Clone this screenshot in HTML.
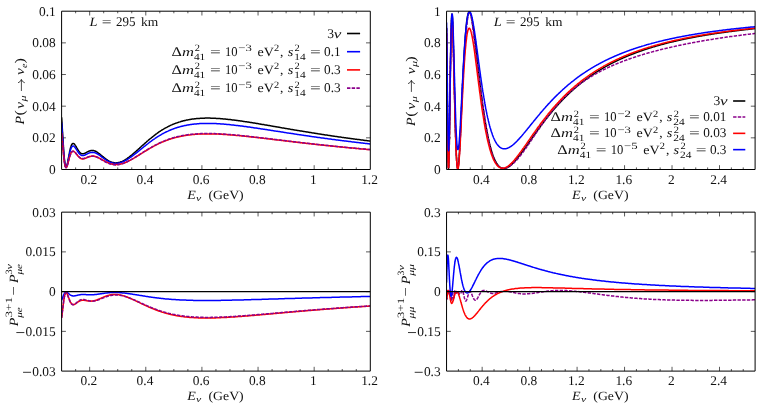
<!DOCTYPE html>
<html><head><meta charset="utf-8"><title>plot</title>
<style>html,body{margin:0;padding:0;background:#fff}svg{display:block;will-change:transform;text-rendering:geometricPrecision}</style>
</head><body>
<svg width="771" height="404" viewBox="0 0 771 404">
<rect width="771" height="404" fill="#fff"/>
<clipPath id="c1"><rect x="61.60" y="10.40" width="308.70" height="159.90"/></clipPath>
<clipPath id="c2"><rect x="446.55" y="10.40" width="308.55" height="159.90"/></clipPath>
<clipPath id="c3"><rect x="61.60" y="211.35" width="308.70" height="160.55"/></clipPath>
<clipPath id="c4"><rect x="446.55" y="211.35" width="308.55" height="160.55"/></clipPath>
<path d="M75.63,169.50v-2.1M75.63,11.20v2.1M89.66,169.50v-4.3M89.66,11.20v4.3M103.70,169.50v-2.1M103.70,11.20v2.1M117.73,169.50v-2.1M117.73,11.20v2.1M131.76,169.50v-2.1M131.76,11.20v2.1M145.79,169.50v-4.3M145.79,11.20v4.3M159.82,169.50v-2.1M159.82,11.20v2.1M173.85,169.50v-2.1M173.85,11.20v2.1M187.89,169.50v-2.1M187.89,11.20v2.1M201.92,169.50v-4.3M201.92,11.20v4.3M215.95,169.50v-2.1M215.95,11.20v2.1M229.98,169.50v-2.1M229.98,11.20v2.1M244.01,169.50v-2.1M244.01,11.20v2.1M258.05,169.50v-4.3M258.05,11.20v4.3M272.08,169.50v-2.1M272.08,11.20v2.1M286.11,169.50v-2.1M286.11,11.20v2.1M300.14,169.50v-2.1M300.14,11.20v2.1M314.17,169.50v-4.3M314.17,11.20v4.3M328.20,169.50v-2.1M328.20,11.20v2.1M342.24,169.50v-2.1M342.24,11.20v2.1M356.27,169.50v-2.1M356.27,11.20v2.1M61.60,137.84h4.3M370.30,137.84h-4.3M61.60,106.18h4.3M370.30,106.18h-4.3M61.60,74.52h4.3M370.30,74.52h-4.3M61.60,42.86h4.3M370.30,42.86h-4.3" fill="none" stroke="#000" stroke-width="0.65"/>
<path d="M458.42,169.50v-2.1M458.42,11.20v2.1M470.28,169.50v-2.1M470.28,11.20v2.1M482.15,169.50v-4.3M482.15,11.20v4.3M494.02,169.50v-2.1M494.02,11.20v2.1M505.89,169.50v-2.1M505.89,11.20v2.1M517.75,169.50v-2.1M517.75,11.20v2.1M529.62,169.50v-4.3M529.62,11.20v4.3M541.49,169.50v-2.1M541.49,11.20v2.1M553.36,169.50v-2.1M553.36,11.20v2.1M565.22,169.50v-2.1M565.22,11.20v2.1M577.09,169.50v-4.3M577.09,11.20v4.3M588.96,169.50v-2.1M588.96,11.20v2.1M600.83,169.50v-2.1M600.83,11.20v2.1M612.69,169.50v-2.1M612.69,11.20v2.1M624.56,169.50v-4.3M624.56,11.20v4.3M636.43,169.50v-2.1M636.43,11.20v2.1M648.29,169.50v-2.1M648.29,11.20v2.1M660.16,169.50v-2.1M660.16,11.20v2.1M672.03,169.50v-4.3M672.03,11.20v4.3M683.90,169.50v-2.1M683.90,11.20v2.1M695.76,169.50v-2.1M695.76,11.20v2.1M707.63,169.50v-2.1M707.63,11.20v2.1M719.50,169.50v-4.3M719.50,11.20v4.3M731.37,169.50v-2.1M731.37,11.20v2.1M743.23,169.50v-2.1M743.23,11.20v2.1M446.55,137.84h4.3M755.10,137.84h-4.3M446.55,106.18h4.3M755.10,106.18h-4.3M446.55,74.52h4.3M755.10,74.52h-4.3M446.55,42.86h4.3M755.10,42.86h-4.3" fill="none" stroke="#000" stroke-width="0.65"/>
<path d="M75.63,371.10v-2.1M75.63,212.15v2.1M89.66,371.10v-4.3M89.66,212.15v4.3M103.70,371.10v-2.1M103.70,212.15v2.1M117.73,371.10v-2.1M117.73,212.15v2.1M131.76,371.10v-2.1M131.76,212.15v2.1M145.79,371.10v-4.3M145.79,212.15v4.3M159.82,371.10v-2.1M159.82,212.15v2.1M173.85,371.10v-2.1M173.85,212.15v2.1M187.89,371.10v-2.1M187.89,212.15v2.1M201.92,371.10v-4.3M201.92,212.15v4.3M215.95,371.10v-2.1M215.95,212.15v2.1M229.98,371.10v-2.1M229.98,212.15v2.1M244.01,371.10v-2.1M244.01,212.15v2.1M258.05,371.10v-4.3M258.05,212.15v4.3M272.08,371.10v-2.1M272.08,212.15v2.1M286.11,371.10v-2.1M286.11,212.15v2.1M300.14,371.10v-2.1M300.14,212.15v2.1M314.17,371.10v-4.3M314.17,212.15v4.3M328.20,371.10v-2.1M328.20,212.15v2.1M342.24,371.10v-2.1M342.24,212.15v2.1M356.27,371.10v-2.1M356.27,212.15v2.1M61.60,331.36h4.3M370.30,331.36h-4.3M61.60,291.62h4.3M370.30,291.62h-4.3M61.60,251.89h4.3M370.30,251.89h-4.3" fill="none" stroke="#000" stroke-width="0.65"/>
<path d="M458.42,371.10v-2.1M458.42,212.15v2.1M470.28,371.10v-2.1M470.28,212.15v2.1M482.15,371.10v-4.3M482.15,212.15v4.3M494.02,371.10v-2.1M494.02,212.15v2.1M505.89,371.10v-2.1M505.89,212.15v2.1M517.75,371.10v-2.1M517.75,212.15v2.1M529.62,371.10v-4.3M529.62,212.15v4.3M541.49,371.10v-2.1M541.49,212.15v2.1M553.36,371.10v-2.1M553.36,212.15v2.1M565.22,371.10v-2.1M565.22,212.15v2.1M577.09,371.10v-4.3M577.09,212.15v4.3M588.96,371.10v-2.1M588.96,212.15v2.1M600.83,371.10v-2.1M600.83,212.15v2.1M612.69,371.10v-2.1M612.69,212.15v2.1M624.56,371.10v-4.3M624.56,212.15v4.3M636.43,371.10v-2.1M636.43,212.15v2.1M648.29,371.10v-2.1M648.29,212.15v2.1M660.16,371.10v-2.1M660.16,212.15v2.1M672.03,371.10v-4.3M672.03,212.15v4.3M683.90,371.10v-2.1M683.90,212.15v2.1M695.76,371.10v-2.1M695.76,212.15v2.1M707.63,371.10v-2.1M707.63,212.15v2.1M719.50,371.10v-4.3M719.50,212.15v4.3M731.37,371.10v-2.1M731.37,212.15v2.1M743.23,371.10v-2.1M743.23,212.15v2.1M446.55,331.36h4.3M755.10,331.36h-4.3M446.55,291.62h4.3M755.10,291.62h-4.3M446.55,251.89h4.3M755.10,251.89h-4.3" fill="none" stroke="#000" stroke-width="0.65"/>
<g clip-path="url(#c1)">
<path d="M61.6 117.4L61.7 118.1L61.7 118.8L61.8 119.5L61.8 120.3L61.9 121.1L61.9 121.8L62.0 122.7L62.0 123.5L62.1 124.3L62.1 125.2L62.2 126.1L62.2 126.7L62.3 127.8L62.3 128.7L62.4 129.7L62.4 130.6L62.5 131.5L62.6 132.4L62.6 133.4L62.7 134.3L62.7 135.3L62.8 136.2L62.8 137.2L62.9 138.1L63.0 139.1L63.0 140.0L63.1 140.9L63.1 141.9L63.2 142.8L63.2 143.7L63.3 144.6L63.4 145.5L63.4 146.4L63.5 147.1L63.5 148.2L63.6 149.1L63.6 149.9L63.7 150.7L63.8 151.6L63.8 152.4L63.9 153.1L63.9 153.9L64.0 154.7L64.1 155.4L64.1 156.1L64.2 156.8L64.3 157.5L64.3 158.2L64.4 158.8L64.4 159.4L64.5 160.0L64.6 160.6L64.6 161.1L64.7 161.6L64.8 162.1L64.8 162.6L64.9 163.1L64.9 163.5L65.0 163.9L65.1 164.6L65.3 165.2L65.4 165.8L65.5 166.2L65.7 166.5L65.9 166.8L66.4 166.8L66.5 166.4L66.7 166.0L66.9 165.6L67.0 165.1L67.2 164.6L67.3 163.9L67.5 163.3L67.6 162.5L67.7 162.2L67.8 161.8L67.8 161.4L67.9 161.0L68.0 160.6L68.1 160.1L68.1 159.7L68.2 159.3L68.3 158.8L68.4 158.4L68.5 158.0L68.5 157.5L68.6 157.1L68.7 156.6L68.8 156.2L68.9 155.7L69.0 155.2L69.0 154.9L69.1 154.4L69.2 153.9L69.3 153.5L69.4 153.0L69.5 152.6L69.5 152.2L69.6 151.7L69.7 151.3L69.8 150.9L69.9 150.5L70.0 150.1L70.1 149.7L70.1 149.4L70.2 149.0L70.4 148.3L70.6 147.6L70.8 147.0L70.9 146.7L71.0 146.2L71.2 145.7L71.4 145.2L71.6 144.8L71.8 144.5L72.0 144.2L72.3 143.8L72.6 143.6L73.0 143.4L73.5 143.5L73.8 143.7L74.1 143.9L74.5 144.2L74.7 144.5L74.9 144.8L75.1 145.1L75.3 145.4L75.6 145.8L75.8 146.1L76.0 146.5L76.3 146.9L76.5 147.4L76.8 147.8L77.0 148.2L77.3 148.6L77.5 149.1L77.7 149.3L77.9 149.7L78.2 150.1L78.4 150.5L78.7 150.9L78.9 151.2L79.2 151.6L79.5 152.0L79.8 152.3L80.1 152.6L80.3 152.9L80.6 153.1L80.9 153.3L81.2 153.5L81.7 153.7L82.1 153.8L82.6 153.8L83.1 153.8L83.6 153.7L84.1 153.6L84.4 153.5L84.7 153.3L85.1 153.2L85.4 153.0L85.8 152.8L86.1 152.6L86.5 152.4L86.9 152.2L87.3 152.0L87.6 151.9L88.0 151.6L88.4 151.4L88.8 151.2L89.2 151.1L89.6 150.9L90.0 150.8L90.5 150.7L90.9 150.6L91.3 150.5L91.8 150.5L92.2 150.5L92.7 150.5L93.1 150.5L93.6 150.6L94.1 150.7L94.6 150.9L95.0 151.0L95.5 151.3L96.1 151.5L96.6 151.8L96.9 152.0L97.4 152.3L97.9 152.7L98.2 152.9L98.4 153.1L98.7 153.3L99.0 153.5L99.3 153.7L99.6 153.9L99.9 154.1L100.1 154.4L100.4 154.6L100.7 154.9L101.0 155.1L101.3 155.4L101.6 155.6L101.9 155.9L102.2 156.1L102.5 156.4L102.9 156.6L103.2 156.9L103.5 157.2L103.8 157.4L104.1 157.7L104.5 158.0L104.8 158.2L105.1 158.5L105.5 158.7L105.8 159.0L106.1 159.2L106.5 159.5L106.9 159.7L107.2 160.0L107.6 160.2L107.9 160.4L108.3 160.6L108.6 160.8L109.0 161.1L109.4 161.3L109.8 161.4L110.2 161.6L110.6 161.8L110.9 161.9L111.3 162.1L111.7 162.2L112.1 162.4L112.5 162.5L112.9 162.6L113.4 162.6L113.8 162.7L114.2 162.8L114.6 162.8L115.1 162.9L115.5 162.9L116.0 162.9L116.7 162.8L117.3 162.8L117.8 162.7L118.2 162.6L118.7 162.5L119.1 162.4L119.7 162.3L120.2 162.1L120.7 162.0L121.0 161.8L121.6 161.6L122.2 161.4L122.7 161.1L123.2 160.9L123.7 160.6L124.1 160.4L124.7 160.0L125.3 159.7L125.9 159.3L126.5 158.9L127.1 158.6L127.6 158.2L128.2 157.7L128.8 157.3L129.4 156.8L130.0 156.4L130.3 156.2L130.6 155.9L130.9 155.7L131.2 155.4L131.5 155.2L131.9 154.9L132.1 154.7L132.5 154.3L133.1 153.8L133.8 153.2L134.5 152.7L135.1 152.1L135.8 151.5L136.5 150.9L137.1 150.3L137.7 149.8L138.3 149.2L138.6 148.9L138.9 148.7L139.4 148.3L140.1 147.6L140.8 147.0L141.4 146.4L142.0 145.8L142.4 145.5L142.6 145.3L143.2 144.8L143.9 144.2L144.5 143.6L144.8 143.4L145.1 143.1L145.6 142.7L146.4 142.0L147.0 141.4L147.2 141.2L147.6 140.9L148.1 140.5L148.8 139.8L149.4 139.3L149.8 139.0L150.7 138.3L151.3 137.8L151.6 137.5L151.9 137.3L152.5 136.8L153.2 136.3L153.5 136.0L153.8 135.8L154.4 135.3L155.0 134.9L155.4 134.6L156.3 133.9L156.9 133.5L157.4 133.1L158.1 132.6L158.4 132.4L158.7 132.2L159.3 131.7L160.0 131.3L160.5 131.0L161.2 130.5L161.5 130.3L161.8 130.1L162.4 129.7L163.1 129.4L163.7 129.0L164.3 128.6L164.8 128.3L165.5 127.9L166.0 127.7L166.8 127.3L167.1 127.1L168.0 126.6L168.6 126.3L169.2 126.0L169.9 125.7L170.5 125.4L171.1 125.1L171.7 124.9L172.3 124.6L173.0 124.3L173.6 124.1L174.2 123.8L174.8 123.6L175.4 123.3L175.8 123.2L176.7 122.9L177.2 122.7L177.9 122.5L178.5 122.3L179.1 122.1L179.8 121.9L180.4 121.7L181.0 121.5L181.6 121.3L182.2 121.2L182.8 121.0L183.5 120.8L184.1 120.7L184.7 120.5L185.3 120.4L185.8 120.3L186.6 120.1L187.2 120.0L187.8 119.9L188.4 119.7L188.8 119.7L189.7 119.5L190.3 119.4L190.9 119.3L191.5 119.2L192.1 119.1L192.8 119.1L193.4 119.0L194.0 118.9L194.6 118.8L195.2 118.7L195.8 118.7L196.5 118.6L197.1 118.6L197.7 118.5L198.3 118.5L198.9 118.4L199.6 118.4L200.2 118.3L200.7 118.3L201.4 118.3L202.0 118.2L202.6 118.2L203.3 118.2L203.9 118.2L204.5 118.2L205.1 118.1L205.7 118.1L206.4 118.1L207.0 118.1L207.6 118.1L208.2 118.1L208.8 118.1L209.5 118.1L210.1 118.1L210.7 118.2L211.3 118.2L211.9 118.2L212.5 118.2L213.2 118.2L213.8 118.3L214.4 118.3L215.0 118.3L215.6 118.3L216.3 118.4L216.8 118.4L217.5 118.5L218.1 118.5L218.7 118.5L219.4 118.6L220.0 118.6L220.6 118.7L221.2 118.7L221.8 118.8L222.4 118.8L223.1 118.9L223.6 118.9L224.3 119.0L224.9 119.0L225.5 119.1L226.0 119.2L226.8 119.2L227.4 119.3L228.0 119.4L228.5 119.4L229.3 119.5L229.9 119.6L230.5 119.6L231.0 119.7L231.7 119.8L232.3 119.9L233.0 119.9L233.6 120.0L234.2 120.1L234.8 120.2L235.4 120.3L236.1 120.3L236.7 120.4L237.3 120.5L237.9 120.6L238.5 120.7L239.0 120.7L239.8 120.8L240.4 120.9L241.0 121.0L241.6 121.1L242.2 121.2L242.9 121.3L243.5 121.4L244.1 121.5L244.6 121.6L245.3 121.7L246.0 121.7L246.6 121.8L247.2 121.9L247.6 122.0L248.4 122.1L249.0 122.2L249.7 122.3L250.3 122.4L250.9 122.5L251.5 122.6L252.1 122.7L252.8 122.8L253.4 122.9L253.8 123.0L254.6 123.1L255.2 123.2L255.9 123.3L256.5 123.4L257.0 123.5L257.7 123.6L258.3 123.7L258.9 123.8L259.6 123.9L260.2 124.0L260.8 124.2L261.4 124.3L262.0 124.4L262.7 124.5L263.3 124.6L263.7 124.6L264.5 124.8L265.1 124.9L265.8 125.0L266.4 125.1L267.0 125.2L267.6 125.3L268.2 125.4L268.8 125.5L269.5 125.6L270.1 125.7L270.7 125.8L271.3 125.9L271.9 126.1L272.6 126.2L273.2 126.3L273.8 126.4L274.4 126.5L275.0 126.6L275.6 126.7L276.3 126.8L276.9 126.9L277.5 127.0L278.1 127.1L278.7 127.2L279.4 127.3L280.0 127.4L280.6 127.6L281.2 127.7L281.8 127.8L282.5 127.9L283.1 128.0L283.7 128.1L284.3 128.2L284.9 128.3L285.5 128.4L286.2 128.5L286.6 128.6L287.4 128.7L288.0 128.8L288.6 128.9L289.3 129.0L289.9 129.1L290.5 129.3L291.1 129.4L291.7 129.5L292.4 129.6L293.0 129.7L293.6 129.8L294.2 129.9L294.8 130.0L295.3 130.1L296.1 130.2L296.7 130.3L297.3 130.4L297.9 130.5L298.5 130.6L299.2 130.7L299.8 130.8L300.4 130.9L301.0 131.0L301.6 131.1L302.2 131.2L302.9 131.3L303.5 131.4L304.1 131.5L304.6 131.6L305.3 131.7L306.0 131.8L306.6 131.9L307.2 132.0L307.8 132.1L308.4 132.2L309.1 132.3L309.5 132.4L310.3 132.5L310.9 132.6L311.5 132.7L312.1 132.8L312.8 132.9L313.4 133.0L314.0 133.1L314.5 133.2L315.2 133.3L315.9 133.4L316.5 133.5L317.1 133.6L317.7 133.7L318.3 133.8L319.0 133.9L319.6 134.0L320.2 134.1L320.8 134.2L321.4 134.3L322.0 134.4L322.7 134.5L323.3 134.6L323.9 134.7L324.5 134.8L325.1 134.9L325.8 135.0L326.4 135.1L327.0 135.1L327.6 135.2L328.2 135.3L328.9 135.4L329.5 135.5L330.1 135.6L330.7 135.7L331.3 135.8L331.9 135.9L332.6 136.0L333.2 136.1L333.8 136.2L334.4 136.2L335.0 136.3L335.7 136.4L336.3 136.5L336.9 136.6L337.5 136.7L338.1 136.8L338.7 136.9L339.4 137.0L340.0 137.0L340.6 137.1L341.2 137.2L341.8 137.3L342.5 137.4L343.0 137.5L343.7 137.6L344.3 137.7L344.9 137.7L345.6 137.8L346.2 137.9L346.8 138.0L347.4 138.1L348.0 138.2L348.6 138.3L349.3 138.3L349.9 138.4L350.5 138.5L351.1 138.6L351.7 138.7L352.4 138.8L353.0 138.8L353.6 138.9L354.2 139.0L354.8 139.1L355.5 139.2L356.1 139.2L356.7 139.3L357.3 139.4L357.9 139.5L358.5 139.6L359.2 139.6L359.8 139.7L360.4 139.8L361.0 139.9L361.6 140.0L362.3 140.0L362.9 140.1L363.5 140.2L364.1 140.3L364.7 140.4L365.4 140.4L366.0 140.5L366.6 140.6L367.2 140.7L367.8 140.7L368.4 140.8L369.1 140.9L369.7 141.0L370.3 141.0" fill="none" stroke="#000000" stroke-width="1.5" stroke-linejoin="round"/>
<path d="M61.6 122.6L61.7 123.2L61.7 123.9L61.8 124.6L61.8 125.2L61.9 125.9L61.9 126.6L62.0 127.4L62.0 128.1L62.1 128.9L62.1 129.7L62.2 130.4L62.2 131.0L62.3 132.0L62.3 132.9L62.4 133.7L62.4 134.5L62.5 135.3L62.6 136.2L62.6 137.0L62.7 137.9L62.7 138.7L62.8 139.6L62.8 140.4L62.9 141.3L63.0 142.1L63.0 143.0L63.1 143.8L63.1 144.7L63.2 145.5L63.2 146.3L63.3 147.2L63.4 148.0L63.4 148.8L63.5 149.4L63.5 150.4L63.6 151.1L63.6 151.9L63.7 152.6L63.8 153.4L63.8 154.1L63.9 154.8L63.9 155.5L64.0 156.2L64.1 156.8L64.1 157.5L64.2 158.1L64.3 158.7L64.3 159.3L64.4 159.9L64.4 160.4L64.5 161.0L64.6 161.5L64.6 162.0L64.7 162.4L64.8 162.9L64.8 163.3L64.9 163.7L65.0 164.4L65.1 165.1L65.3 165.7L65.4 166.1L65.5 166.5L65.7 166.9L66.0 167.2L66.4 167.0L66.5 166.7L66.7 166.3L66.9 166.0L67.0 165.5L67.2 165.0L67.3 164.4L67.5 163.8L67.6 163.2L67.8 162.5L67.9 161.8L68.0 161.4L68.1 161.0L68.1 160.6L68.2 160.2L68.3 159.8L68.4 159.4L68.5 159.0L68.5 158.6L68.6 158.2L68.7 157.8L68.8 157.4L68.9 157.0L69.0 156.6L69.0 156.2L69.1 155.8L69.2 155.4L69.3 155.0L69.4 154.6L69.5 154.2L69.5 153.8L69.6 153.4L69.7 153.1L69.8 152.7L70.0 152.0L70.1 151.3L70.3 150.8L70.4 150.3L70.6 149.7L70.8 149.2L70.9 148.7L71.1 148.2L71.3 147.8L71.5 147.4L71.7 147.1L71.9 146.8L72.1 146.5L72.4 146.3L72.7 146.1L73.1 146.0L73.5 146.1L73.8 146.2L74.1 146.5L74.5 146.8L74.7 147.0L74.9 147.3L75.1 147.6L75.3 147.9L75.6 148.2L75.8 148.5L76.0 148.9L76.3 149.3L76.5 149.7L76.8 150.0L77.0 150.4L77.3 150.8L77.5 151.2L77.8 151.6L78.0 152.0L78.3 152.4L78.6 152.7L78.8 153.1L79.1 153.4L79.4 153.7L79.6 154.0L79.9 154.3L80.2 154.5L80.5 154.8L80.8 155.0L81.1 155.2L81.4 155.3L81.8 155.5L82.3 155.6L82.8 155.6L83.2 155.5L83.7 155.4L84.2 155.3L84.6 155.2L84.9 155.0L85.3 154.9L85.6 154.7L86.0 154.5L86.3 154.4L86.7 154.2L87.1 154.0L87.4 153.8L87.8 153.6L88.2 153.4L88.6 153.2L89.0 153.1L89.4 152.9L89.8 152.8L90.3 152.6L90.7 152.5L91.1 152.4L91.5 152.4L92.0 152.4L92.4 152.3L92.9 152.4L93.4 152.4L93.8 152.5L94.3 152.6L94.8 152.7L95.3 152.9L95.6 153.0L96.1 153.2L96.6 153.5L97.1 153.7L97.5 154.0L97.9 154.2L98.4 154.6L98.7 154.7L99.0 154.9L99.3 155.1L99.6 155.3L99.9 155.5L100.1 155.7L100.4 155.9L100.7 156.2L101.0 156.4L101.3 156.6L101.6 156.8L101.9 157.1L102.2 157.3L102.5 157.5L102.9 157.8L103.2 158.0L103.5 158.2L103.8 158.5L104.1 158.7L104.5 158.9L104.8 159.2L105.1 159.4L105.5 159.6L105.8 159.9L106.1 160.1L106.5 160.3L106.9 160.5L107.2 160.7L107.6 160.9L107.9 161.2L108.3 161.3L108.6 161.5L109.0 161.7L109.4 161.9L109.8 162.1L110.2 162.2L110.6 162.4L110.9 162.5L111.3 162.7L111.7 162.8L112.1 162.9L112.5 163.0L112.9 163.1L113.4 163.2L113.8 163.3L114.2 163.3L114.6 163.4L115.1 163.4L115.5 163.4L116.0 163.4L116.7 163.4L117.3 163.3L117.8 163.3L118.2 163.2L118.7 163.1L119.1 163.0L119.7 162.9L120.2 162.8L120.7 162.6L121.2 162.5L121.6 162.3L122.2 162.1L122.7 161.9L123.2 161.7L123.7 161.4L124.1 161.3L124.7 160.9L125.3 160.6L125.9 160.3L126.5 160.0L127.1 159.6L127.6 159.3L128.2 158.9L128.8 158.5L129.4 158.1L130.0 157.7L130.3 157.5L130.6 157.3L130.9 157.1L131.2 156.8L131.5 156.6L131.9 156.4L132.1 156.2L132.5 155.9L133.1 155.4L133.8 154.9L134.5 154.4L135.1 153.9L135.8 153.3L136.5 152.8L137.1 152.3L137.7 151.8L138.3 151.3L138.6 151.1L138.9 150.8L139.4 150.5L140.1 149.9L140.8 149.3L141.4 148.8L142.0 148.3L142.4 148.0L142.6 147.8L143.2 147.4L143.9 146.8L144.5 146.3L144.8 146.1L145.1 145.8L145.6 145.5L146.4 144.8L147.0 144.4L147.2 144.1L147.6 143.9L148.1 143.5L148.8 142.9L149.4 142.5L149.8 142.2L150.7 141.5L151.3 141.1L151.6 140.8L151.9 140.6L152.5 140.2L153.2 139.7L153.5 139.5L153.8 139.3L154.4 138.9L155.0 138.5L155.4 138.2L156.3 137.6L156.9 137.2L157.4 136.9L158.1 136.4L158.7 136.1L159.3 135.7L160.0 135.3L160.5 135.0L161.2 134.6L161.5 134.4L161.8 134.2L162.4 133.9L163.1 133.5L163.7 133.2L164.3 132.9L164.8 132.6L165.5 132.3L166.0 132.0L166.8 131.6L167.1 131.5L168.0 131.1L168.6 130.8L169.2 130.5L169.9 130.3L170.5 130.0L171.1 129.7L171.7 129.5L172.3 129.2L173.0 129.0L173.6 128.8L174.2 128.6L174.8 128.3L175.4 128.1L175.8 128.0L176.7 127.7L177.2 127.6L177.9 127.3L178.5 127.2L179.1 127.0L179.8 126.8L180.4 126.6L181.0 126.5L181.6 126.3L182.2 126.2L182.8 126.0L183.5 125.9L184.1 125.7L184.7 125.6L185.3 125.5L185.8 125.4L186.6 125.2L187.2 125.1L187.8 125.0L188.4 124.9L188.8 124.8L189.7 124.7L190.3 124.6L190.9 124.5L191.5 124.4L192.1 124.3L192.8 124.3L193.4 124.2L194.0 124.1L194.6 124.0L195.2 124.0L195.8 123.9L196.5 123.9L197.1 123.8L197.7 123.8L198.3 123.7L198.9 123.7L199.6 123.6L200.2 123.6L200.7 123.6L201.4 123.5L202.0 123.5L202.6 123.5L203.3 123.5L203.9 123.5L204.5 123.4L205.1 123.4L205.7 123.4L206.4 123.4L207.0 123.4L207.6 123.4L208.2 123.4L208.8 123.4L209.5 123.4L210.1 123.4L210.7 123.4L211.3 123.5L211.9 123.5L212.5 123.5L213.2 123.5L213.8 123.5L214.4 123.5L215.0 123.6L215.6 123.6L216.3 123.6L216.8 123.7L217.5 123.7L218.1 123.7L218.7 123.8L219.4 123.8L220.0 123.8L220.6 123.9L221.2 123.9L221.8 124.0L222.4 124.0L223.1 124.1L223.6 124.1L224.3 124.2L224.9 124.2L225.5 124.3L226.0 124.3L226.8 124.4L227.4 124.4L228.0 124.5L228.5 124.5L229.3 124.6L229.9 124.7L230.5 124.7L231.0 124.8L231.7 124.9L232.3 124.9L233.0 125.0L233.6 125.1L234.2 125.2L234.8 125.2L235.4 125.3L236.1 125.4L236.7 125.4L237.3 125.5L237.9 125.6L238.5 125.7L239.0 125.7L239.8 125.8L240.4 125.9L241.0 126.0L241.6 126.1L242.2 126.1L242.9 126.2L243.5 126.3L244.1 126.4L244.6 126.5L245.3 126.5L246.0 126.6L246.6 126.7L247.2 126.8L247.6 126.9L248.4 127.0L249.0 127.1L249.7 127.1L250.3 127.2L250.9 127.3L251.5 127.4L252.1 127.5L252.8 127.6L253.4 127.7L253.8 127.7L254.6 127.9L255.2 128.0L255.9 128.0L256.5 128.1L257.0 128.2L257.7 128.3L258.3 128.4L258.9 128.5L259.6 128.6L260.2 128.7L260.8 128.8L261.4 128.9L262.0 129.0L262.7 129.1L263.3 129.2L263.7 129.2L264.5 129.3L265.1 129.4L265.8 129.5L266.4 129.6L267.0 129.7L267.6 129.8L268.2 129.9L268.8 130.0L269.5 130.1L270.1 130.2L270.7 130.3L271.3 130.4L271.9 130.5L272.6 130.6L273.2 130.7L273.8 130.8L274.4 130.9L275.0 131.0L275.6 131.1L276.3 131.2L276.9 131.3L277.5 131.3L278.1 131.4L278.7 131.5L279.4 131.6L280.0 131.7L280.6 131.8L281.2 131.9L281.8 132.0L282.5 132.1L283.1 132.2L283.7 132.3L284.3 132.4L284.9 132.5L285.5 132.6L286.2 132.7L286.6 132.8L287.4 132.9L288.0 133.0L288.6 133.1L289.3 133.2L289.9 133.3L290.5 133.3L291.1 133.4L291.7 133.5L292.4 133.6L293.0 133.7L293.6 133.8L294.2 133.9L294.8 134.0L295.3 134.1L296.1 134.2L296.7 134.3L297.3 134.4L297.9 134.5L298.5 134.6L299.2 134.7L299.8 134.8L300.4 134.8L301.0 134.9L301.6 135.0L302.2 135.1L302.9 135.2L303.5 135.3L304.1 135.4L304.6 135.5L305.3 135.6L306.0 135.7L306.6 135.8L307.2 135.8L307.8 135.9L308.4 136.0L309.1 136.1L309.5 136.2L310.3 136.3L310.9 136.4L311.5 136.5L312.1 136.6L312.8 136.7L313.4 136.7L314.0 136.8L314.5 136.9L315.2 137.0L315.9 137.1L316.5 137.2L317.1 137.3L317.7 137.4L318.3 137.4L319.0 137.5L319.6 137.6L320.2 137.7L320.8 137.8L321.4 137.9L322.0 138.0L322.7 138.0L323.3 138.1L323.9 138.2L324.5 138.3L325.1 138.4L325.8 138.5L326.4 138.6L327.0 138.6L327.6 138.7L328.2 138.8L328.9 138.9L329.5 139.0L330.1 139.1L330.7 139.1L331.3 139.2L331.9 139.3L332.6 139.4L333.2 139.5L333.8 139.5L334.4 139.6L335.0 139.7L335.7 139.8L336.3 139.9L336.9 139.9L337.5 140.0L338.1 140.1L338.7 140.2L339.4 140.3L340.0 140.3L340.6 140.4L341.2 140.5L341.8 140.6L342.5 140.7L343.0 140.7L343.7 140.8L344.3 140.9L344.9 141.0L345.6 141.0L346.2 141.1L346.8 141.2L347.4 141.3L348.0 141.3L348.6 141.4L349.3 141.5L349.9 141.6L350.5 141.6L351.1 141.7L351.7 141.8L352.4 141.9L353.0 141.9L353.6 142.0L354.2 142.1L354.8 142.2L355.5 142.2L356.1 142.3L356.7 142.4L357.3 142.5L357.9 142.5L358.5 142.6L359.2 142.7L359.8 142.7L360.4 142.8L361.0 142.9L361.6 143.0L362.3 143.0L362.9 143.1L363.5 143.2L364.1 143.2L364.7 143.3L365.4 143.4L366.0 143.5L366.6 143.5L367.2 143.6L367.8 143.7L368.4 143.7L369.1 143.8L369.7 143.9L370.3 143.9" fill="none" stroke="#0000ff" stroke-width="1.5" stroke-linejoin="round"/>
<path d="M61.6 133.1L61.7 133.6L61.7 134.1L61.8 134.6L61.8 135.1L61.9 135.7L61.9 136.2L62.0 136.8L62.0 137.4L62.1 138.0L62.1 138.6L62.2 139.2L62.2 139.6L62.3 140.4L62.3 141.1L62.4 141.7L62.4 142.3L62.5 143.0L62.6 143.6L62.6 144.3L62.7 145.0L62.7 145.6L62.8 146.3L62.8 146.9L62.9 147.6L63.0 148.3L63.0 148.9L63.1 149.6L63.1 150.2L63.2 150.9L63.2 151.5L63.3 152.2L63.4 152.8L63.4 153.4L63.5 153.9L63.5 154.6L63.6 155.2L63.6 155.8L63.7 156.4L63.8 157.0L63.8 157.6L63.9 158.1L63.9 158.6L64.0 159.2L64.1 159.7L64.1 160.2L64.2 160.7L64.3 161.1L64.3 161.6L64.4 162.0L64.4 162.5L64.5 162.9L64.6 163.3L64.7 164.0L64.8 164.7L64.9 165.3L65.1 165.8L65.2 166.3L65.3 166.7L65.5 167.0L65.7 167.4L65.9 167.6L66.4 167.5L66.6 167.2L66.8 166.8L66.9 166.5L67.1 166.1L67.2 165.7L67.4 165.2L67.5 164.7L67.7 164.2L67.8 163.8L67.9 163.4L68.1 162.8L68.2 162.2L68.4 161.5L68.5 160.9L68.7 160.3L68.9 159.6L69.0 159.0L69.2 158.4L69.4 157.8L69.5 157.2L69.6 156.8L69.8 156.3L70.0 155.7L70.1 155.2L70.3 154.9L70.4 154.5L70.6 154.0L70.8 153.6L70.9 153.2L71.1 152.8L71.3 152.5L71.5 152.2L71.7 151.9L72.0 151.6L72.3 151.4L72.7 151.2L73.2 151.2L73.6 151.3L73.9 151.5L74.2 151.7L74.6 151.9L74.9 152.3L75.1 152.5L75.3 152.7L75.6 153.0L75.8 153.3L76.0 153.6L76.3 153.9L76.5 154.2L76.8 154.5L77.0 154.8L77.3 155.1L77.5 155.5L77.8 155.8L78.0 156.1L78.3 156.4L78.6 156.7L78.8 157.0L79.1 157.2L79.4 157.5L79.6 157.7L79.9 158.0L80.2 158.2L80.5 158.3L80.9 158.6L81.4 158.7L81.8 158.9L82.3 158.9L82.8 158.9L83.2 158.9L83.7 158.8L84.2 158.7L84.7 158.5L85.1 158.4L85.4 158.3L85.8 158.1L86.1 158.0L86.5 157.8L86.9 157.7L87.3 157.5L87.6 157.4L88.0 157.2L88.4 157.0L88.8 156.9L89.2 156.7L89.6 156.6L90.0 156.5L90.5 156.4L90.9 156.3L91.3 156.2L91.8 156.2L92.2 156.1L92.7 156.1L93.1 156.1L93.6 156.1L94.1 156.2L94.6 156.3L95.0 156.4L95.5 156.5L96.1 156.7L96.6 156.9L97.1 157.1L97.5 157.2L97.9 157.4L98.4 157.7L99.0 157.9L99.3 158.1L99.9 158.4L100.4 158.7L100.7 158.9L101.0 159.0L101.3 159.2L101.6 159.4L101.9 159.5L102.2 159.7L102.5 159.9L102.9 160.1L103.2 160.3L103.5 160.4L103.8 160.6L104.1 160.8L104.5 161.0L104.8 161.2L105.1 161.4L105.5 161.5L105.8 161.7L106.1 161.9L106.5 162.1L106.9 162.2L107.2 162.4L107.6 162.6L107.9 162.7L108.3 162.9L108.6 163.0L109.0 163.2L109.4 163.3L109.8 163.4L110.2 163.6L110.6 163.7L110.9 163.8L111.3 163.9L111.7 164.0L112.1 164.1L112.5 164.2L112.9 164.3L113.4 164.3L113.8 164.4L114.2 164.5L114.6 164.5L115.1 164.5L115.5 164.5L116.0 164.6L116.7 164.5L117.3 164.5L117.8 164.5L118.2 164.4L118.7 164.4L119.1 164.3L119.7 164.2L120.2 164.1L120.7 164.0L121.2 163.9L121.6 163.8L122.2 163.6L122.7 163.5L123.2 163.3L123.7 163.1L124.1 163.0L124.7 162.8L125.3 162.5L125.9 162.3L126.5 162.0L127.1 161.8L127.6 161.5L128.2 161.2L128.8 160.9L129.4 160.6L130.0 160.3L130.6 160.0L131.2 159.7L131.9 159.3L132.5 159.0L133.1 158.6L133.8 158.2L134.5 157.8L135.1 157.4L135.8 157.0L136.5 156.6L137.1 156.2L137.7 155.8L138.3 155.5L138.6 155.3L138.9 155.1L139.4 154.8L140.1 154.4L140.8 153.9L141.4 153.5L142.0 153.2L142.4 152.9L143.2 152.5L143.9 152.0L144.5 151.6L145.1 151.2L145.6 151.0L146.4 150.5L147.0 150.1L147.6 149.8L148.1 149.5L148.8 149.0L149.4 148.7L149.8 148.4L150.7 147.9L151.3 147.6L151.6 147.4L151.9 147.3L152.5 146.9L153.2 146.6L153.5 146.4L153.8 146.2L154.4 145.9L155.0 145.6L155.4 145.4L156.3 144.9L156.9 144.6L157.4 144.4L158.1 144.0L158.7 143.7L159.3 143.4L160.0 143.1L160.5 142.9L161.2 142.6L161.5 142.4L162.4 142.0L163.1 141.8L163.7 141.5L164.3 141.3L164.8 141.1L165.5 140.8L166.0 140.6L166.8 140.3L167.1 140.2L168.0 139.9L168.6 139.7L169.2 139.4L169.9 139.2L170.5 139.0L171.1 138.8L171.7 138.6L172.3 138.5L173.0 138.3L173.6 138.1L174.2 137.9L174.8 137.7L175.4 137.6L175.8 137.5L176.7 137.3L177.2 137.1L177.9 137.0L178.5 136.8L179.1 136.7L179.8 136.5L180.4 136.4L181.0 136.3L181.6 136.2L182.2 136.0L182.8 135.9L183.5 135.8L184.1 135.7L184.7 135.6L185.3 135.5L185.8 135.4L186.6 135.3L187.2 135.2L187.8 135.1L188.4 135.1L188.8 135.0L189.7 134.9L190.3 134.8L190.9 134.8L191.5 134.7L192.1 134.6L192.8 134.6L193.4 134.5L194.0 134.4L194.6 134.4L195.2 134.3L195.8 134.3L196.5 134.3L197.1 134.2L197.7 134.2L198.3 134.1L198.9 134.1L199.6 134.1L200.2 134.0L200.7 134.0L201.4 134.0L202.0 134.0L202.6 134.0L203.3 133.9L203.9 133.9L204.5 133.9L205.1 133.9L205.7 133.9L206.4 133.9L207.0 133.9L207.6 133.9L208.2 133.9L208.8 133.9L209.5 133.9L210.1 133.9L210.7 133.9L211.3 133.9L211.9 133.9L212.5 133.9L213.2 133.9L213.8 134.0L214.4 134.0L215.0 134.0L215.6 134.0L216.3 134.0L216.8 134.1L217.5 134.1L218.1 134.1L218.7 134.1L219.4 134.2L220.0 134.2L220.6 134.2L221.2 134.3L221.8 134.3L222.4 134.3L223.1 134.4L223.6 134.4L224.3 134.4L224.9 134.5L225.5 134.5L226.0 134.6L226.8 134.6L227.4 134.7L228.0 134.7L228.5 134.7L229.3 134.8L229.9 134.8L230.5 134.9L231.0 134.9L231.7 135.0L232.3 135.0L233.0 135.1L233.6 135.1L234.2 135.2L234.8 135.2L235.4 135.3L236.1 135.4L236.7 135.4L237.3 135.5L237.9 135.5L238.5 135.6L239.0 135.6L239.8 135.7L240.4 135.8L241.0 135.8L241.6 135.9L242.2 135.9L242.9 136.0L243.5 136.1L244.1 136.1L244.6 136.2L245.3 136.3L246.0 136.3L246.6 136.4L247.2 136.5L247.6 136.5L248.4 136.6L249.0 136.7L249.7 136.7L250.3 136.8L250.9 136.9L251.5 136.9L252.1 137.0L252.8 137.1L253.4 137.1L254.0 137.2L254.6 137.3L255.2 137.3L255.9 137.4L256.5 137.5L257.0 137.5L257.7 137.6L258.3 137.7L258.9 137.8L259.6 137.8L260.2 137.9L260.8 138.0L261.4 138.1L262.0 138.1L262.7 138.2L263.3 138.3L263.7 138.3L264.5 138.4L265.1 138.5L265.8 138.6L266.4 138.6L267.0 138.7L267.6 138.8L268.2 138.8L268.8 138.9L269.5 139.0L270.1 139.1L270.7 139.1L271.3 139.2L271.9 139.3L272.6 139.4L273.2 139.4L273.8 139.5L274.4 139.6L275.0 139.7L275.6 139.7L276.3 139.8L276.9 139.9L277.5 140.0L278.1 140.0L278.7 140.1L279.4 140.2L280.0 140.2L280.6 140.3L281.2 140.4L281.8 140.5L282.5 140.5L283.1 140.6L283.7 140.7L284.3 140.8L284.9 140.8L285.5 140.9L286.2 141.0L286.6 141.0L287.4 141.1L288.0 141.2L288.6 141.3L289.3 141.4L289.9 141.4L290.5 141.5L291.1 141.6L291.7 141.6L292.4 141.7L293.0 141.8L293.6 141.9L294.2 141.9L294.8 142.0L295.3 142.1L296.1 142.1L296.7 142.2L297.3 142.3L297.9 142.4L298.5 142.4L299.2 142.5L299.8 142.6L300.4 142.7L301.0 142.7L301.6 142.8L302.2 142.9L302.9 142.9L303.5 143.0L304.1 143.1L304.6 143.1L305.3 143.2L306.0 143.3L306.6 143.4L307.2 143.4L307.8 143.5L308.4 143.6L309.1 143.6L309.5 143.7L310.3 143.8L310.9 143.8L311.5 143.9L312.1 144.0L312.8 144.0L313.4 144.1L314.0 144.2L314.5 144.2L315.2 144.3L315.9 144.4L316.5 144.5L317.1 144.5L317.7 144.6L318.3 144.7L319.0 144.7L319.6 144.8L320.2 144.9L320.8 144.9L321.4 145.0L322.0 145.1L322.7 145.1L323.3 145.2L323.9 145.3L324.5 145.3L325.1 145.4L325.8 145.4L326.4 145.5L327.0 145.6L327.6 145.6L328.2 145.7L328.9 145.8L329.5 145.8L330.1 145.9L330.7 146.0L331.3 146.0L331.9 146.1L332.6 146.2L333.2 146.2L333.8 146.3L334.4 146.3L335.0 146.4L335.7 146.5L336.3 146.5L336.9 146.6L337.5 146.7L338.1 146.7L338.7 146.8L339.4 146.8L340.0 146.9L340.6 147.0L341.2 147.0L341.8 147.1L342.5 147.1L343.0 147.2L343.7 147.3L344.3 147.3L344.9 147.4L345.6 147.4L346.2 147.5L346.8 147.6L347.4 147.6L348.0 147.7L348.6 147.7L349.3 147.8L349.9 147.8L350.5 147.9L351.1 148.0L351.7 148.0L352.4 148.1L353.0 148.1L353.6 148.2L354.2 148.3L354.8 148.3L355.5 148.4L356.1 148.4L356.7 148.5L357.3 148.5L357.9 148.6L358.5 148.6L359.2 148.7L359.8 148.8L360.4 148.8L361.0 148.9L361.6 148.9L362.3 149.0L362.9 149.0L363.5 149.1L364.1 149.1L364.7 149.2L365.4 149.2L366.0 149.3L366.6 149.4L367.2 149.4L367.8 149.5L368.4 149.5L369.1 149.6L369.7 149.6L370.3 149.7" fill="none" stroke="#ff0000" stroke-width="1.5" stroke-linejoin="round"/>
<path d="M61.6 133.0L61.7 133.5L61.7 134.0L61.8 134.5L61.8 135.1L61.9 135.6L61.9 136.2L62.0 136.7L62.0 137.3L62.1 137.9L62.1 138.5L62.2 139.1L62.2 139.6L62.3 140.4L62.3 141.0L62.4 141.6L62.4 142.3L62.5 142.9L62.6 143.6L62.6 144.2L62.7 144.9L62.7 145.6L62.8 146.2L62.8 146.9L62.9 147.5L63.0 148.2L63.0 148.9L63.1 149.5L63.1 150.2L63.2 150.8L63.2 151.5L63.3 152.1L63.4 152.7L63.4 153.4L63.5 153.8L63.5 154.6L63.6 155.2L63.6 155.8L63.7 156.4L63.8 156.9L63.8 157.5L63.9 158.1L63.9 158.6L64.0 159.1L64.1 159.6L64.1 160.1L64.2 160.6L64.3 161.1L64.3 161.6L64.4 162.0L64.4 162.4L64.5 162.8L64.6 163.2L64.7 164.0L64.8 164.7L64.9 165.3L65.1 165.8L65.2 166.3L65.3 166.7L65.5 167.0L65.7 167.4L65.9 167.7L66.4 167.6L66.6 167.3L66.8 166.9L66.9 166.6L67.1 166.2L67.2 165.8L67.4 165.4L67.5 164.9L67.7 164.4L67.8 164.0L67.9 163.5L68.1 162.9L68.2 162.3L68.4 161.7L68.5 161.1L68.7 160.5L68.9 159.8L69.0 159.2L69.2 158.6L69.4 158.0L69.5 157.4L69.6 157.0L69.8 156.5L70.0 155.9L70.1 155.4L70.3 155.1L70.4 154.7L70.6 154.2L70.8 153.8L70.9 153.4L71.1 153.0L71.3 152.7L71.5 152.4L71.7 152.1L72.0 151.8L72.3 151.5L72.6 151.4L73.0 151.3L73.5 151.3L73.9 151.5L74.2 151.7L74.6 151.9L74.9 152.2L75.2 152.5L75.5 152.8L75.7 153.0L75.9 153.3L76.2 153.6L76.4 153.9L76.6 154.2L76.9 154.4L77.1 154.7L77.4 155.0L77.6 155.3L77.9 155.6L78.2 155.9L78.4 156.2L78.7 156.5L78.9 156.7L79.2 157.0L79.5 157.2L79.8 157.5L80.1 157.7L80.3 157.8L80.6 158.0L81.1 158.2L81.5 158.4L82.0 158.5L82.4 158.5L82.9 158.5L83.4 158.5L83.9 158.4L84.4 158.3L84.9 158.1L85.3 158.0L85.6 157.9L86.0 157.8L86.3 157.6L86.7 157.5L87.1 157.3L87.4 157.2L87.8 157.0L88.2 156.9L88.6 156.8L89.0 156.7L89.4 156.5L89.8 156.4L90.3 156.3L90.7 156.3L91.1 156.2L91.5 156.2L92.0 156.2L92.4 156.2L92.9 156.2L93.4 156.2L93.8 156.3L94.3 156.4L94.8 156.5L95.3 156.7L95.8 156.8L96.2 157.0L96.6 157.1L97.1 157.3L97.5 157.5L97.9 157.7L98.4 158.0L99.0 158.3L99.3 158.5L99.9 158.8L100.1 158.9L100.4 159.1L100.7 159.3L101.0 159.4L101.3 159.6L101.6 159.8L101.9 160.0L102.2 160.1L102.5 160.3L102.9 160.5L103.2 160.7L103.5 160.9L103.8 161.1L104.1 161.2L104.5 161.4L104.8 161.6L105.1 161.8L105.5 162.0L105.8 162.2L106.1 162.3L106.5 162.5L106.9 162.7L107.2 162.8L107.6 163.0L107.9 163.2L108.3 163.3L108.6 163.4L109.0 163.6L109.4 163.7L109.8 163.9L110.2 164.0L110.6 164.1L110.9 164.2L111.3 164.3L111.7 164.4L112.1 164.5L112.5 164.6L112.9 164.6L113.4 164.7L113.8 164.8L114.2 164.8L114.6 164.8L115.1 164.9L116.0 164.9L116.4 164.9L116.9 164.8L117.3 164.8L117.8 164.7L118.2 164.7L118.7 164.6L119.1 164.6L119.7 164.4L120.2 164.3L120.7 164.2L121.2 164.1L121.6 164.0L122.2 163.8L122.7 163.6L123.2 163.4L123.7 163.3L124.1 163.1L124.7 162.9L125.3 162.6L125.9 162.4L126.5 162.1L127.1 161.8L127.6 161.5L128.2 161.3L128.8 160.9L129.4 160.6L130.0 160.3L130.6 160.0L131.2 159.6L131.9 159.2L132.5 158.9L133.1 158.5L133.8 158.1L134.5 157.7L135.1 157.3L135.8 156.9L136.5 156.5L137.1 156.1L137.7 155.7L138.3 155.3L138.6 155.1L138.9 154.9L139.4 154.6L140.1 154.1L140.8 153.7L141.4 153.3L142.0 152.9L142.4 152.7L143.2 152.2L143.9 151.7L144.5 151.4L145.1 151.0L145.6 150.7L146.4 150.2L147.0 149.8L147.6 149.4L148.1 149.1L148.8 148.7L149.4 148.3L149.8 148.1L150.7 147.6L151.3 147.3L151.6 147.1L151.9 146.9L152.5 146.6L153.2 146.2L153.5 146.0L153.8 145.9L154.4 145.5L155.0 145.2L155.4 145.0L156.3 144.6L156.9 144.3L157.4 144.0L158.1 143.6L158.7 143.3L159.3 143.0L160.0 142.8L160.5 142.5L161.2 142.2L161.5 142.0L162.4 141.6L163.1 141.4L163.7 141.1L164.3 140.9L164.8 140.7L165.5 140.4L166.0 140.2L166.8 139.9L167.1 139.8L168.0 139.5L168.6 139.2L169.2 139.0L169.9 138.8L170.5 138.6L171.1 138.4L171.7 138.2L172.3 138.0L173.0 137.8L173.6 137.7L174.2 137.5L174.8 137.3L175.4 137.2L175.8 137.1L176.7 136.8L177.2 136.7L177.9 136.5L178.5 136.4L179.1 136.3L179.8 136.1L180.4 136.0L181.0 135.9L181.6 135.7L182.2 135.6L182.8 135.5L183.5 135.4L184.1 135.3L184.7 135.2L185.3 135.1L185.8 135.0L186.6 134.9L187.2 134.8L187.8 134.7L188.4 134.6L188.8 134.6L189.7 134.5L190.3 134.4L190.9 134.3L191.5 134.3L192.1 134.2L192.8 134.2L193.4 134.1L194.0 134.0L194.6 134.0L195.2 133.9L195.8 133.9L196.5 133.9L197.1 133.8L197.7 133.8L198.3 133.7L198.9 133.7L199.6 133.7L200.2 133.7L200.7 133.6L201.4 133.6L202.0 133.6L202.6 133.6L203.3 133.6L203.9 133.5L204.5 133.5L205.1 133.5L205.7 133.5L206.4 133.5L207.0 133.5L207.6 133.5L208.2 133.5L208.8 133.5L209.5 133.5L210.1 133.5L210.7 133.5L211.3 133.5L211.9 133.6L212.5 133.6L213.2 133.6L213.8 133.6L214.4 133.6L215.0 133.6L215.6 133.7L216.3 133.7L216.8 133.7L217.5 133.7L218.1 133.8L218.7 133.8L219.4 133.8L220.0 133.9L220.6 133.9L221.2 133.9L221.8 134.0L222.4 134.0L223.1 134.0L223.6 134.1L224.3 134.1L224.9 134.2L225.5 134.2L226.0 134.2L226.8 134.3L227.4 134.3L228.0 134.4L228.5 134.4L229.3 134.5L229.9 134.5L230.5 134.6L231.0 134.6L231.7 134.7L232.3 134.7L233.0 134.8L233.6 134.8L234.2 134.9L234.8 134.9L235.4 135.0L236.1 135.1L236.7 135.1L237.3 135.2L237.9 135.2L238.5 135.3L239.0 135.3L239.8 135.4L240.4 135.5L241.0 135.5L241.6 135.6L242.2 135.7L242.9 135.7L243.5 135.8L244.1 135.9L244.6 135.9L245.3 136.0L246.0 136.1L246.6 136.1L247.2 136.2L247.6 136.2L248.4 136.3L249.0 136.4L249.7 136.5L250.3 136.5L250.9 136.6L251.5 136.7L252.1 136.7L252.8 136.8L253.4 136.9L254.0 136.9L254.6 137.0L255.2 137.1L255.9 137.2L256.5 137.2L257.0 137.3L257.7 137.4L258.3 137.4L258.9 137.5L259.6 137.6L260.2 137.7L260.8 137.7L261.4 137.8L262.0 137.9L262.7 138.0L263.3 138.0L263.7 138.1L264.5 138.2L265.1 138.3L265.8 138.3L266.4 138.4L267.0 138.5L267.6 138.6L268.2 138.6L268.8 138.7L269.5 138.8L270.1 138.8L270.7 138.9L271.3 139.0L271.9 139.1L272.6 139.1L273.2 139.2L273.8 139.3L274.4 139.4L275.0 139.4L275.6 139.5L276.3 139.6L276.9 139.7L277.5 139.7L278.1 139.8L278.7 139.9L279.4 140.0L280.0 140.0L280.6 140.1L281.2 140.2L281.8 140.3L282.5 140.3L283.1 140.4L283.7 140.5L284.3 140.6L284.9 140.6L285.5 140.7L286.2 140.8L286.6 140.8L287.4 140.9L288.0 141.0L288.6 141.1L289.3 141.2L289.9 141.2L290.5 141.3L291.1 141.4L291.7 141.5L292.4 141.5L293.0 141.6L293.6 141.7L294.2 141.8L294.8 141.8L295.3 141.9L296.1 142.0L296.7 142.0L297.3 142.1L297.9 142.2L298.5 142.3L299.2 142.3L299.8 142.4L300.4 142.5L301.0 142.6L301.6 142.6L302.2 142.7L302.9 142.8L303.5 142.8L304.1 142.9L304.6 143.0L305.3 143.1L306.0 143.1L306.6 143.2L307.2 143.3L307.8 143.3L308.4 143.4L309.1 143.5L309.5 143.5L310.3 143.6L310.9 143.7L311.5 143.8L312.1 143.8L312.8 143.9L313.4 144.0L314.0 144.0L314.5 144.1L315.2 144.2L315.9 144.2L316.5 144.3L317.1 144.4L317.7 144.4L318.3 144.5L319.0 144.6L319.6 144.6L320.2 144.7L320.8 144.8L321.4 144.8L322.0 144.9L322.7 145.0L323.3 145.0L323.9 145.1L324.5 145.2L325.1 145.2L325.8 145.3L326.4 145.4L327.0 145.4L327.6 145.5L328.2 145.6L328.9 145.6L329.5 145.7L330.1 145.8L330.7 145.8L331.3 145.9L331.9 146.0L332.6 146.0L333.2 146.1L333.8 146.2L334.4 146.2L335.0 146.3L335.7 146.3L336.3 146.4L336.9 146.5L337.5 146.5L338.1 146.6L338.7 146.7L339.4 146.7L340.0 146.8L340.6 146.8L341.2 146.9L341.8 147.0L342.5 147.0L343.0 147.1L343.7 147.1L344.3 147.2L344.9 147.3L345.6 147.3L346.2 147.4L346.8 147.4L347.4 147.5L348.0 147.6L348.6 147.6L349.3 147.7L349.9 147.7L350.5 147.8L351.1 147.9L351.7 147.9L352.4 148.0L353.0 148.0L353.6 148.1L354.2 148.1L354.8 148.2L355.5 148.3L356.1 148.3L356.7 148.4L357.3 148.4L357.9 148.5L358.5 148.5L359.2 148.6L359.8 148.7L360.4 148.7L361.0 148.8L361.6 148.8L362.3 148.9L362.9 148.9L363.5 149.0L364.1 149.0L364.7 149.1L365.4 149.1L366.0 149.2L366.6 149.3L367.2 149.3L367.8 149.4L368.4 149.4L369.1 149.5L369.7 149.5L370.3 149.6" fill="none" stroke="#8b008b" stroke-width="1.5" stroke-linejoin="round" stroke-dasharray="3.4 1.3"/>
</g>
<g clip-path="url(#c2)">
<path d="M446.6 27.9L446.6 28.6L446.6 29.4L446.6 30.3L446.6 31.1L446.6 32.0L446.6 32.9L446.6 33.8L446.7 34.7L446.7 35.7L446.7 36.7L446.7 37.7L446.7 38.7L446.7 39.7L446.7 40.8L446.7 41.9L446.8 43.0L446.8 44.1L446.8 45.3L446.8 46.5L446.8 47.6L446.8 48.8L446.8 50.1L446.8 51.3L446.9 52.5L446.9 53.8L446.9 55.1L446.9 56.4L446.9 57.7L446.9 59.0L446.9 60.4L447.0 61.7L447.0 63.1L447.0 64.4L447.0 65.8L447.0 67.2L447.0 68.6L447.0 70.0L447.1 71.5L447.1 72.9L447.1 74.3L447.1 75.8L447.1 77.2L447.1 78.7L447.1 80.2L447.2 81.6L447.2 83.1L447.2 84.6L447.2 86.1L447.2 87.6L447.2 89.0L447.2 90.5L447.2 92.0L447.3 93.5L447.3 95.0L447.3 96.5L447.3 98.0L447.3 99.5L447.3 100.9L447.4 102.4L447.4 103.9L447.4 105.4L447.4 106.8L447.4 108.3L447.4 109.8L447.4 111.2L447.5 112.6L447.5 114.1L447.5 115.5L447.5 116.9L447.5 118.3L447.5 119.7L447.5 121.1L447.6 122.5L447.6 123.9L447.6 124.6L447.6 125.2L447.6 126.6L447.6 127.9L447.6 129.2L447.6 130.5L447.7 131.8L447.7 133.1L447.7 134.3L447.7 135.6L447.7 136.8L447.7 138.0L447.8 139.2L447.8 140.4L447.8 141.5L447.8 142.7L447.8 143.8L447.8 144.9L447.8 146.0L447.9 147.0L447.9 148.0L447.9 149.1L447.9 150.1L447.9 150.8L447.9 152.0L448.0 152.9L448.0 153.8L448.0 154.7L448.0 155.5L448.0 156.4L448.0 157.2L448.1 158.0L448.1 158.7L448.1 159.4L448.1 160.1L448.1 160.8L448.1 161.5L448.2 162.1L448.2 162.7L448.2 163.3L448.2 163.8L448.2 164.3L448.2 164.8L448.3 165.3L448.3 165.7L448.3 166.5L448.3 167.2L448.4 167.7L448.4 168.2L448.5 168.6L448.6 168.1L448.7 167.7L448.7 167.1L448.7 166.5L448.8 165.7L448.8 165.2L448.8 164.8L448.8 164.3L448.8 163.8L448.9 163.2L448.9 162.6L448.9 162.0L448.9 161.4L448.9 160.7L448.9 160.1L449.0 159.3L449.0 158.6L449.0 157.8L449.0 157.1L449.0 156.2L449.1 155.4L449.1 154.5L449.1 153.7L449.1 152.7L449.1 151.8L449.2 150.9L449.2 149.9L449.2 148.9L449.2 147.9L449.2 146.8L449.2 145.7L449.3 144.7L449.3 143.5L449.3 143.1L449.3 142.4L449.3 141.3L449.3 140.1L449.4 138.9L449.4 137.7L449.4 136.5L449.4 135.3L449.4 134.0L449.5 132.7L449.5 131.4L449.5 130.1L449.5 128.8L449.5 127.5L449.6 126.1L449.6 124.8L449.6 123.4L449.6 122.0L449.6 120.9L449.7 119.2L449.7 117.8L449.7 116.4L449.7 114.9L449.7 113.5L449.8 112.0L449.8 110.6L449.8 109.1L449.8 107.6L449.8 106.1L449.9 104.6L449.9 103.1L449.9 101.6L449.9 100.1L450.0 98.6L450.0 97.1L450.0 96.5L450.0 95.6L450.0 94.1L450.0 92.6L450.1 91.1L450.1 89.5L450.1 88.0L450.1 86.5L450.1 85.0L450.2 83.5L450.2 82.0L450.2 80.5L450.2 79.0L450.3 77.5L450.3 76.0L450.3 74.5L450.3 73.0L450.3 72.6L450.3 71.6L450.4 70.1L450.4 68.7L450.4 67.2L450.4 65.8L450.5 64.3L450.5 62.9L450.5 61.5L450.5 60.1L450.5 58.7L450.6 57.4L450.6 56.0L450.6 54.7L450.6 53.3L450.7 52.0L450.7 51.3L450.7 50.7L450.7 49.5L450.7 48.2L450.7 46.9L450.8 45.7L450.8 44.5L450.8 43.3L450.8 42.1L450.9 40.9L450.9 39.8L450.9 38.7L450.9 37.6L451.0 36.5L451.0 35.4L451.0 34.4L451.0 33.4L451.1 32.4L451.1 31.4L451.1 30.5L451.1 29.5L451.2 28.6L451.2 27.7L451.2 26.9L451.2 26.1L451.3 25.3L451.3 24.5L451.3 23.7L451.3 23.0L451.4 22.3L451.4 21.6L451.4 21.0L451.4 20.4L451.5 19.8L451.5 19.2L451.5 18.7L451.5 18.2L451.6 17.7L451.6 17.2L451.6 16.8L451.7 16.0L451.7 15.5L451.7 15.1L451.8 14.6L451.9 14.1L452.1 14.4L452.2 14.8L452.3 15.4L452.3 16.0L452.4 16.8L452.4 17.2L452.4 17.7L452.4 18.2L452.5 18.7L452.5 19.2L452.5 19.8L452.6 20.4L452.6 21.0L452.6 21.6L452.7 22.3L452.7 23.0L452.7 23.7L452.7 24.2L452.8 25.3L452.8 26.1L452.8 26.9L452.9 27.8L452.9 28.6L452.9 29.5L452.9 30.5L453.0 31.4L453.0 32.4L453.0 33.4L453.1 34.4L453.1 35.5L453.1 36.5L453.2 37.6L453.2 38.7L453.2 39.8L453.3 41.0L453.3 42.1L453.3 43.3L453.3 44.5L453.4 45.7L453.4 47.0L453.4 48.2L453.5 49.5L453.5 50.8L453.5 52.1L453.6 53.4L453.6 54.7L453.6 56.1L453.7 57.4L453.7 58.8L453.7 60.2L453.8 61.3L453.8 63.0L453.8 64.4L453.9 65.9L453.9 67.3L453.9 68.7L454.0 70.2L454.0 71.7L454.0 73.1L454.1 74.6L454.1 76.1L454.1 77.6L454.2 79.1L454.2 80.6L454.2 82.1L454.3 83.6L454.3 85.1L454.3 86.6L454.4 88.2L454.4 89.7L454.4 91.1L454.5 92.7L454.5 94.2L454.6 95.8L454.6 97.3L454.6 98.8L454.7 100.3L454.7 101.8L454.7 103.3L454.8 104.8L454.8 105.6L454.8 106.3L454.8 107.8L454.9 109.3L454.9 110.7L455.0 112.2L455.0 113.7L455.0 115.1L455.1 116.6L455.1 118.0L455.1 119.1L455.2 120.8L455.2 122.2L455.3 123.6L455.3 125.0L455.3 126.3L455.4 127.7L455.4 129.0L455.4 130.3L455.5 131.2L455.5 132.9L455.6 134.2L455.6 135.5L455.6 136.7L455.7 137.9L455.7 139.1L455.8 140.3L455.8 141.5L455.8 142.6L455.9 143.7L455.9 144.8L456.0 145.9L456.0 147.0L456.0 148.0L456.1 149.1L456.1 150.1L456.2 150.8L456.2 152.0L456.3 152.9L456.3 153.8L456.3 154.7L456.4 155.6L456.4 156.4L456.5 157.2L456.5 157.9L456.6 158.7L456.6 159.5L456.6 160.2L456.7 160.8L456.7 161.5L456.8 162.1L456.8 162.7L456.9 163.3L456.9 163.8L456.9 164.3L457.0 164.8L457.0 165.3L457.1 165.7L457.2 166.5L457.3 167.1L457.4 167.6L457.5 168.1L457.6 168.4L457.9 168.3L458.1 167.8L458.2 167.3L458.3 166.7L458.4 166.0L458.4 165.6L458.5 165.2L458.5 164.7L458.6 164.2L458.6 163.7L458.7 163.2L458.7 162.6L458.8 162.0L458.8 161.4L458.9 160.7L458.9 160.0L459.0 159.3L459.1 158.6L459.1 157.8L459.2 157.1L459.2 156.2L459.2 155.8L459.3 154.5L459.4 153.7L459.4 152.7L459.5 151.8L459.5 150.8L459.6 150.1L459.7 148.9L459.7 147.8L459.8 146.8L459.8 145.7L459.9 144.6L459.9 143.7L460.0 142.4L460.1 141.2L460.1 140.0L460.2 138.8L460.2 137.6L460.3 136.7L460.4 135.1L460.4 133.9L460.5 132.6L460.5 131.3L460.6 130.0L460.6 129.4L460.7 128.7L460.7 127.3L460.8 125.9L460.8 124.6L460.9 123.2L461.0 121.8L461.0 120.4L461.1 119.0L461.2 117.5L461.2 116.1L461.3 114.6L461.3 113.9L461.3 113.2L461.4 111.7L461.5 110.2L461.5 108.7L461.6 107.2L461.7 106.1L461.7 104.2L461.8 102.7L461.9 101.2L461.9 99.7L462.0 98.3L462.1 96.6L462.1 95.1L462.2 93.6L462.3 92.0L462.3 90.5L462.4 88.9L462.5 87.4L462.5 85.9L462.6 84.4L462.7 83.0L462.8 81.3L462.8 79.8L462.9 78.3L463.0 76.7L463.0 75.7L463.0 75.2L463.1 73.7L463.2 72.2L463.3 70.7L463.3 69.3L463.4 68.7L463.4 67.8L463.5 66.3L463.6 64.9L463.6 63.4L463.7 62.1L463.8 60.5L463.9 59.1L463.9 57.7L464.0 56.3L464.1 55.8L464.1 55.0L464.2 53.6L464.3 52.2L464.3 50.9L464.4 49.9L464.5 48.3L464.6 47.0L464.7 45.7L464.7 44.5L464.8 43.2L464.9 42.0L465.0 40.8L465.1 39.6L465.2 38.5L465.2 37.3L465.3 36.2L465.4 35.1L465.5 34.0L465.6 33.0L465.7 31.9L465.8 30.9L465.8 29.9L465.9 28.9L466.0 28.0L466.1 27.1L466.2 26.2L466.3 25.3L466.4 24.5L466.5 23.7L466.6 22.8L466.6 22.1L466.7 21.3L466.8 20.9L466.9 19.9L467.0 19.3L467.1 18.6L467.2 18.0L467.3 17.4L467.4 16.9L467.5 16.4L467.6 15.9L467.7 15.4L467.8 14.9L467.9 14.5L468.0 14.2L468.1 13.8L468.3 13.2L468.5 12.7L468.7 12.3L468.9 12.0L469.2 11.9L469.7 12.1L469.9 12.4L470.1 12.8L470.4 13.3L470.6 13.9L470.7 14.3L470.8 14.7L470.9 15.1L471.1 15.6L471.2 16.0L471.3 16.6L471.4 17.1L471.5 17.7L471.7 18.2L471.8 18.9L471.9 19.5L472.0 20.2L472.2 20.9L472.3 21.6L472.4 22.4L472.5 23.2L472.6 23.7L472.8 24.8L472.9 25.7L473.1 26.5L473.2 27.4L473.3 28.2L473.5 29.3L473.6 30.3L473.8 31.3L473.9 32.3L474.0 33.2L474.2 34.4L474.3 35.5L474.5 36.6L474.6 37.8L474.7 38.6L474.9 40.1L475.0 41.3L475.2 42.5L475.3 43.7L475.4 44.2L475.5 45.0L475.6 46.2L475.7 47.0L475.8 47.5L475.9 48.8L476.1 49.9L476.2 51.5L476.4 52.8L476.6 54.2L476.7 55.5L476.9 56.9L477.0 58.3L477.1 58.8L477.2 59.7L477.4 61.1L477.4 61.8L477.5 62.6L477.7 64.0L477.8 64.8L477.9 65.5L478.0 66.9L478.1 67.7L478.2 68.4L478.4 69.9L478.5 70.7L478.5 71.4L478.7 72.9L478.8 73.6L478.9 74.4L479.1 75.9L479.2 76.6L479.3 77.4L479.4 78.9L479.5 79.5L479.6 80.4L479.8 81.9L480.0 83.5L480.2 85.0L480.4 86.5L480.5 88.0L480.7 89.6L480.9 90.7L480.9 91.2L481.1 92.7L481.2 93.4L481.3 94.2L481.5 95.8L481.7 97.3L481.9 98.7L482.1 100.3L482.2 101.3L482.3 101.9L482.5 103.4L482.6 103.8L482.7 104.9L482.9 106.3L483.2 107.9L483.3 108.8L483.4 109.4L483.6 110.9L483.8 112.4L484.0 113.5L484.2 115.3L484.3 115.7L484.5 116.7L484.6 117.9L484.9 119.6L485.0 120.1L485.1 121.0L485.3 122.2L485.6 123.8L485.7 124.3L485.8 125.2L486.0 126.2L486.3 127.9L486.6 129.3L486.7 130.1L486.8 130.6L487.0 131.9L487.3 133.2L487.4 133.7L487.5 134.5L487.7 135.4L488.1 137.0L488.3 138.2L488.4 138.7L488.6 139.4L488.8 140.2L489.1 141.7L489.4 142.9L489.6 144.0L489.8 144.6L489.9 145.1L490.1 146.0L490.5 147.3L490.8 148.3L491.0 149.3L491.2 149.8L491.3 150.3L491.5 150.9L491.6 151.3L491.9 152.0L492.2 153.1L492.5 154.1L492.8 154.9L493.1 155.8L493.4 156.6L493.6 157.0L493.7 157.4L493.9 157.8L494.1 158.2L494.3 158.6L494.6 159.4L494.9 160.2L495.3 160.9L495.6 161.5L496.0 162.1L496.3 162.7L496.7 163.3L497.0 163.8L497.3 164.3L497.7 164.8L498.0 165.2L498.4 165.6L498.7 166.0L499.1 166.3L499.4 166.6L499.7 166.9L500.0 167.1L500.4 167.4L500.8 167.6L501.1 167.8L501.5 168.0L501.8 168.1L502.2 168.2L502.8 168.4L503.3 168.4L503.7 168.4L504.2 168.4L504.9 168.3L505.4 168.2L505.9 168.1L506.3 168.0L506.6 167.9L507.0 167.7L507.3 167.6L507.6 167.4L508.0 167.2L508.3 167.0L508.7 166.8L509.0 166.6L509.4 166.3L509.7 166.1L510.0 165.8L510.4 165.6L510.7 165.3L511.1 165.0L511.4 164.7L511.8 164.4L512.1 164.1L512.4 163.8L512.8 163.4L513.1 163.1L513.5 162.7L513.8 162.3L514.1 162.1L514.5 161.6L514.8 161.2L515.2 160.8L515.5 160.5L515.8 160.2L516.2 159.7L516.6 159.3L516.9 158.8L517.3 158.4L517.6 158.0L517.9 157.6L518.2 157.2L518.6 156.7L518.9 156.4L519.3 155.8L519.5 155.5L520.0 154.9L520.3 154.5L520.7 154.0L521.0 153.6L521.4 153.1L521.7 152.6L522.1 152.2L522.4 151.7L522.7 151.2L523.1 150.8L523.4 150.3L523.8 149.8L524.1 149.3L524.3 149.0L524.8 148.4L525.1 148.0L525.5 147.4L525.8 146.9L526.2 146.4L526.5 145.9L526.9 145.5L527.2 145.0L527.5 144.5L527.9 144.0L528.1 143.7L528.6 143.0L528.9 142.5L529.3 142.0L529.6 141.5L530.0 141.1L530.3 140.6L530.5 140.2L531.0 139.6L531.3 139.1L531.7 138.6L532.0 138.1L532.2 137.8L532.7 137.1L533.0 136.7L533.4 136.2L533.7 135.7L534.0 135.3L534.4 134.7L534.8 134.2L535.1 133.8L535.4 133.3L535.8 132.8L536.1 132.3L536.5 131.8L536.7 131.5L537.2 130.9L537.5 130.4L537.8 129.9L538.2 129.5L538.5 129.0L538.9 128.5L539.2 128.0L539.6 127.6L539.9 127.1L540.2 126.6L540.6 126.2L540.9 125.7L541.3 125.3L541.6 124.8L542.0 124.3L542.3 123.9L542.7 123.4L543.0 123.0L543.3 122.5L543.7 122.1L544.0 121.6L544.4 121.2L544.7 120.7L545.1 120.3L545.4 119.8L545.7 119.4L545.9 119.1L546.4 118.5L546.8 118.1L547.1 117.7L547.5 117.2L547.8 116.8L548.1 116.4L548.5 115.9L548.8 115.5L549.2 115.1L549.4 114.8L549.9 114.2L550.2 113.8L550.5 113.4L550.9 113.0L551.2 112.6L551.6 112.2L551.8 111.9L552.3 111.3L552.6 110.9L552.9 110.5L553.3 110.1L553.6 109.7L554.0 109.3L554.3 108.9L554.7 108.5L555.0 108.1L555.3 107.7L555.7 107.4L556.0 107.0L556.4 106.6L556.7 106.2L557.0 105.9L557.4 105.4L557.8 105.0L558.1 104.7L558.4 104.4L558.8 103.9L559.1 103.5L559.5 103.2L559.8 102.8L560.2 102.4L560.5 102.1L560.8 101.7L561.2 101.3L561.5 101.0L561.9 100.6L562.2 100.2L562.6 99.9L562.9 99.5L563.2 99.2L563.6 98.8L563.9 98.5L564.3 98.1L564.6 97.8L565.0 97.4L565.3 97.1L565.6 96.8L566.0 96.4L566.3 96.1L566.7 95.7L567.0 95.4L567.4 95.1L567.7 94.7L568.0 94.4L568.4 94.1L568.7 93.8L569.1 93.4L569.4 93.1L569.8 92.8L570.1 92.5L570.5 92.1L570.8 91.8L571.1 91.5L571.5 91.2L571.8 90.9L572.2 90.6L572.5 90.3L572.9 90.0L573.2 89.7L573.5 89.3L573.9 89.0L574.2 88.7L574.6 88.4L574.9 88.1L575.3 87.8L575.6 87.6L575.9 87.3L576.3 87.0L576.6 86.7L577.0 86.4L577.3 86.1L577.7 85.8L578.0 85.5L578.3 85.2L578.7 85.0L579.0 84.7L579.4 84.4L579.7 84.1L580.1 83.8L580.4 83.6L580.7 83.3L581.1 83.0L581.4 82.7L581.8 82.5L582.1 82.2L582.5 81.9L582.8 81.7L583.1 81.4L583.5 81.1L583.8 80.9L584.2 80.6L584.5 80.4L584.9 80.1L585.2 79.8L585.6 79.6L585.9 79.3L586.2 79.1L586.6 78.8L586.9 78.6L587.3 78.3L587.6 78.1L588.0 77.8L588.3 77.6L588.6 77.3L589.0 77.1L589.3 76.8L589.7 76.6L590.0 76.4L590.4 76.1L590.7 75.9L591.0 75.7L591.4 75.4L591.7 75.2L592.1 75.0L592.4 74.7L592.8 74.5L593.1 74.3L593.4 74.0L593.8 73.8L594.1 73.6L594.5 73.4L594.8 73.1L595.2 72.9L595.5 72.7L595.8 72.5L596.2 72.2L596.5 72.0L596.9 71.8L597.2 71.6L597.6 71.4L597.9 71.2L598.3 71.0L598.6 70.7L598.9 70.5L599.3 70.3L599.6 70.1L600.0 69.9L600.3 69.7L600.7 69.5L601.0 69.3L601.3 69.1L601.7 68.9L602.0 68.7L602.4 68.5L602.7 68.3L603.1 68.1L603.4 67.9L603.7 67.7L604.1 67.5L604.4 67.3L604.8 67.1L605.1 66.9L605.5 66.7L605.8 66.5L606.1 66.3L606.5 66.1L606.8 65.9L607.2 65.8L607.5 65.6L607.9 65.4L608.2 65.2L608.5 65.0L608.9 64.8L609.2 64.6L609.6 64.5L609.9 64.3L610.3 64.1L610.6 63.9L610.9 63.7L611.3 63.6L611.6 63.4L612.0 63.2L612.3 63.0L612.7 62.9L613.0 62.7L613.4 62.5L613.7 62.3L614.0 62.2L614.4 62.0L614.7 61.8L615.1 61.7L615.4 61.5L615.8 61.3L616.1 61.2L616.4 61.0L616.8 60.8L617.1 60.7L617.5 60.5L617.8 60.3L618.2 60.2L618.5 60.0L618.8 59.9L619.2 59.7L619.5 59.5L619.9 59.4L620.2 59.2L620.6 59.1L620.9 58.9L621.2 58.8L621.6 58.6L621.9 58.5L622.3 58.3L622.6 58.1L623.0 58.0L623.3 57.8L623.6 57.7L624.0 57.5L624.3 57.4L624.7 57.3L625.0 57.1L625.4 57.0L625.7 56.8L626.1 56.7L626.4 56.5L626.7 56.4L627.1 56.2L627.4 56.1L627.8 55.9L628.1 55.8L628.5 55.7L628.8 55.5L629.1 55.4L629.5 55.2L629.8 55.1L630.2 55.0L630.5 54.8L630.9 54.7L631.2 54.6L631.5 54.4L631.9 54.3L632.2 54.2L632.6 54.0L632.9 53.9L633.3 53.8L633.6 53.6L633.9 53.5L634.3 53.4L634.6 53.2L635.0 53.1L635.3 53.0L635.7 52.8L636.0 52.7L636.3 52.6L636.7 52.5L637.0 52.3L637.4 52.2L637.7 52.1L638.1 52.0L638.4 51.8L638.8 51.7L639.1 51.6L639.4 51.5L639.8 51.3L640.1 51.2L640.5 51.1L640.8 51.0L641.2 50.9L641.5 50.7L641.8 50.6L642.2 50.5L642.5 50.4L642.9 50.3L643.2 50.2L643.6 50.0L643.9 49.9L644.2 49.8L644.6 49.7L644.9 49.6L645.3 49.5L645.6 49.4L646.0 49.2L646.3 49.1L646.6 49.0L647.0 48.9L647.3 48.8L647.7 48.7L648.0 48.6L648.4 48.5L648.7 48.4L649.0 48.2L649.4 48.1L649.7 48.0L650.1 47.9L650.8 47.7L651.4 47.5L652.1 47.3L652.8 47.1L653.5 46.9L654.2 46.7L654.9 46.5L655.6 46.3L656.3 46.1L656.9 45.9L657.6 45.7L658.2 45.5L658.7 45.4L659.3 45.2L660.0 45.0L660.7 44.8L661.4 44.6L662.1 44.4L662.8 44.3L663.1 44.2L663.8 44.0L664.5 43.8L665.2 43.6L665.9 43.4L666.6 43.3L667.2 43.1L667.9 42.9L668.6 42.7L669.3 42.6L670.0 42.4L670.7 42.2L671.4 42.1L672.0 41.9L672.5 41.8L673.1 41.7L673.8 41.5L674.4 41.3L675.1 41.2L675.8 41.0L676.5 40.9L677.2 40.7L677.8 40.6L678.2 40.5L678.9 40.3L679.6 40.2L680.3 40.0L681.0 39.9L681.7 39.7L682.3 39.6L683.0 39.4L683.7 39.3L684.4 39.1L685.1 39.0L685.8 38.8L686.5 38.7L687.1 38.6L687.8 38.4L688.5 38.3L688.9 38.2L689.5 38.1L690.2 37.9L690.9 37.8L691.6 37.7L692.3 37.5L693.0 37.4L693.7 37.3L694.4 37.2L694.9 37.1L695.4 37.0L696.1 36.8L696.8 36.7L697.4 36.6L698.1 36.5L698.8 36.3L699.5 36.2L700.2 36.1L700.9 36.0L701.6 35.9L702.2 35.7L702.9 35.6L703.6 35.5L704.3 35.4L705.0 35.3L705.7 35.1L706.4 35.0L707.0 34.9L707.7 34.8L708.4 34.7L709.1 34.6L709.8 34.5L710.5 34.4L711.2 34.3L711.9 34.1L712.5 34.0L713.2 33.9L713.9 33.8L714.6 33.7L715.3 33.6L716.0 33.5L716.7 33.4L717.3 33.3L718.0 33.2L718.7 33.1L719.4 33.0L720.1 32.9L720.8 32.8L721.5 32.7L721.9 32.7L722.5 32.6L723.2 32.5L723.9 32.4L724.6 32.3L725.2 32.2L725.9 32.1L726.6 32.0L727.3 31.9L728.0 31.8L728.7 31.7L729.4 31.6L730.0 31.5L730.7 31.4L731.4 31.4L732.1 31.3L732.8 31.2L733.5 31.1L734.2 31.0L734.9 30.9L735.5 30.8L736.2 30.7L736.9 30.7L737.6 30.6L738.3 30.5L739.0 30.4L739.7 30.3L740.3 30.2L741.0 30.2L741.7 30.1L742.4 30.0L743.1 29.9L743.8 29.8L744.5 29.8L745.1 29.7L745.8 29.6L746.5 29.5L747.2 29.5L747.9 29.4L748.6 29.3L749.3 29.2L750.0 29.1L750.6 29.1L751.3 29.0L752.0 28.9L752.7 28.8L753.4 28.8L754.1 28.7L754.8 28.6L755.1 28.6" fill="none" stroke="#000000" stroke-width="1.5" stroke-linejoin="round"/>
<path d="M446.6 28.4L446.6 29.3L446.6 30.2L446.6 31.2L446.6 32.2L446.6 33.3L446.6 34.3L446.6 35.4L446.7 36.5L446.7 37.7L446.7 38.8L446.7 40.0L446.7 41.2L446.7 42.5L446.7 43.7L446.7 45.0L446.8 46.2L446.8 47.5L446.8 48.8L446.8 50.1L446.8 51.5L446.8 52.8L446.8 54.1L446.8 55.5L446.9 56.8L446.9 58.2L446.9 59.5L446.9 60.9L446.9 62.3L446.9 63.6L446.9 65.0L447.0 66.3L447.0 67.7L447.0 69.1L447.0 70.4L447.0 71.8L447.0 73.1L447.0 74.4L447.1 75.8L447.1 77.1L447.1 78.5L447.1 79.8L447.1 81.1L447.1 82.4L447.1 83.8L447.2 85.1L447.2 86.4L447.2 87.7L447.2 89.0L447.2 90.3L447.2 91.6L447.2 92.9L447.2 94.2L447.3 95.6L447.3 96.9L447.3 98.2L447.3 99.5L447.3 100.8L447.3 102.1L447.4 103.4L447.4 104.7L447.4 106.0L447.4 107.3L447.4 108.6L447.4 110.0L447.4 111.3L447.5 112.6L447.5 113.9L447.5 115.2L447.5 116.6L447.5 117.9L447.5 119.2L447.5 120.5L447.6 121.9L447.6 123.2L447.6 123.9L447.6 124.5L447.6 125.8L447.6 127.1L447.6 128.4L447.6 129.7L447.7 131.0L447.7 132.3L447.7 133.6L447.7 134.9L447.7 136.1L447.7 137.4L447.8 138.6L447.8 139.8L447.8 141.1L447.8 142.3L447.8 143.4L447.8 144.6L447.8 145.7L447.9 146.9L447.9 148.0L447.9 149.1L447.9 150.1L447.9 151.0L447.9 152.2L448.0 153.2L448.0 154.1L448.0 155.1L448.0 156.0L448.0 156.8L448.0 157.7L448.1 158.5L448.1 159.3L448.1 160.0L448.1 160.8L448.1 161.5L448.1 162.1L448.2 162.8L448.2 163.4L448.2 163.9L448.2 164.5L448.2 165.0L448.2 165.4L448.3 165.9L448.3 166.6L448.3 167.3L448.4 167.8L448.4 168.4L448.6 168.1L448.7 167.4L448.7 166.9L448.7 166.2L448.8 165.5L448.8 164.7L448.8 164.3L448.8 163.8L448.9 163.3L448.9 162.8L448.9 162.3L448.9 161.7L448.9 161.1L448.9 160.5L449.0 159.9L449.0 159.2L449.0 158.6L449.0 157.9L449.0 157.1L449.1 156.4L449.1 155.6L449.1 154.8L449.1 154.0L449.1 153.1L449.2 152.2L449.2 151.3L449.2 150.4L449.2 149.4L449.2 148.4L449.2 147.4L449.3 146.4L449.3 145.3L449.3 144.8L449.3 144.2L449.3 143.1L449.3 141.9L449.4 140.7L449.4 139.5L449.4 138.3L449.4 137.0L449.4 135.7L449.5 134.4L449.5 133.1L449.5 131.7L449.5 130.4L449.5 129.0L449.6 127.6L449.6 126.1L449.6 124.7L449.6 123.2L449.6 122.0L449.7 120.2L449.7 118.7L449.7 117.1L449.7 115.6L449.7 114.0L449.8 112.5L449.8 110.9L449.8 109.3L449.8 107.8L449.8 106.2L449.9 104.6L449.9 103.0L449.9 101.4L449.9 99.8L450.0 98.3L450.0 96.7L450.0 96.0L450.0 95.1L450.0 93.5L450.0 92.0L450.1 90.4L450.1 88.9L450.1 87.4L450.1 85.9L450.1 84.4L450.2 82.9L450.2 81.4L450.2 80.0L450.2 78.5L450.3 77.1L450.3 75.7L450.3 74.3L450.3 73.0L450.3 71.6L450.4 70.3L450.4 69.0L450.4 67.7L450.4 66.4L450.5 65.2L450.5 63.9L450.5 62.7L450.5 61.5L450.5 60.4L450.6 59.2L450.6 58.0L450.6 56.9L450.6 55.8L450.7 54.7L450.7 54.1L450.7 53.6L450.7 52.6L450.7 51.5L450.7 50.5L450.8 49.4L450.8 48.4L450.8 47.4L450.8 46.4L450.9 45.4L450.9 44.5L450.9 43.5L450.9 42.5L451.0 41.6L451.0 40.7L451.0 39.7L451.0 38.8L451.1 37.9L451.1 37.0L451.1 36.1L451.1 35.2L451.2 34.3L451.2 33.5L451.2 32.6L451.2 31.8L451.3 30.9L451.3 30.1L451.3 29.3L451.3 28.5L451.4 27.7L451.4 26.9L451.4 26.1L451.4 25.4L451.5 24.6L451.5 23.9L451.5 23.2L451.5 22.5L451.6 21.8L451.6 21.2L451.6 20.6L451.6 20.0L451.7 19.4L451.7 18.8L451.7 18.3L451.7 17.8L451.8 17.4L451.8 16.9L451.8 16.2L451.9 15.5L452.0 15.1L452.0 14.6L452.2 15.1L452.3 15.6L452.3 16.4L452.4 17.1L452.4 17.7L452.4 18.3L452.5 18.9L452.5 19.5L452.5 20.2L452.6 20.9L452.6 21.6L452.6 22.4L452.7 23.2L452.7 24.1L452.7 25.0L452.7 25.6L452.8 26.9L452.8 27.9L452.8 28.9L452.9 29.9L452.9 31.0L452.9 32.1L452.9 33.2L453.0 34.3L453.0 35.5L453.0 36.7L453.1 37.9L453.1 39.1L453.1 40.3L453.2 41.5L453.2 42.8L453.2 44.1L453.3 45.3L453.3 46.6L453.3 47.9L453.3 49.2L453.4 50.5L453.4 51.8L453.4 53.1L453.5 54.4L453.5 55.7L453.5 57.0L453.6 58.3L453.6 59.7L453.6 61.0L453.7 62.3L453.7 63.6L453.7 64.9L453.8 65.9L453.8 67.5L453.8 68.8L453.9 70.1L453.9 71.5L453.9 72.8L454.0 74.1L454.0 75.4L454.0 76.7L454.1 78.0L454.1 79.3L454.1 80.6L454.2 81.9L454.2 83.2L454.2 84.5L454.3 85.9L454.3 87.2L454.3 88.5L454.4 89.8L454.4 91.2L454.4 92.4L454.5 93.8L454.5 95.2L454.6 96.5L454.6 97.9L454.6 99.2L454.7 100.6L454.7 102.0L454.7 103.3L454.8 104.7L454.8 105.4L454.8 106.1L454.8 107.5L454.9 108.9L454.9 110.2L455.0 111.6L455.0 113.0L455.0 114.4L455.1 115.8L455.1 117.2L455.1 118.3L455.2 120.0L455.2 121.4L455.3 122.8L455.3 124.2L455.3 125.6L455.4 127.0L455.4 128.4L455.4 129.7L455.5 130.7L455.5 132.4L455.6 133.8L455.6 135.1L455.6 136.4L455.7 137.7L455.7 139.0L455.8 140.2L455.8 141.5L455.8 142.7L455.9 143.9L455.9 145.1L456.0 146.2L456.0 147.4L456.0 148.5L456.1 149.6L456.1 150.6L456.2 151.4L456.2 152.7L456.3 153.6L456.3 154.6L456.3 155.5L456.4 156.4L456.4 157.2L456.5 158.0L456.5 158.7L456.6 159.6L456.6 160.3L456.6 161.0L456.7 161.7L456.7 162.3L456.8 162.9L456.8 163.5L456.9 164.0L456.9 164.5L456.9 165.0L457.0 165.4L457.0 165.8L457.1 166.5L457.2 166.9L457.3 167.4L457.4 167.8L457.5 168.2L457.9 168.1L458.1 167.6L458.2 167.1L458.3 166.6L458.4 166.0L458.5 165.2L458.5 164.8L458.6 164.4L458.6 163.9L458.7 163.5L458.7 163.0L458.8 162.4L458.8 161.9L458.9 161.3L458.9 160.7L459.0 160.1L459.1 159.4L459.1 158.7L459.2 158.0L459.2 157.3L459.2 156.8L459.3 155.7L459.4 154.9L459.4 154.1L459.5 153.2L459.5 152.3L459.6 151.5L459.7 150.4L459.7 149.4L459.8 148.3L459.8 147.3L459.9 146.2L459.9 145.2L460.0 143.9L460.1 142.8L460.1 141.6L460.2 140.4L460.2 139.1L460.3 138.2L460.4 136.5L460.4 135.2L460.5 133.9L460.5 132.5L460.6 131.1L460.6 130.5L460.7 129.7L460.7 128.3L460.8 126.8L460.8 125.3L460.9 123.9L461.0 122.4L461.0 120.9L461.1 119.3L461.2 117.8L461.2 116.3L461.3 114.7L461.3 114.0L461.3 113.2L461.4 111.6L461.5 110.0L461.5 108.5L461.6 106.9L461.7 105.7L461.7 103.7L461.8 102.2L461.9 100.6L461.9 99.0L462.0 97.6L462.1 95.9L462.1 94.4L462.2 92.9L462.3 91.4L462.3 89.9L462.4 88.4L462.5 86.9L462.5 85.4L462.6 83.9L462.7 82.7L462.8 81.1L462.8 79.6L462.9 78.2L463.0 76.9L463.0 76.0L463.0 75.5L463.1 74.1L463.2 72.8L463.3 71.5L463.3 70.2L463.4 69.7L463.4 68.9L463.5 67.6L463.6 66.4L463.6 65.1L463.7 64.0L463.8 62.7L463.9 61.5L463.9 60.3L464.0 59.1L464.1 58.7L464.1 57.9L464.2 56.8L464.3 55.6L464.3 54.5L464.4 53.7L464.5 52.3L464.6 51.2L464.7 50.1L464.7 49.0L464.8 47.9L464.9 46.8L465.0 45.8L465.1 44.7L465.2 43.7L465.2 42.6L465.3 41.6L465.4 40.6L465.5 39.5L465.6 38.5L465.7 37.5L465.8 36.5L465.8 35.5L465.9 34.5L466.0 33.6L466.1 32.6L466.2 31.6L466.3 30.7L466.4 29.7L466.5 28.9L466.6 27.9L466.6 27.0L466.7 26.1L466.8 25.6L466.9 24.4L467.0 23.5L467.1 22.7L467.2 21.9L467.3 21.2L467.4 20.4L467.5 19.8L467.6 19.0L467.7 18.3L467.8 17.7L467.9 17.0L468.0 16.4L468.1 15.9L468.2 15.5L468.3 14.9L468.4 14.4L468.5 14.0L468.6 13.6L468.8 13.0L469.0 12.5L469.2 12.2L469.6 12.1L469.9 12.3L470.1 12.8L470.4 13.4L470.5 13.7L470.6 14.1L470.7 14.6L470.8 15.1L470.9 15.5L471.1 16.2L471.2 16.8L471.3 17.2L471.4 18.1L471.5 18.8L471.7 19.6L471.8 20.4L471.9 21.2L472.0 22.1L472.2 23.0L472.3 23.9L472.4 24.9L472.5 25.8L472.6 26.5L472.8 27.9L472.9 28.9L473.1 30.0L473.2 31.1L473.3 32.0L473.5 33.3L473.6 34.4L473.7 34.9L473.8 35.6L473.9 36.8L474.0 37.8L474.2 39.1L474.3 40.3L474.5 41.5L474.6 42.8L474.7 43.6L474.9 45.2L475.0 46.4L475.2 47.7L475.3 48.9L475.4 49.3L475.5 50.2L475.6 51.4L475.7 52.2L475.8 52.6L475.9 53.9L476.1 55.0L476.2 56.4L476.4 57.7L476.6 58.9L476.7 60.2L476.9 61.4L477.0 62.7L477.1 63.2L477.2 64.0L477.4 65.2L477.4 65.8L477.5 66.5L477.7 67.8L477.8 68.4L477.9 69.0L478.0 70.3L478.1 71.0L478.2 71.6L478.4 72.9L478.5 73.6L478.5 74.2L478.7 75.5L478.8 76.2L478.9 76.8L479.1 78.1L479.2 78.7L479.3 79.4L479.4 80.7L479.5 81.2L479.6 82.0L479.8 83.4L480.0 84.7L480.2 86.1L480.4 87.4L480.5 88.7L480.7 90.2L480.9 91.1L480.9 91.5L481.1 92.9L481.2 93.6L481.3 94.3L481.5 95.7L481.7 97.1L481.9 98.5L482.1 100.0L482.2 100.9L482.3 101.4L482.5 102.9L482.6 103.3L482.7 104.3L482.9 105.7L483.2 107.2L483.3 108.1L483.4 108.7L483.6 110.1L483.8 111.6L484.0 112.7L484.2 114.5L484.3 115.0L484.5 116.0L484.6 117.2L484.9 118.9L485.0 119.4L485.1 120.4L485.3 121.6L485.6 123.3L485.7 123.8L485.8 124.7L486.0 125.8L486.3 127.6L486.6 129.0L486.7 129.9L486.8 130.4L487.0 131.8L487.3 133.2L487.4 133.7L487.5 134.5L487.7 135.5L488.1 137.2L488.3 138.5L488.4 139.1L488.6 139.8L488.8 140.7L489.1 142.3L489.4 143.5L489.6 144.7L489.8 145.4L489.9 145.9L490.1 146.8L490.5 148.1L490.8 149.2L491.0 150.3L491.2 150.7L491.3 151.3L491.5 151.9L491.6 152.3L491.9 153.1L492.2 154.2L492.5 155.1L492.8 156.0L493.1 156.9L493.4 157.7L493.6 158.0L493.7 158.4L493.9 158.9L494.1 159.2L494.3 159.6L494.6 160.4L494.9 161.1L495.3 161.7L495.6 162.4L496.0 162.9L496.3 163.5L496.7 164.0L497.0 164.4L497.3 164.9L497.7 165.3L498.0 165.6L498.4 166.0L498.7 166.3L499.1 166.6L499.4 166.8L499.7 167.1L500.1 167.3L500.4 167.4L500.8 167.6L501.1 167.8L501.5 167.9L502.0 168.0L502.4 168.1L502.8 168.2L503.3 168.2L503.9 168.2L504.5 168.2L505.0 168.1L505.4 168.0L505.9 167.9L506.3 167.8L506.6 167.7L507.0 167.5L507.3 167.4L507.6 167.3L508.0 167.1L508.3 166.9L508.7 166.7L509.0 166.6L509.4 166.4L509.7 166.1L510.0 165.9L510.4 165.7L510.7 165.5L511.1 165.2L511.4 165.0L511.8 164.7L512.1 164.4L512.4 164.2L512.8 163.8L513.1 163.5L513.5 163.2L513.8 162.9L514.1 162.7L514.5 162.3L514.8 161.9L515.2 161.6L515.5 161.2L515.8 161.0L516.2 160.5L516.6 160.2L516.9 159.8L517.3 159.4L517.6 159.0L517.9 158.6L518.2 158.3L518.6 157.8L518.9 157.5L519.3 157.0L519.5 156.7L520.0 156.1L520.3 155.7L520.7 155.3L521.0 154.8L521.4 154.4L521.7 153.9L522.1 153.5L522.4 153.0L522.7 152.6L523.1 152.1L523.4 151.6L523.8 151.2L524.1 150.7L524.3 150.4L524.8 149.7L525.1 149.4L525.5 148.8L525.8 148.3L526.2 147.8L526.5 147.3L526.9 146.8L527.2 146.3L527.5 145.8L527.9 145.3L528.1 145.0L528.6 144.3L528.9 143.8L529.3 143.3L529.6 142.8L530.0 142.2L530.3 141.7L530.5 141.4L531.0 140.7L531.3 140.2L531.7 139.7L532.0 139.2L532.2 138.8L532.7 138.1L533.0 137.6L533.4 137.1L533.7 136.6L534.0 136.2L534.4 135.6L534.8 135.1L535.1 134.6L535.4 134.0L535.8 133.5L536.1 133.0L536.5 132.5L536.7 132.1L537.2 131.5L537.5 131.0L537.8 130.5L538.2 130.0L538.5 129.5L538.9 129.0L539.2 128.5L539.6 128.0L539.9 127.5L540.2 127.0L540.6 126.5L540.9 126.0L541.3 125.5L541.6 125.0L542.0 124.5L542.3 124.0L542.7 123.5L543.0 123.1L543.3 122.6L543.7 122.1L544.0 121.6L544.4 121.1L544.7 120.7L545.1 120.2L545.4 119.7L545.7 119.3L545.9 119.0L546.4 118.3L546.8 117.9L547.1 117.5L547.5 117.0L547.8 116.5L548.1 116.0L548.5 115.6L548.8 115.1L549.2 114.7L549.4 114.4L549.9 113.8L550.2 113.4L550.5 112.9L550.9 112.5L551.2 112.1L551.6 111.7L551.8 111.3L552.3 110.8L552.6 110.4L552.9 110.0L553.3 109.5L553.6 109.1L554.0 108.7L554.3 108.3L554.7 107.9L555.0 107.5L555.3 107.1L555.7 106.7L556.0 106.3L556.4 105.9L556.7 105.5L557.0 105.2L557.4 104.7L557.8 104.3L558.1 104.0L558.4 103.7L558.8 103.2L559.1 102.8L559.5 102.5L559.8 102.1L560.2 101.7L560.5 101.4L560.8 101.0L561.2 100.6L561.5 100.3L561.9 99.9L562.2 99.6L562.6 99.2L562.9 98.9L563.2 98.5L563.6 98.2L563.9 97.8L564.3 97.5L564.6 97.1L565.0 96.8L565.3 96.5L565.6 96.1L566.0 95.8L566.3 95.5L566.7 95.1L567.0 94.8L567.4 94.5L567.7 94.2L568.0 93.9L568.4 93.5L568.7 93.2L569.1 92.9L569.4 92.6L569.8 92.3L570.1 92.0L570.5 91.7L570.8 91.4L571.1 91.1L571.5 90.8L571.8 90.5L572.2 90.2L572.5 89.9L572.9 89.6L573.2 89.3L573.5 89.0L573.9 88.8L574.2 88.5L574.6 88.2L574.9 87.9L575.3 87.6L575.6 87.4L575.9 87.1L576.3 86.8L576.6 86.5L577.0 86.3L577.3 86.0L577.7 85.7L578.0 85.5L578.3 85.2L578.7 85.0L579.0 84.7L579.4 84.5L579.7 84.2L580.1 83.9L580.4 83.7L580.7 83.4L581.1 83.2L581.4 82.9L581.8 82.7L582.1 82.4L582.5 82.2L582.8 82.0L583.1 81.7L583.5 81.5L583.8 81.3L584.2 81.0L584.5 80.8L584.9 80.5L585.2 80.3L585.6 80.1L585.9 79.9L586.2 79.6L586.6 79.4L586.9 79.2L587.3 79.0L587.6 78.7L588.0 78.5L588.3 78.3L588.6 78.1L589.0 77.9L589.3 77.6L589.7 77.4L590.0 77.2L590.4 77.0L590.7 76.8L591.0 76.6L591.4 76.4L591.7 76.2L592.1 76.0L592.4 75.8L592.8 75.6L593.1 75.4L593.4 75.2L593.8 75.0L594.1 74.8L594.5 74.6L594.8 74.4L595.2 74.2L595.5 74.0L595.8 73.8L596.2 73.6L596.5 73.4L596.9 73.2L597.2 73.0L597.6 72.8L597.9 72.7L598.3 72.5L598.6 72.3L598.9 72.1L599.3 71.9L599.6 71.7L600.0 71.6L600.3 71.4L600.7 71.2L601.0 71.0L601.3 70.8L601.7 70.7L602.0 70.5L602.4 70.3L602.7 70.1L603.1 70.0L603.4 69.8L603.7 69.6L604.1 69.5L604.4 69.3L604.8 69.1L605.1 69.0L605.5 68.8L605.8 68.6L606.1 68.5L606.5 68.3L606.8 68.1L607.2 68.0L607.5 67.8L607.9 67.6L608.2 67.5L608.5 67.3L608.9 67.2L609.2 67.0L609.6 66.9L609.9 66.7L610.3 66.5L610.6 66.4L610.9 66.2L611.3 66.1L611.6 65.9L612.0 65.8L612.3 65.6L612.7 65.5L613.0 65.3L613.4 65.2L613.7 65.0L614.0 64.9L614.4 64.7L614.7 64.6L615.1 64.5L615.4 64.3L615.8 64.2L616.1 64.0L616.4 63.9L616.8 63.7L617.1 63.6L617.5 63.5L617.8 63.3L618.2 63.2L618.5 63.0L618.8 62.9L619.2 62.8L619.5 62.6L619.9 62.5L620.2 62.4L620.6 62.2L620.9 62.1L621.2 62.0L621.6 61.8L621.9 61.7L622.3 61.6L622.6 61.4L623.0 61.3L623.3 61.2L623.6 61.0L624.0 60.9L624.3 60.8L624.7 60.6L625.0 60.5L625.4 60.4L625.7 60.3L626.1 60.1L626.4 60.0L626.7 59.9L627.1 59.8L627.4 59.6L627.8 59.5L628.1 59.4L628.5 59.3L628.8 59.1L629.1 59.0L629.5 58.9L629.8 58.8L630.2 58.7L630.5 58.6L630.9 58.4L631.2 58.3L631.5 58.2L631.9 58.1L632.2 58.0L632.6 57.8L632.9 57.7L633.3 57.6L633.6 57.5L633.9 57.4L634.3 57.3L634.6 57.2L635.0 57.0L635.3 56.9L635.7 56.8L636.0 56.7L636.3 56.6L636.7 56.5L637.0 56.4L637.4 56.3L637.7 56.1L638.1 56.0L638.4 55.9L638.8 55.8L639.1 55.7L639.4 55.6L639.8 55.5L640.1 55.4L640.8 55.2L641.5 55.0L641.8 54.9L642.5 54.7L643.2 54.4L643.9 54.2L644.6 54.0L645.3 53.8L646.0 53.6L646.6 53.4L647.3 53.2L648.0 53.0L648.7 52.8L649.4 52.7L650.1 52.5L650.8 52.3L651.4 52.1L652.1 51.9L652.8 51.7L653.5 51.5L654.2 51.3L654.9 51.1L655.6 51.0L656.3 50.8L656.9 50.6L657.6 50.4L658.2 50.3L658.7 50.2L659.3 50.0L660.0 49.8L660.7 49.6L661.4 49.5L662.1 49.3L662.8 49.1L663.1 49.0L663.8 48.9L664.5 48.7L665.2 48.5L665.9 48.4L666.6 48.2L667.2 48.1L667.9 47.9L668.6 47.7L669.3 47.6L670.0 47.4L670.7 47.3L671.4 47.1L672.0 46.9L672.5 46.8L673.1 46.7L673.8 46.6L674.4 46.4L675.1 46.3L675.8 46.1L676.5 46.0L677.2 45.8L677.8 45.7L678.2 45.6L678.9 45.4L679.6 45.3L680.3 45.2L681.0 45.0L681.7 44.9L682.3 44.7L683.0 44.6L683.7 44.4L684.4 44.3L685.1 44.2L685.8 44.0L686.5 43.9L687.1 43.8L687.8 43.6L688.5 43.5L688.9 43.4L689.5 43.3L690.2 43.2L690.9 43.0L691.6 42.9L692.3 42.8L693.0 42.6L693.7 42.5L694.4 42.4L694.9 42.3L695.4 42.2L696.1 42.1L696.8 41.9L697.4 41.8L698.1 41.7L698.8 41.6L699.5 41.4L700.2 41.3L700.9 41.2L701.6 41.1L702.2 41.0L702.9 40.8L703.6 40.7L704.3 40.6L705.0 40.5L705.7 40.4L706.4 40.3L707.0 40.1L707.7 40.0L708.4 39.9L709.1 39.8L709.8 39.7L710.5 39.6L711.2 39.5L711.9 39.4L712.5 39.3L713.2 39.1L713.9 39.0L714.6 38.9L715.3 38.8L716.0 38.7L716.7 38.6L717.3 38.5L718.0 38.4L718.7 38.3L719.4 38.2L720.1 38.1L720.8 38.0L721.5 37.9L721.9 37.8L722.5 37.7L723.2 37.6L723.9 37.5L724.6 37.4L725.2 37.3L725.9 37.2L726.6 37.1L727.3 37.0L728.0 36.9L728.7 36.8L729.4 36.7L730.0 36.6L730.7 36.6L731.4 36.5L732.1 36.4L732.8 36.3L733.5 36.2L734.2 36.1L734.9 36.0L735.5 35.9L736.2 35.8L736.9 35.7L737.6 35.6L738.3 35.5L739.0 35.5L739.7 35.4L740.3 35.3L741.0 35.2L741.7 35.1L742.4 35.0L743.1 34.9L743.8 34.8L744.5 34.8L745.1 34.7L745.8 34.6L746.5 34.5L747.2 34.4L747.9 34.3L748.6 34.3L749.3 34.2L750.0 34.1L750.6 34.0L751.3 33.9L752.0 33.8L752.7 33.8L753.4 33.7L754.1 33.6L754.8 33.5L755.1 33.5" fill="none" stroke="#8b008b" stroke-width="1.5" stroke-linejoin="round" stroke-dasharray="3.4 1.3"/>
<path d="M446.6 32.4L446.6 33.1L446.6 33.9L446.6 34.7L446.6 35.5L446.6 36.3L446.6 37.2L446.6 38.1L446.7 39.0L446.7 39.9L446.7 40.9L446.7 41.9L446.7 42.8L446.7 43.9L446.7 44.9L446.7 45.9L446.8 47.0L446.8 48.1L446.8 49.2L446.8 50.3L446.8 51.5L446.8 52.6L446.8 53.8L446.8 55.0L446.9 56.2L446.9 57.4L446.9 58.6L446.9 59.9L446.9 61.1L446.9 62.4L446.9 63.7L447.0 65.0L447.0 66.3L447.0 67.6L447.0 69.0L447.0 70.3L447.0 71.6L447.0 73.0L447.1 74.4L447.1 75.7L447.1 77.1L447.1 78.5L447.1 79.9L447.1 81.3L447.1 82.7L447.2 84.1L447.2 85.6L447.2 87.0L447.2 88.4L447.2 89.8L447.2 91.2L447.2 92.7L447.2 94.1L447.3 95.5L447.3 97.0L447.3 98.4L447.3 99.8L447.3 101.2L447.3 102.7L447.4 104.1L447.4 105.5L447.4 106.9L447.4 108.3L447.4 109.7L447.4 111.1L447.4 112.5L447.5 113.9L447.5 115.3L447.5 116.6L447.5 118.0L447.5 119.4L447.5 120.7L447.5 122.0L447.6 123.4L447.6 124.7L447.6 125.4L447.6 126.0L447.6 127.3L447.6 128.5L447.6 129.8L447.6 131.1L447.7 132.3L447.7 133.5L447.7 134.7L447.7 135.9L447.7 137.1L447.7 138.3L447.8 139.4L447.8 140.5L447.8 141.6L447.8 142.7L447.8 143.8L447.8 144.9L447.8 145.9L447.9 146.9L447.9 147.9L447.9 148.9L447.9 149.8L447.9 150.6L447.9 151.7L448.0 152.6L448.0 153.4L448.0 154.3L448.0 155.1L448.0 155.9L448.0 156.7L448.1 157.5L448.1 158.2L448.1 158.9L448.1 159.6L448.1 160.2L448.1 160.9L448.2 161.5L448.2 162.0L448.2 162.6L448.2 163.1L448.2 163.6L448.2 164.1L448.3 164.6L448.3 165.4L448.3 166.1L448.4 166.7L448.4 167.2L448.4 167.7L448.6 167.3L448.7 166.9L448.7 166.3L448.7 165.6L448.8 164.9L448.8 164.4L448.8 164.0L448.8 163.5L448.9 163.0L448.9 162.4L448.9 161.9L448.9 161.3L448.9 160.6L448.9 160.0L449.0 159.3L449.0 158.7L449.0 157.9L449.0 157.2L449.0 156.4L449.1 155.6L449.1 154.8L449.1 154.0L449.1 153.1L449.1 152.3L449.2 151.4L449.2 150.4L449.2 149.5L449.2 148.5L449.2 147.5L449.2 146.5L449.3 145.5L449.3 144.5L449.3 143.4L449.3 142.3L449.3 141.2L449.4 140.1L449.4 139.0L449.4 137.8L449.4 136.6L449.4 135.4L449.5 134.2L449.5 133.0L449.5 131.8L449.5 130.5L449.5 129.3L449.6 128.0L449.6 126.7L449.6 125.4L449.6 124.1L449.6 123.0L449.7 121.4L449.7 120.1L449.7 118.8L449.7 117.4L449.7 116.0L449.8 114.6L449.8 113.2L449.8 111.9L449.8 110.4L449.8 109.0L449.9 107.6L449.9 106.2L449.9 104.8L449.9 103.4L450.0 101.9L450.0 100.5L450.0 99.9L450.0 99.1L450.0 97.6L450.0 96.2L450.1 94.7L450.1 93.3L450.1 91.9L450.1 90.4L450.1 89.0L450.2 87.6L450.2 86.1L450.2 84.7L450.2 83.3L450.3 81.8L450.3 80.4L450.3 79.0L450.3 77.6L450.3 77.2L450.3 76.2L450.4 74.8L450.4 73.4L450.4 72.1L450.4 70.7L450.5 69.3L450.5 68.0L450.5 66.7L450.5 65.3L450.5 64.0L450.6 62.7L450.6 61.4L450.6 60.1L450.6 58.9L450.7 57.6L450.7 57.0L450.7 56.4L450.7 55.1L450.7 53.9L450.7 52.7L450.8 51.6L450.8 50.4L450.8 49.3L450.8 48.1L450.9 47.0L450.9 45.9L450.9 44.9L450.9 43.8L451.0 42.8L451.0 41.7L451.0 40.8L451.0 39.8L451.1 38.8L451.1 37.9L451.1 37.0L451.1 36.1L451.2 35.2L451.2 34.4L451.2 33.6L451.2 32.8L451.3 32.0L451.3 31.2L451.3 30.5L451.3 29.8L451.4 29.1L451.4 28.5L451.4 27.9L451.4 27.3L451.5 26.7L451.5 26.1L451.5 25.6L451.5 25.1L451.6 24.6L451.6 24.2L451.6 23.4L451.7 22.7L451.7 22.1L451.8 21.6L451.9 21.1L452.2 21.5L452.2 21.9L452.3 22.4L452.3 23.1L452.4 23.7L452.4 24.2L452.4 24.7L452.5 25.2L452.5 25.7L452.5 26.2L452.6 26.7L452.6 27.3L452.6 27.9L452.7 28.5L452.7 29.2L452.7 29.9L452.7 30.6L452.8 31.3L452.8 32.1L452.8 32.8L452.9 33.6L452.9 34.5L452.9 35.3L452.9 36.2L453.0 37.1L453.0 38.0L453.0 38.9L453.1 39.9L453.1 40.9L453.1 41.9L453.2 42.9L453.2 43.9L453.2 45.0L453.3 46.0L453.3 47.1L453.3 48.3L453.3 49.4L453.4 50.5L453.4 51.7L453.4 52.9L453.5 54.1L453.5 55.3L453.5 56.5L453.6 57.8L453.6 59.0L453.6 60.3L453.7 61.6L453.7 62.9L453.7 64.2L453.8 65.2L453.8 66.8L453.8 68.2L453.9 69.5L453.9 70.9L453.9 72.3L454.0 73.7L454.0 75.0L454.0 76.4L454.1 77.8L454.1 79.3L454.1 80.7L454.2 82.1L454.2 83.5L454.2 85.0L454.3 86.4L454.3 87.8L454.3 89.3L454.4 90.7L454.4 92.2L454.4 93.5L454.5 95.0L454.5 96.5L454.6 97.9L454.6 99.4L454.6 100.8L454.7 102.3L454.7 103.7L454.7 105.1L454.8 106.6L454.8 107.3L454.8 108.0L454.8 109.4L454.9 110.8L454.9 112.2L455.0 113.6L455.0 115.0L455.0 116.4L455.1 117.8L455.1 119.2L455.1 120.2L455.2 121.9L455.2 123.2L455.3 124.5L455.3 125.9L455.3 127.2L455.4 128.5L455.4 129.8L455.4 131.0L455.5 131.9L455.5 133.5L455.6 134.7L455.6 136.0L455.6 137.2L455.7 138.3L455.7 139.5L455.8 140.6L455.8 141.8L455.8 142.9L455.9 144.0L455.9 145.0L456.0 146.1L456.0 147.1L456.0 148.2L456.1 149.1L456.1 150.1L456.2 150.8L456.2 152.0L456.3 152.9L456.3 153.8L456.3 154.7L456.4 155.5L456.4 156.3L456.5 157.1L456.5 157.8L456.6 158.7L456.6 159.4L456.6 160.1L456.7 160.8L456.7 161.4L456.8 162.0L456.8 162.6L456.9 163.2L456.9 163.8L456.9 164.3L457.0 164.8L457.0 165.3L457.1 165.7L457.1 166.1L457.2 166.6L457.3 167.2L457.4 167.8L457.5 168.3L457.5 168.7L457.7 169.0L458.0 168.8L458.2 168.3L458.3 167.9L458.4 167.3L458.5 166.6L458.6 166.0L458.6 165.4L458.7 164.9L458.7 164.5L458.8 163.9L458.8 163.4L458.9 162.8L458.9 162.2L459.0 161.6L459.1 161.0L459.1 160.3L459.2 159.6L459.2 158.9L459.2 158.5L459.3 157.4L459.4 156.7L459.4 155.8L459.5 155.0L459.5 154.2L459.6 153.5L459.7 152.4L459.7 151.5L459.8 150.6L459.8 149.6L459.9 148.6L459.9 147.8L460.0 146.6L460.1 145.6L460.1 144.5L460.2 143.5L460.2 142.4L460.3 141.6L460.4 140.1L460.4 139.0L460.5 137.8L460.5 136.7L460.6 135.5L460.6 134.9L460.7 134.3L460.7 133.1L460.8 131.9L460.8 130.6L460.9 129.4L461.0 128.1L461.0 126.8L461.1 125.5L461.2 124.2L461.2 122.9L461.3 121.6L461.3 121.0L461.3 120.3L461.4 119.0L461.5 117.6L461.5 116.3L461.6 114.9L461.7 113.9L461.7 112.2L461.8 110.8L461.9 109.4L461.9 108.1L462.0 106.8L462.1 105.3L462.1 103.9L462.2 102.5L462.3 101.1L462.3 99.8L462.4 98.3L462.5 96.9L462.5 95.5L462.6 94.1L462.7 92.9L462.8 91.3L462.8 90.0L462.9 88.6L463.0 87.2L463.0 86.3L463.0 85.8L463.1 84.5L463.2 83.1L463.3 81.7L463.3 80.4L463.4 79.9L463.4 79.0L463.5 77.7L463.6 76.4L463.6 75.0L463.7 73.9L463.8 72.4L463.9 71.1L463.9 69.9L464.0 68.6L464.1 68.1L464.1 67.3L464.2 66.1L464.3 64.9L464.3 63.7L464.4 62.8L464.5 61.3L464.6 60.1L464.7 58.9L464.7 57.8L464.8 56.7L464.9 55.5L465.0 54.4L465.1 53.4L465.2 52.3L465.2 51.3L465.3 50.2L465.4 49.2L465.5 48.3L465.6 47.3L465.7 46.3L465.8 45.4L465.8 44.5L465.9 43.6L466.0 42.8L466.1 41.9L466.2 41.1L466.3 40.3L466.4 39.6L466.5 38.9L466.6 38.1L466.6 37.4L466.7 36.7L466.8 36.3L466.9 35.4L467.0 34.8L467.1 34.2L467.2 33.7L467.3 33.2L467.4 32.7L467.5 32.3L467.6 31.7L467.7 31.3L467.8 30.9L467.9 30.6L468.1 29.9L468.3 29.3L468.5 28.9L468.7 28.6L469.0 28.3L469.5 28.3L469.8 28.6L470.0 28.9L470.2 29.3L470.5 29.9L470.7 30.5L470.8 30.9L470.9 31.3L471.1 31.7L471.2 32.2L471.3 32.6L471.4 33.1L471.5 33.7L471.7 34.2L471.8 34.8L471.9 35.4L472.0 36.0L472.2 36.7L472.3 37.3L472.4 38.0L472.5 38.7L472.6 39.2L472.8 40.3L472.9 41.1L473.1 41.9L473.2 42.7L473.3 43.4L473.5 44.4L473.6 45.4L473.8 46.3L473.9 47.2L474.0 48.0L474.2 49.2L474.3 50.2L474.5 51.2L474.6 52.2L474.7 52.9L474.9 54.4L475.0 55.5L475.2 56.6L475.3 57.7L475.5 58.8L475.6 60.0L475.7 60.7L475.8 61.2L475.9 62.4L476.1 63.4L476.2 64.8L476.4 66.0L476.6 67.3L476.7 68.5L476.9 69.8L477.0 71.1L477.1 71.5L477.2 72.3L477.4 73.6L477.4 74.2L477.5 75.0L477.7 76.3L477.8 77.0L477.9 77.6L478.0 78.9L478.1 79.7L478.2 80.3L478.4 81.6L478.5 82.4L478.5 83.0L478.7 84.4L478.8 85.1L478.9 85.7L479.1 87.1L479.2 87.7L479.3 88.5L479.4 89.9L479.5 90.4L479.6 91.3L479.8 92.6L480.0 94.0L480.2 95.4L480.4 96.8L480.5 98.1L480.7 99.6L480.9 100.6L480.9 101.0L481.1 102.4L481.2 103.1L481.3 103.8L481.5 105.2L481.7 106.6L481.9 107.9L482.1 109.3L482.2 110.2L482.3 110.7L482.5 112.1L482.6 112.5L482.7 113.4L482.9 114.7L483.2 116.2L483.3 116.9L483.4 117.5L483.6 118.8L483.8 120.2L484.0 121.2L484.2 122.8L484.3 123.2L484.5 124.1L484.6 125.2L484.9 126.7L485.0 127.1L485.1 128.0L485.3 129.0L485.6 130.5L485.7 130.9L485.8 131.7L486.0 132.6L486.3 134.1L486.6 135.3L486.7 136.1L486.8 136.5L487.0 137.7L487.3 138.8L487.4 139.3L487.5 139.9L487.7 140.8L488.1 142.2L488.3 143.2L488.4 143.7L488.6 144.3L488.8 145.1L489.1 146.4L489.4 147.4L489.6 148.4L489.8 148.9L489.9 149.3L490.1 150.1L490.5 151.2L490.8 152.1L491.0 153.0L491.2 153.4L491.3 153.9L491.5 154.4L491.9 155.4L492.2 156.3L492.5 157.1L492.8 157.8L493.1 158.6L493.4 159.3L493.7 159.9L493.9 160.3L494.1 160.6L494.3 161.0L494.6 161.6L494.9 162.2L495.3 162.8L495.6 163.3L496.0 163.9L496.3 164.3L496.7 164.8L497.0 165.2L497.3 165.6L497.7 165.9L498.0 166.3L498.4 166.6L498.7 166.8L499.1 167.1L499.4 167.3L499.7 167.5L500.1 167.7L500.4 167.8L500.8 167.9L501.2 168.1L501.6 168.1L502.0 168.2L502.5 168.2L503.2 168.2L503.7 168.1L504.1 168.0L504.5 167.9L504.9 167.8L505.2 167.7L505.6 167.5L505.9 167.4L506.3 167.2L506.6 167.0L507.0 166.8L507.3 166.6L507.6 166.4L508.0 166.2L508.3 166.0L508.7 165.7L509.0 165.4L509.4 165.1L509.7 164.8L510.0 164.5L510.4 164.2L510.7 163.9L511.1 163.6L511.3 163.3L511.8 162.9L512.1 162.5L512.4 162.2L512.8 161.8L513.1 161.4L513.5 161.1L513.8 160.7L514.1 160.4L514.5 159.9L514.8 159.5L515.2 159.1L515.5 158.6L515.8 158.3L516.2 157.8L516.6 157.4L516.9 156.9L517.3 156.5L517.6 156.0L517.9 155.6L518.2 155.2L518.6 154.7L518.9 154.4L519.3 153.8L519.5 153.5L520.0 152.8L520.3 152.4L520.7 151.9L521.0 151.4L521.4 151.0L521.7 150.5L522.1 150.0L522.4 149.5L522.7 149.0L523.1 148.6L523.4 148.1L523.8 147.6L524.1 147.1L524.3 146.8L524.8 146.1L525.1 145.7L525.5 145.1L525.8 144.7L526.2 144.1L526.5 143.6L526.9 143.2L527.2 142.7L527.5 142.2L527.9 141.7L528.1 141.3L528.6 140.7L528.9 140.2L529.3 139.7L529.6 139.2L530.0 138.7L530.3 138.2L530.5 137.8L531.0 137.2L531.3 136.7L531.7 136.2L532.0 135.7L532.2 135.4L532.7 134.8L533.0 134.3L533.4 133.8L533.7 133.3L534.0 132.9L534.4 132.3L534.8 131.8L535.1 131.4L535.4 130.9L535.8 130.4L536.1 129.9L536.5 129.4L536.7 129.1L537.2 128.5L537.5 128.0L537.8 127.5L538.2 127.1L538.5 126.6L538.9 126.1L539.2 125.7L539.6 125.2L539.9 124.7L540.2 124.3L540.6 123.8L540.9 123.3L541.3 122.9L541.6 122.4L542.0 122.0L542.3 121.5L542.7 121.1L543.0 120.6L543.3 120.2L543.7 119.7L544.0 119.3L544.4 118.8L544.7 118.4L545.1 117.9L545.4 117.5L545.7 117.1L545.9 116.8L546.4 116.2L546.8 115.7L547.1 115.4L547.5 114.9L547.8 114.5L548.1 114.0L548.5 113.6L548.8 113.2L549.2 112.8L549.4 112.5L549.9 111.9L550.2 111.5L550.5 111.1L550.9 110.7L551.2 110.3L551.6 109.9L551.8 109.6L552.3 109.1L552.6 108.7L552.9 108.3L553.3 107.9L553.6 107.5L554.0 107.1L554.3 106.7L554.7 106.3L555.0 105.9L555.3 105.5L555.7 105.2L556.0 104.7L556.4 104.4L556.7 104.0L557.0 103.7L557.4 103.2L557.8 102.8L558.1 102.5L558.4 102.2L558.8 101.7L559.1 101.4L559.5 101.0L559.8 100.7L560.2 100.3L560.5 99.9L560.8 99.5L561.2 99.2L561.5 98.8L561.9 98.5L562.2 98.1L562.6 97.8L562.9 97.4L563.2 97.1L563.6 96.7L563.9 96.4L564.3 96.0L564.6 95.7L565.0 95.4L565.3 95.0L565.6 94.7L566.0 94.4L566.3 94.0L566.7 93.7L567.0 93.4L567.4 93.0L567.7 92.7L568.0 92.4L568.4 92.1L568.7 91.7L569.1 91.4L569.4 91.1L569.8 90.8L570.1 90.5L570.5 90.2L570.8 89.9L571.1 89.5L571.5 89.2L571.8 88.9L572.2 88.6L572.5 88.3L572.9 88.0L573.2 87.7L573.5 87.4L573.9 87.1L574.2 86.8L574.6 86.5L574.9 86.2L575.3 85.9L575.6 85.7L575.9 85.4L576.3 85.1L576.6 84.8L577.0 84.5L577.3 84.2L577.7 83.9L578.0 83.7L578.3 83.4L578.7 83.1L579.0 82.8L579.4 82.6L579.7 82.3L580.1 82.0L580.4 81.7L580.7 81.5L581.1 81.2L581.4 80.9L581.8 80.7L582.1 80.4L582.5 80.1L582.8 79.9L583.1 79.6L583.5 79.4L583.8 79.1L584.2 78.8L584.5 78.6L584.9 78.3L585.2 78.1L585.6 77.8L585.9 77.6L586.2 77.3L586.6 77.1L586.9 76.8L587.3 76.6L587.6 76.4L588.0 76.1L588.3 75.9L588.6 75.6L589.0 75.4L589.3 75.2L589.7 74.9L590.0 74.7L590.4 74.5L590.7 74.2L591.0 74.0L591.4 73.8L591.7 73.6L592.1 73.3L592.4 73.1L592.8 72.9L593.1 72.6L593.4 72.4L593.8 72.2L594.1 72.0L594.5 71.7L594.8 71.5L595.2 71.3L595.5 71.1L595.8 70.9L596.2 70.7L596.5 70.4L596.9 70.2L597.2 70.0L597.6 69.8L597.9 69.6L598.3 69.4L598.6 69.2L598.9 69.0L599.3 68.8L599.6 68.6L600.0 68.4L600.3 68.2L600.7 68.0L601.0 67.8L601.3 67.6L601.7 67.4L602.0 67.2L602.4 67.0L602.7 66.8L603.1 66.6L603.4 66.4L603.7 66.2L604.1 66.0L604.4 65.8L604.8 65.6L605.1 65.4L605.5 65.2L605.8 65.0L606.1 64.9L606.5 64.7L606.8 64.5L607.2 64.3L607.5 64.1L607.9 63.9L608.2 63.8L608.5 63.6L608.9 63.4L609.2 63.2L609.6 63.0L609.9 62.9L610.3 62.7L610.6 62.5L610.9 62.3L611.3 62.2L611.6 62.0L612.0 61.8L612.3 61.7L612.7 61.5L613.0 61.3L613.4 61.1L613.7 61.0L614.0 60.8L614.4 60.6L614.7 60.5L615.1 60.3L615.4 60.2L615.8 60.0L616.1 59.8L616.4 59.7L616.8 59.5L617.1 59.3L617.5 59.2L617.8 59.0L618.2 58.9L618.5 58.7L618.8 58.6L619.2 58.4L619.5 58.2L619.9 58.1L620.2 57.9L620.6 57.8L620.9 57.6L621.2 57.5L621.6 57.3L621.9 57.2L622.3 57.0L622.6 56.9L623.0 56.7L623.3 56.6L623.6 56.4L624.0 56.3L624.3 56.1L624.7 56.0L625.0 55.9L625.4 55.7L625.7 55.6L626.1 55.4L626.4 55.3L626.7 55.2L627.1 55.0L627.4 54.9L627.8 54.7L628.1 54.6L628.5 54.5L628.8 54.3L629.1 54.2L629.5 54.0L629.8 53.9L630.2 53.8L630.5 53.6L630.9 53.5L631.2 53.4L631.5 53.2L631.9 53.1L632.2 53.0L632.6 52.9L632.9 52.7L633.3 52.6L633.6 52.5L633.9 52.3L634.3 52.2L634.6 52.1L635.0 52.0L635.3 51.8L635.7 51.7L636.0 51.6L636.3 51.5L636.7 51.3L637.0 51.2L637.4 51.1L637.7 51.0L638.1 50.8L638.4 50.7L638.8 50.6L639.1 50.5L639.4 50.4L639.8 50.2L640.1 50.1L640.5 50.0L640.8 49.9L641.2 49.8L641.5 49.7L641.8 49.5L642.2 49.4L642.5 49.3L642.9 49.2L643.2 49.1L643.6 49.0L643.9 48.9L644.2 48.7L644.6 48.6L644.9 48.5L645.3 48.4L645.6 48.3L646.0 48.2L646.3 48.1L646.6 48.0L647.0 47.9L647.3 47.8L647.7 47.7L648.0 47.5L648.7 47.3L649.4 47.1L650.1 46.9L650.8 46.7L651.4 46.5L652.1 46.3L652.8 46.1L653.5 45.9L654.2 45.7L654.9 45.5L655.6 45.3L656.3 45.1L656.9 44.9L657.6 44.7L658.2 44.6L658.7 44.4L659.3 44.3L660.0 44.1L660.7 43.9L661.4 43.7L662.1 43.5L662.8 43.3L663.1 43.2L663.8 43.1L664.5 42.9L665.2 42.7L665.9 42.5L666.6 42.4L667.2 42.2L667.9 42.0L668.6 41.9L669.3 41.7L670.0 41.5L670.7 41.4L671.4 41.2L672.0 41.0L672.5 40.9L673.1 40.8L673.8 40.7L674.4 40.5L675.1 40.3L675.8 40.2L676.5 40.0L677.2 39.9L677.8 39.8L678.2 39.7L678.9 39.5L679.6 39.4L680.3 39.2L681.0 39.1L681.7 38.9L682.3 38.8L683.0 38.6L683.7 38.5L684.4 38.3L685.1 38.2L685.8 38.1L686.5 37.9L687.1 37.8L687.8 37.7L688.5 37.5L688.9 37.4L689.5 37.3L690.2 37.2L690.9 37.1L691.6 36.9L692.3 36.8L693.0 36.7L693.7 36.6L694.4 36.4L694.9 36.3L695.4 36.2L696.1 36.1L696.8 36.0L697.4 35.9L698.1 35.7L698.8 35.6L699.5 35.5L700.2 35.4L700.9 35.3L701.6 35.2L702.2 35.0L702.9 34.9L703.6 34.8L704.3 34.7L705.0 34.6L705.7 34.5L706.4 34.4L707.0 34.2L707.7 34.1L708.4 34.0L709.1 33.9L709.8 33.8L710.5 33.7L711.2 33.6L711.9 33.5L712.5 33.4L713.2 33.3L713.9 33.2L714.6 33.1L715.3 33.0L716.0 32.9L716.7 32.8L717.3 32.7L718.0 32.6L718.7 32.5L719.4 32.4L720.1 32.3L720.8 32.2L721.5 32.1L721.9 32.0L722.5 32.0L723.2 31.9L723.9 31.8L724.6 31.7L725.2 31.6L725.9 31.5L726.6 31.4L727.3 31.3L728.0 31.2L728.7 31.1L729.4 31.0L730.0 31.0L730.7 30.9L731.4 30.8L732.1 30.7L732.8 30.6L733.5 30.5L734.2 30.4L734.9 30.4L735.5 30.3L736.2 30.2L736.9 30.1L737.6 30.0L738.3 29.9L739.0 29.9L739.7 29.8L740.3 29.7L741.0 29.6L741.7 29.5L742.4 29.5L743.1 29.4L743.8 29.3L744.5 29.2L745.1 29.2L745.8 29.1L746.5 29.0L747.2 28.9L747.9 28.9L748.6 28.8L749.3 28.7L750.0 28.6L750.6 28.6L751.3 28.5L752.0 28.4L752.7 28.3L753.4 28.3L754.1 28.2L754.8 28.1L755.1 28.1" fill="none" stroke="#ff0000" stroke-width="1.5" stroke-linejoin="round"/>
<path d="M446.6 22.4L446.6 22.9L446.6 23.5L446.6 24.0L446.6 24.6L446.6 25.2L446.6 25.8L446.6 26.5L446.7 27.2L446.7 27.9L446.7 28.6L446.7 29.3L446.7 30.1L446.7 30.9L446.7 31.7L446.7 32.5L446.8 33.4L446.8 34.2L446.8 35.1L446.8 36.0L446.8 37.0L446.8 37.9L446.8 38.9L446.8 39.9L446.9 40.9L446.9 41.9L446.9 42.9L446.9 43.9L446.9 45.0L446.9 46.1L446.9 47.2L447.0 48.3L447.0 49.4L447.0 50.5L447.0 51.7L447.0 52.9L447.0 54.0L447.0 55.2L447.1 56.4L447.1 57.6L447.1 58.8L447.1 60.1L447.1 61.3L447.1 62.6L447.1 63.8L447.2 65.1L447.2 66.3L447.2 67.6L447.2 68.9L447.2 70.2L447.2 71.5L447.2 72.8L447.2 74.1L447.3 75.4L447.3 76.7L447.3 78.0L447.3 79.4L447.3 80.7L447.3 82.0L447.4 83.3L447.4 84.6L447.4 86.0L447.4 87.3L447.4 88.6L447.4 89.9L447.4 91.2L447.5 92.6L447.5 93.9L447.5 95.2L447.5 96.5L447.5 97.8L447.5 99.1L447.5 100.4L447.6 101.6L447.6 102.9L447.6 103.6L447.6 104.2L447.6 105.4L447.6 106.7L447.6 107.9L447.6 109.1L447.7 110.4L447.7 111.6L447.7 112.8L447.7 114.0L447.7 115.1L447.7 116.3L447.8 117.5L447.8 118.6L447.8 119.7L447.8 120.8L447.8 121.9L447.8 123.0L447.8 124.1L447.9 125.1L447.9 126.2L447.9 127.2L447.9 128.2L447.9 129.0L447.9 130.1L448.0 131.1L448.0 132.0L448.0 132.9L448.0 133.8L448.0 134.7L448.0 135.6L448.1 136.4L448.1 137.2L448.1 138.0L448.1 138.8L448.1 139.5L448.1 140.2L448.2 140.9L448.2 141.6L448.2 142.3L448.2 142.9L448.2 143.5L448.2 144.1L448.3 144.7L448.3 145.2L448.3 145.7L448.3 146.2L448.3 146.7L448.3 147.1L448.4 148.0L448.4 148.7L448.4 149.3L448.5 149.8L448.5 150.4L448.6 150.7L448.7 150.4L448.8 149.9L448.8 149.4L448.8 148.8L448.9 148.1L448.9 147.3L448.9 146.9L448.9 146.4L449.0 145.9L449.0 145.4L449.0 144.9L449.0 144.3L449.0 143.7L449.1 143.1L449.1 142.5L449.1 141.8L449.1 141.1L449.1 140.4L449.2 139.7L449.2 139.0L449.2 138.2L449.2 137.4L449.2 136.6L449.2 135.8L449.3 134.9L449.3 134.1L449.3 133.2L449.3 132.3L449.3 131.3L449.4 130.4L449.4 129.4L449.4 128.4L449.4 127.4L449.4 126.4L449.5 125.3L449.5 124.3L449.5 123.2L449.5 122.1L449.5 121.0L449.6 119.9L449.6 118.8L449.6 117.6L449.6 116.5L449.6 115.5L449.7 114.1L449.7 112.9L449.7 111.7L449.7 110.5L449.7 109.2L449.8 108.0L449.8 106.7L449.8 105.5L449.8 104.2L449.8 102.9L449.9 101.6L449.9 100.3L449.9 99.0L449.9 97.7L450.0 96.4L450.0 95.1L450.0 94.5L450.0 93.7L450.0 92.4L450.0 91.1L450.1 89.7L450.1 88.4L450.1 87.0L450.1 85.7L450.1 84.4L450.2 83.0L450.2 81.7L450.2 80.3L450.2 79.0L450.3 77.6L450.3 76.3L450.3 74.9L450.3 73.6L450.3 72.3L450.4 70.9L450.4 69.6L450.4 68.3L450.4 67.0L450.5 65.6L450.5 64.3L450.5 63.0L450.5 61.7L450.5 60.5L450.6 59.2L450.6 57.9L450.6 56.7L450.6 55.4L450.7 54.2L450.7 53.5L450.7 53.0L450.7 51.7L450.7 50.5L450.7 49.4L450.8 48.2L450.8 47.0L450.8 45.9L450.8 44.7L450.9 43.6L450.9 42.5L450.9 41.4L450.9 40.3L451.0 39.3L451.0 38.2L451.0 37.2L451.0 36.2L451.1 35.2L451.1 34.3L451.1 33.3L451.1 32.4L451.2 31.5L451.2 30.6L451.2 29.7L451.2 28.8L451.3 28.0L451.3 27.2L451.3 26.4L451.3 25.6L451.4 24.9L451.4 24.2L451.4 23.5L451.4 22.8L451.5 22.1L451.5 21.5L451.5 20.9L451.5 20.3L451.6 19.8L451.6 19.2L451.6 18.7L451.6 18.2L451.7 17.8L451.7 17.3L451.7 16.5L451.8 15.8L451.8 15.3L451.9 14.8L452.0 14.2L452.1 13.9L452.3 14.3L452.4 14.9L452.4 15.4L452.5 16.1L452.5 16.8L452.6 17.6L452.6 18.1L452.7 18.5L452.7 19.0L452.7 19.6L452.7 20.1L452.8 20.7L452.8 21.3L452.8 21.9L452.9 22.6L452.9 23.2L452.9 23.9L452.9 24.6L453.0 25.4L453.0 26.1L453.0 26.9L453.1 27.7L453.1 28.6L453.1 29.4L453.2 30.3L453.2 31.1L453.2 32.1L453.3 33.0L453.3 33.9L453.3 34.9L453.3 35.9L453.4 36.9L453.4 37.9L453.4 38.9L453.5 40.0L453.5 41.0L453.5 42.1L453.6 43.2L453.6 44.3L453.6 45.5L453.7 46.6L453.7 47.8L453.7 48.9L453.8 49.8L453.8 51.3L453.8 52.5L453.9 53.7L453.9 55.0L453.9 56.2L454.0 57.5L454.0 58.7L454.0 60.0L454.1 61.3L454.1 62.6L454.1 63.8L454.2 65.2L454.2 66.5L454.2 67.8L454.3 69.1L454.3 70.4L454.3 71.7L454.4 73.1L454.4 74.4L454.4 75.7L454.5 77.1L454.5 78.4L454.6 79.8L454.6 81.1L454.6 82.5L454.7 83.8L454.7 85.2L454.7 86.5L454.8 87.8L454.8 88.5L454.8 89.2L454.8 90.5L454.9 91.8L454.9 93.2L455.0 94.5L455.0 95.8L455.0 97.1L455.1 98.4L455.1 99.7L455.1 100.7L455.2 102.3L455.2 103.6L455.3 104.9L455.3 106.1L455.3 107.4L455.4 108.6L455.4 109.9L455.4 111.1L455.5 111.9L455.5 113.5L455.6 114.7L455.6 115.8L455.6 117.0L455.7 118.1L455.7 119.3L455.8 120.4L455.8 121.5L455.8 122.6L455.9 123.6L455.9 124.7L456.0 125.7L456.0 126.7L456.0 127.7L456.1 128.7L456.1 129.7L456.2 130.4L456.2 131.6L456.3 132.5L456.3 133.3L456.3 134.2L456.4 135.1L456.4 135.9L456.5 136.7L456.5 137.3L456.6 138.2L456.6 139.0L456.6 139.7L456.7 140.4L456.7 141.0L456.8 141.7L456.8 142.3L456.8 142.7L456.9 143.5L456.9 144.0L457.0 144.6L457.0 145.1L457.1 145.5L457.1 146.0L457.2 146.4L457.3 147.2L457.4 147.9L457.5 148.4L457.5 148.9L457.6 149.3L457.8 149.6L458.1 149.5L458.3 149.0L458.4 148.6L458.5 148.0L458.6 147.5L458.6 147.0L458.7 146.2L458.8 145.8L458.8 145.3L458.9 144.8L458.9 144.3L459.0 143.8L459.1 143.2L459.1 142.6L459.2 142.0L459.2 141.4L459.3 140.7L459.3 140.0L459.4 139.3L459.4 138.6L459.5 137.8L459.5 137.1L459.6 136.4L459.7 135.4L459.7 134.6L459.8 133.7L459.8 132.9L459.9 132.0L459.9 131.2L460.0 130.1L460.1 129.1L460.1 128.2L460.2 127.2L460.2 126.2L460.3 125.4L460.4 124.1L460.4 123.0L460.5 121.9L460.5 120.8L460.6 119.7L460.6 119.2L460.7 118.6L460.7 117.4L460.8 116.3L460.8 115.1L460.9 113.9L461.0 112.7L461.0 111.5L461.1 110.3L461.2 109.1L461.2 107.8L461.3 106.6L461.3 106.0L461.3 105.3L461.4 104.0L461.5 102.7L461.5 101.4L461.6 100.1L461.7 99.1L461.7 97.5L461.8 96.2L461.9 94.9L461.9 93.5L462.0 92.3L462.1 90.8L462.1 89.5L462.2 88.1L462.3 86.8L462.3 85.5L462.4 84.1L462.5 82.7L462.5 81.4L462.6 80.0L462.7 78.8L462.8 77.3L462.8 75.9L462.9 74.6L463.0 73.2L463.0 72.3L463.0 71.9L463.1 70.5L463.2 69.2L463.3 67.8L463.3 66.5L463.4 66.0L463.4 65.2L463.5 63.8L463.6 62.5L463.6 61.2L463.7 60.0L463.8 58.6L463.9 57.3L463.9 56.1L464.0 54.8L464.1 54.3L464.1 53.5L464.2 52.3L464.3 51.1L464.3 49.8L464.4 49.0L464.5 47.4L464.6 46.3L464.7 45.1L464.7 43.9L464.8 42.8L464.9 41.7L465.0 40.5L465.1 39.4L465.2 38.4L465.2 37.3L465.3 36.2L465.4 35.2L465.5 34.2L465.6 33.2L465.7 32.2L465.8 31.3L465.8 30.3L465.9 29.4L466.0 28.5L466.1 27.6L466.2 26.8L466.3 26.0L466.4 25.1L466.5 24.4L466.6 23.6L466.6 22.8L466.7 22.1L466.8 21.7L466.9 20.7L467.0 20.1L467.1 19.4L467.2 18.8L467.3 18.2L467.4 17.7L467.5 17.2L467.6 16.6L467.7 16.1L467.8 15.7L467.9 15.2L468.0 14.8L468.1 14.4L468.2 14.1L468.4 13.4L468.6 12.9L468.8 12.5L469.0 12.2L469.4 11.9L469.9 11.9L470.1 12.1L470.4 12.5L470.6 12.9L470.8 13.4L471.1 14.1L471.2 14.4L471.3 14.8L471.4 15.2L471.5 15.6L471.7 16.1L471.8 16.6L471.9 17.1L472.0 17.6L472.2 18.2L472.3 18.8L472.4 19.4L472.5 20.0L472.6 20.4L472.8 21.3L472.9 22.0L473.1 22.8L473.2 23.5L473.3 24.2L473.5 25.1L473.6 25.9L473.8 26.7L473.9 27.6L474.0 28.3L474.2 29.3L474.3 30.3L474.5 31.2L474.6 32.1L474.7 32.8L474.9 34.1L475.0 35.1L475.2 36.2L475.3 37.2L475.5 38.3L475.6 39.3L475.7 40.0L475.8 40.4L475.9 41.5L476.1 42.5L476.2 43.8L476.4 45.0L476.6 46.1L476.7 47.3L476.9 48.5L477.0 49.7L477.1 50.2L477.2 50.9L477.4 52.2L477.4 52.7L477.5 53.4L477.7 54.7L477.8 55.3L477.9 55.9L478.0 57.2L478.1 57.9L478.2 58.5L478.4 59.8L478.5 60.5L478.5 61.1L478.7 62.4L478.8 63.0L478.9 63.7L479.1 65.0L479.2 65.6L479.3 66.3L479.4 67.6L479.5 68.1L479.6 69.0L479.8 70.3L480.0 71.7L480.2 73.0L480.4 74.4L480.5 75.6L480.7 77.1L480.9 78.0L481.1 79.8L481.2 80.4L481.3 81.1L481.5 82.5L481.7 83.8L481.9 85.1L482.1 86.5L482.2 87.4L482.3 87.9L482.5 89.2L482.6 89.7L482.7 90.6L482.9 91.9L483.2 93.3L483.3 94.0L483.4 94.6L483.6 95.9L483.8 97.2L484.0 98.2L484.2 99.8L484.3 100.2L484.5 101.1L484.6 102.2L484.9 103.7L485.0 104.1L485.1 105.0L485.3 106.0L485.6 107.5L485.7 107.9L485.8 108.7L486.0 109.7L486.3 111.2L486.6 112.4L486.7 113.1L486.8 113.6L487.0 114.7L487.3 115.9L487.4 116.4L487.5 117.1L487.7 117.9L488.1 119.3L488.3 120.4L488.4 120.9L488.6 121.5L488.8 122.3L489.1 123.7L489.4 124.7L489.6 125.7L489.8 126.3L489.9 126.7L490.1 127.5L490.5 128.7L490.8 129.6L491.0 130.6L491.2 131.0L491.3 131.5L491.5 132.0L491.9 133.1L492.2 134.0L492.5 134.9L492.8 135.7L493.1 136.5L493.4 137.3L493.6 137.6L493.7 138.0L493.9 138.4L494.1 138.7L494.3 139.2L494.6 139.9L494.9 140.6L495.3 141.2L495.6 141.9L496.0 142.5L496.3 143.0L496.7 143.6L497.0 144.1L497.3 144.5L497.7 145.0L498.0 145.4L498.4 145.8L498.7 146.1L499.1 146.5L499.4 146.8L499.7 147.1L500.0 147.3L500.4 147.5L500.8 147.8L501.1 148.0L501.5 148.2L501.8 148.3L502.2 148.4L502.5 148.5L503.2 148.7L503.7 148.8L504.1 148.8L504.9 148.8L505.4 148.8L505.9 148.7L506.3 148.6L506.8 148.4L507.3 148.3L507.6 148.2L508.0 148.0L508.3 147.9L508.7 147.7L509.0 147.5L509.4 147.3L509.7 147.2L510.0 146.9L510.4 146.7L510.7 146.5L511.1 146.3L511.4 146.0L511.8 145.8L512.1 145.5L512.4 145.3L512.8 145.0L513.1 144.7L513.5 144.4L513.8 144.1L514.2 143.8L514.5 143.5L514.8 143.2L515.2 142.9L515.5 142.5L515.8 142.3L516.2 141.9L516.6 141.5L516.9 141.2L517.3 140.8L517.6 140.4L517.9 140.1L518.2 139.8L518.6 139.4L518.9 139.1L519.3 138.6L519.5 138.4L520.0 137.8L520.3 137.5L520.7 137.1L521.0 136.7L521.4 136.3L521.7 135.9L522.1 135.5L522.4 135.1L522.7 134.7L523.1 134.3L523.4 133.9L523.8 133.4L524.1 133.0L524.3 132.8L524.8 132.2L525.1 131.9L525.5 131.4L525.8 131.0L526.2 130.5L526.5 130.1L526.9 129.7L527.2 129.3L527.5 128.9L527.9 128.4L528.1 128.2L528.6 127.6L528.9 127.2L529.3 126.7L529.6 126.3L530.0 125.9L530.3 125.5L530.5 125.2L531.0 124.6L531.3 124.2L531.7 123.8L532.0 123.3L532.2 123.1L532.7 122.5L533.0 122.1L533.4 121.6L533.7 121.2L534.0 120.9L534.4 120.4L534.8 120.0L535.1 119.5L535.4 119.1L535.8 118.7L536.1 118.3L536.5 117.9L536.7 117.6L537.2 117.0L537.5 116.6L537.8 116.2L538.2 115.8L538.5 115.4L538.9 115.0L539.2 114.6L539.6 114.1L539.9 113.7L540.2 113.3L540.6 112.9L540.9 112.5L541.3 112.1L541.6 111.7L542.0 111.3L542.3 110.9L542.7 110.5L543.0 110.1L543.3 109.7L543.7 109.3L544.0 108.9L544.4 108.5L544.7 108.2L545.1 107.8L545.4 107.4L545.7 107.0L546.1 106.6L546.4 106.2L546.8 105.8L547.1 105.5L547.5 105.1L547.8 104.7L548.1 104.3L548.5 103.9L548.8 103.6L549.2 103.2L549.4 103.0L549.9 102.5L550.2 102.1L550.5 101.7L550.9 101.4L551.2 101.0L551.6 100.6L551.8 100.4L552.3 99.9L552.6 99.6L552.9 99.2L553.3 98.9L553.6 98.5L554.0 98.1L554.3 97.8L554.7 97.4L555.0 97.1L555.3 96.8L555.7 96.4L556.0 96.1L556.4 95.7L556.7 95.4L557.0 95.1L557.4 94.7L557.8 94.4L558.1 94.0L558.4 93.8L558.8 93.4L559.1 93.1L559.5 92.7L559.8 92.4L560.2 92.1L560.5 91.8L560.8 91.4L561.2 91.1L561.5 90.8L561.9 90.5L562.2 90.2L562.6 89.8L562.9 89.5L563.2 89.2L563.6 88.9L563.9 88.6L564.3 88.3L564.6 88.0L565.0 87.7L565.3 87.4L565.6 87.1L566.0 86.8L566.3 86.5L566.7 86.2L567.0 85.9L567.4 85.6L567.7 85.3L568.0 85.0L568.4 84.7L568.7 84.4L569.1 84.2L569.4 83.9L569.8 83.6L570.1 83.3L570.5 83.0L570.8 82.7L571.1 82.5L571.5 82.2L571.8 81.9L572.2 81.6L572.5 81.4L572.9 81.1L573.2 80.8L573.5 80.6L573.9 80.3L574.2 80.0L574.6 79.8L574.9 79.5L575.3 79.2L575.6 79.0L575.9 78.7L576.3 78.5L576.6 78.2L577.0 77.9L577.3 77.7L577.7 77.4L578.0 77.2L578.3 76.9L578.7 76.7L579.0 76.4L579.4 76.2L579.7 75.9L580.1 75.7L580.4 75.4L580.7 75.2L581.1 75.0L581.4 74.7L581.8 74.5L582.1 74.2L582.5 74.0L582.8 73.8L583.1 73.5L583.5 73.3L583.8 73.1L584.2 72.8L584.5 72.6L584.9 72.4L585.2 72.2L585.6 71.9L585.9 71.7L586.2 71.5L586.6 71.3L586.9 71.0L587.3 70.8L587.6 70.6L588.0 70.4L588.3 70.2L588.6 69.9L589.0 69.7L589.3 69.5L589.7 69.3L590.0 69.1L590.4 68.9L590.7 68.7L591.0 68.5L591.4 68.2L591.7 68.0L592.1 67.8L592.4 67.6L592.8 67.4L593.1 67.2L593.4 67.0L593.8 66.8L594.1 66.6L594.5 66.4L594.8 66.2L595.2 66.0L595.5 65.8L595.8 65.6L596.2 65.4L596.5 65.2L596.9 65.1L597.2 64.9L597.6 64.7L597.9 64.5L598.3 64.3L598.6 64.1L598.9 63.9L599.3 63.7L599.6 63.5L600.0 63.4L600.3 63.2L600.7 63.0L601.0 62.8L601.3 62.6L601.7 62.5L602.0 62.3L602.4 62.1L602.7 61.9L603.1 61.7L603.4 61.6L603.7 61.4L604.1 61.2L604.4 61.0L604.8 60.9L605.1 60.7L605.5 60.5L605.8 60.4L606.1 60.2L606.5 60.0L606.8 59.9L607.2 59.7L607.5 59.5L607.9 59.4L608.2 59.2L608.5 59.0L608.9 58.9L609.2 58.7L609.6 58.5L609.9 58.4L610.3 58.2L610.6 58.1L610.9 57.9L611.3 57.8L611.6 57.6L612.0 57.4L612.3 57.3L612.7 57.1L613.0 57.0L613.4 56.8L613.7 56.7L614.0 56.5L614.4 56.4L614.7 56.2L615.1 56.1L615.4 55.9L615.8 55.8L616.1 55.6L616.4 55.5L616.8 55.3L617.1 55.2L617.5 55.0L617.8 54.9L618.2 54.8L618.5 54.6L618.8 54.5L619.2 54.3L619.5 54.2L619.9 54.0L620.2 53.9L620.6 53.8L620.9 53.6L621.2 53.5L621.6 53.4L621.9 53.2L622.3 53.1L622.6 52.9L623.0 52.8L623.3 52.7L623.6 52.5L624.0 52.4L624.3 52.3L624.7 52.2L625.0 52.0L625.4 51.9L625.7 51.8L626.1 51.6L626.4 51.5L626.7 51.4L627.1 51.2L627.4 51.1L627.8 51.0L628.1 50.9L628.5 50.7L628.8 50.6L629.1 50.5L629.5 50.4L629.8 50.2L630.2 50.1L630.5 50.0L630.9 49.9L631.2 49.8L631.5 49.6L631.9 49.5L632.2 49.4L632.6 49.3L632.9 49.2L633.3 49.1L633.6 48.9L633.9 48.8L634.3 48.7L634.6 48.6L635.0 48.5L635.3 48.4L635.7 48.2L636.0 48.1L636.3 48.0L636.7 47.9L637.0 47.8L637.4 47.7L637.7 47.6L638.1 47.5L638.4 47.3L638.8 47.2L639.1 47.1L639.4 47.0L639.8 46.9L640.1 46.8L640.5 46.7L641.2 46.5L641.8 46.3L642.5 46.1L643.2 45.9L643.9 45.7L644.6 45.4L645.3 45.2L646.0 45.0L646.6 44.8L647.3 44.6L648.0 44.5L648.7 44.3L649.4 44.1L650.1 43.9L650.8 43.7L651.4 43.5L652.1 43.3L652.8 43.1L653.5 42.9L654.2 42.8L654.9 42.6L655.6 42.4L656.3 42.2L656.9 42.1L657.6 41.9L658.2 41.7L658.7 41.6L659.3 41.5L660.0 41.3L660.7 41.1L661.4 40.9L662.1 40.8L662.8 40.6L663.5 40.5L664.1 40.3L664.8 40.1L665.5 40.0L666.2 39.8L666.9 39.7L667.5 39.5L667.9 39.4L668.6 39.3L669.3 39.1L670.0 39.0L670.7 38.8L671.4 38.7L672.0 38.5L672.5 38.4L673.1 38.3L673.8 38.2L674.4 38.0L675.1 37.9L675.8 37.7L676.5 37.6L677.2 37.5L677.8 37.3L678.2 37.3L678.9 37.1L679.6 37.0L680.3 36.9L681.0 36.7L681.7 36.6L682.3 36.5L683.0 36.3L683.7 36.2L684.4 36.1L685.1 35.9L685.8 35.8L686.5 35.7L687.1 35.6L687.8 35.4L688.5 35.3L688.9 35.2L689.5 35.1L690.2 35.0L690.9 34.9L691.6 34.8L692.3 34.7L693.0 34.5L693.7 34.4L694.4 34.3L694.9 34.2L695.4 34.1L696.1 34.0L696.8 33.9L697.4 33.8L698.1 33.7L698.8 33.6L699.5 33.5L700.2 33.4L700.9 33.3L701.6 33.1L702.2 33.0L702.9 32.9L703.6 32.8L704.3 32.7L705.0 32.6L705.7 32.5L706.4 32.4L707.0 32.3L707.7 32.2L708.4 32.1L709.1 32.0L709.8 31.9L710.5 31.8L711.2 31.7L711.9 31.6L712.5 31.5L713.2 31.4L713.9 31.3L714.6 31.3L715.3 31.2L716.0 31.1L716.7 31.0L717.3 30.9L718.0 30.8L718.7 30.7L719.4 30.6L720.1 30.5L720.8 30.4L721.5 30.4L721.9 30.3L722.5 30.2L723.2 30.1L723.9 30.1L724.6 30.0L725.2 29.9L725.9 29.8L726.6 29.7L727.3 29.6L728.0 29.6L728.7 29.5L729.4 29.4L730.0 29.3L730.7 29.2L731.4 29.1L732.1 29.1L732.8 29.0L733.5 28.9L734.2 28.8L734.9 28.8L735.5 28.7L736.2 28.6L736.9 28.5L737.6 28.5L738.3 28.4L739.0 28.3L739.7 28.2L740.3 28.2L741.0 28.1L741.7 28.0L742.4 27.9L743.1 27.9L743.8 27.8L744.5 27.7L745.1 27.7L745.8 27.6L746.5 27.5L747.2 27.5L747.9 27.4L748.6 27.3L749.3 27.3L750.0 27.2L750.6 27.1L751.3 27.1L752.0 27.0L752.7 26.9L753.4 26.9L754.1 26.8L754.8 26.7L755.1 26.7" fill="none" stroke="#0000ff" stroke-width="1.5" stroke-linejoin="round"/>
</g>
<g clip-path="url(#c3)">
<path d="M61.6 300.4L61.8 300.0L61.9 299.7L62.1 299.2L62.2 298.8L62.3 298.5L62.5 298.0L62.7 297.6L62.8 297.1L63.0 296.6L63.2 296.1L63.4 295.7L63.5 295.2L63.7 294.8L63.9 294.4L64.1 294.0L64.3 293.7L64.4 293.3L64.6 293.1L64.9 292.7L65.1 292.4L65.4 292.2L65.7 292.1L66.2 292.0L66.5 292.1L66.9 292.2L67.2 292.4L67.5 292.6L67.8 292.8L68.1 293.1L68.4 293.3L68.6 293.6L68.9 293.8L69.1 294.0L69.4 294.2L69.6 294.4L69.9 294.6L70.1 294.8L70.5 295.1L70.9 295.3L71.2 295.5L71.6 295.6L72.0 295.8L72.4 295.8L72.8 295.9L73.3 295.9L73.8 295.9L74.2 295.9L74.7 295.8L75.1 295.8L75.6 295.7L76.0 295.6L76.4 295.5L76.9 295.4L77.3 295.3L77.6 295.2L78.0 295.1L78.4 295.0L78.8 295.0L79.2 294.9L79.6 294.8L80.1 294.7L80.5 294.7L80.9 294.6L81.4 294.6L81.8 294.6L82.3 294.6L82.8 294.5L83.2 294.5L83.7 294.6L84.2 294.6L84.7 294.6L85.3 294.6L85.7 294.6L86.3 294.7L86.9 294.7L87.4 294.7L88.0 294.8L88.6 294.8L89.2 294.8L89.8 294.8L90.5 294.8L91.1 294.8L91.8 294.8L92.2 294.8L92.7 294.8L93.1 294.7L93.6 294.7L94.1 294.7L94.6 294.6L95.0 294.6L95.5 294.5L96.1 294.5L96.6 294.4L97.1 294.3L97.6 294.3L98.1 294.2L98.7 294.1L99.3 294.0L99.9 293.9L100.4 293.8L101.0 293.7L101.6 293.7L102.2 293.6L102.9 293.5L103.5 293.4L104.1 293.3L104.8 293.2L105.5 293.1L106.1 293.0L106.8 293.0L107.2 292.9L107.9 292.8L108.6 292.8L109.2 292.7L109.8 292.7L110.5 292.6L110.9 292.6L111.7 292.6L112.3 292.5L112.9 292.5L113.6 292.5L114.2 292.5L114.6 292.5L115.4 292.5L116.0 292.5L116.4 292.5L116.9 292.5L117.3 292.6L117.8 292.6L118.2 292.6L118.7 292.6L119.2 292.6L119.7 292.7L120.2 292.7L120.7 292.7L121.2 292.8L121.6 292.8L122.2 292.9L122.7 292.9L123.2 293.0L123.7 293.0L124.3 293.1L124.7 293.1L125.3 293.2L125.9 293.3L126.5 293.3L127.1 293.4L127.6 293.5L128.2 293.6L128.8 293.7L129.4 293.7L130.0 293.8L130.6 293.9L131.2 294.0L131.9 294.1L132.5 294.2L133.1 294.3L133.8 294.4L134.5 294.5L135.1 294.6L135.8 294.7L136.5 294.8L137.1 294.9L137.7 295.0L138.3 295.1L138.9 295.2L139.4 295.3L140.1 295.4L140.8 295.5L141.4 295.6L142.0 295.7L142.6 295.8L143.2 295.9L143.9 296.0L144.5 296.1L145.1 296.2L145.6 296.3L146.4 296.4L147.0 296.5L147.6 296.6L148.1 296.7L148.8 296.8L149.4 296.9L150.1 297.0L150.7 297.1L151.3 297.2L151.9 297.2L152.5 297.3L153.2 297.4L153.8 297.5L154.4 297.6L155.0 297.7L155.6 297.7L156.3 297.8L156.9 297.9L157.4 298.0L158.1 298.1L158.7 298.1L159.3 298.2L160.0 298.3L160.5 298.3L161.2 298.4L161.8 298.5L162.4 298.5L163.1 298.6L163.7 298.7L164.3 298.7L164.8 298.8L165.5 298.9L166.0 298.9L166.8 299.0L167.4 299.0L168.0 299.1L168.6 299.1L169.2 299.2L169.9 299.2L170.5 299.3L171.1 299.3L171.7 299.4L172.3 299.4L173.0 299.5L173.6 299.5L174.2 299.6L174.8 299.6L175.4 299.6L176.0 299.7L176.7 299.7L177.2 299.7L177.9 299.8L178.5 299.8L179.1 299.8L179.8 299.9L180.4 299.9L181.0 299.9L181.6 300.0L182.2 300.0L182.8 300.0L183.5 300.1L184.1 300.1L184.7 300.1L185.3 300.1L185.9 300.1L186.6 300.2L187.2 300.2L187.8 300.2L188.4 300.2L189.0 300.2L189.7 300.3L190.3 300.3L190.9 300.3L191.5 300.3L192.1 300.3L192.8 300.3L193.4 300.4L194.0 300.4L194.6 300.4L195.2 300.4L195.8 300.4L196.5 300.4L197.1 300.4L197.7 300.4L198.3 300.4L198.9 300.4L199.6 300.4L200.2 300.4L200.7 300.5L201.4 300.5L202.0 300.5L202.6 300.5L203.3 300.5L203.9 300.5L204.5 300.5L205.1 300.5L205.7 300.5L206.4 300.5L207.0 300.5L207.6 300.5L208.2 300.5L208.8 300.5L209.5 300.5L210.1 300.5L210.7 300.5L211.3 300.5L211.9 300.5L212.5 300.4L213.2 300.4L213.8 300.4L214.4 300.4L215.0 300.4L215.6 300.4L216.3 300.4L216.8 300.4L217.5 300.4L218.1 300.4L218.7 300.4L219.4 300.4L220.0 300.4L220.6 300.4L221.2 300.3L221.8 300.3L222.4 300.3L223.1 300.3L223.6 300.3L224.3 300.3L224.9 300.3L225.5 300.3L226.0 300.3L226.8 300.3L227.4 300.2L228.0 300.2L228.5 300.2L229.3 300.2L229.9 300.2L230.5 300.2L231.0 300.2L231.7 300.2L232.3 300.1L233.0 300.1L233.6 300.1L234.2 300.1L234.8 300.1L235.4 300.1L236.1 300.1L236.7 300.0L237.3 300.0L237.9 300.0L238.5 300.0L239.0 300.0L239.8 300.0L240.4 299.9L241.0 299.9L241.6 299.9L242.2 299.9L242.9 299.9L243.5 299.9L244.1 299.8L244.6 299.8L245.3 299.8L246.0 299.8L246.6 299.8L247.2 299.8L247.8 299.7L248.4 299.7L249.0 299.7L249.7 299.7L250.3 299.7L250.9 299.7L251.5 299.6L252.1 299.6L252.8 299.6L253.4 299.6L254.0 299.6L254.6 299.6L255.2 299.5L255.9 299.5L256.5 299.5L257.0 299.5L257.7 299.5L258.3 299.4L258.9 299.4L259.6 299.4L260.2 299.4L260.8 299.4L261.4 299.4L262.0 299.3L262.7 299.3L263.3 299.3L263.7 299.3L264.5 299.3L265.1 299.2L265.8 299.2L266.4 299.2L267.0 299.2L267.6 299.2L268.2 299.2L268.8 299.1L269.5 299.1L270.1 299.1L270.7 299.1L271.3 299.1L271.9 299.0L272.6 299.0L273.2 299.0L273.8 299.0L274.4 299.0L275.0 298.9L275.6 298.9L276.3 298.9L276.9 298.9L277.5 298.9L278.1 298.9L278.7 298.8L279.4 298.8L280.0 298.8L280.6 298.8L281.2 298.8L281.8 298.7L282.5 298.7L283.1 298.7L283.7 298.7L284.3 298.7L284.9 298.6L285.5 298.6L286.2 298.6L286.6 298.6L287.4 298.6L288.0 298.6L288.6 298.5L289.3 298.5L289.9 298.5L290.5 298.5L291.1 298.5L291.7 298.4L292.4 298.4L293.0 298.4L293.6 298.4L294.2 298.4L294.8 298.4L295.3 298.3L296.1 298.3L296.7 298.3L297.3 298.3L297.9 298.3L298.5 298.2L299.2 298.2L299.8 298.2L300.4 298.2L301.0 298.2L301.6 298.2L302.2 298.1L302.9 298.1L303.5 298.1L304.1 298.1L304.6 298.1L305.3 298.1L306.0 298.0L306.6 298.0L307.2 298.0L307.8 298.0L308.4 298.0L309.1 297.9L309.7 297.9L310.3 297.9L310.9 297.9L311.5 297.9L312.1 297.9L312.8 297.8L313.4 297.8L314.0 297.8L314.5 297.8L315.2 297.8L315.9 297.8L316.5 297.7L317.1 297.7L317.7 297.7L318.3 297.7L319.0 297.7L319.6 297.7L320.2 297.6L320.8 297.6L321.4 297.6L322.0 297.6L322.7 297.6L323.3 297.6L323.9 297.5L324.5 297.5L325.1 297.5L325.8 297.5L326.4 297.5L327.0 297.5L327.6 297.4L328.2 297.4L328.9 297.4L329.5 297.4L330.1 297.4L330.7 297.4L331.3 297.4L331.9 297.3L332.6 297.3L333.2 297.3L333.8 297.3L334.4 297.3L335.0 297.3L335.7 297.2L336.3 297.2L336.9 297.2L337.5 297.2L338.1 297.2L338.7 297.2L339.4 297.2L340.0 297.1L340.6 297.1L341.2 297.1L341.8 297.1L342.5 297.1L343.0 297.1L343.7 297.0L344.3 297.0L344.9 297.0L345.6 297.0L346.2 297.0L346.8 297.0L347.4 297.0L348.0 296.9L348.6 296.9L349.3 296.9L349.9 296.9L350.5 296.9L351.1 296.9L351.7 296.9L352.4 296.8L353.0 296.8L353.6 296.8L354.2 296.8L354.8 296.8L355.5 296.8L356.1 296.8L356.7 296.7L357.3 296.7L357.9 296.7L358.5 296.7L359.2 296.7L359.8 296.7L360.4 296.7L361.0 296.6L361.6 296.6L362.3 296.6L362.9 296.6L363.5 296.6L364.1 296.6L364.7 296.6L365.4 296.6L366.0 296.5L366.6 296.5L367.2 296.5L367.8 296.5L368.4 296.5L369.1 296.5L369.7 296.5L370.3 296.5" fill="none" stroke="#0000ff" stroke-width="1.5" stroke-linejoin="round"/>
<path d="M61.6 317.9L61.7 317.2L61.8 316.5L61.9 315.7L62.0 315.3L62.0 314.9L62.1 314.4L62.1 314.0L62.2 313.6L62.2 313.1L62.3 312.7L62.3 312.2L62.4 311.8L62.4 311.3L62.5 310.8L62.6 310.4L62.6 309.9L62.7 309.4L62.7 308.9L62.8 308.5L62.8 308.0L62.9 307.5L63.0 307.0L63.0 306.6L63.1 306.1L63.1 305.6L63.2 305.2L63.2 304.7L63.3 304.2L63.4 303.8L63.4 303.3L63.5 302.9L63.5 302.4L63.6 302.0L63.6 301.6L63.7 301.1L63.8 300.7L63.8 300.3L63.9 299.9L63.9 299.5L64.1 298.8L64.2 298.1L64.3 297.4L64.4 296.8L64.6 296.2L64.7 295.6L64.8 295.1L64.9 294.7L65.1 294.3L65.2 293.9L65.4 293.5L65.6 293.1L65.9 292.9L66.3 292.8L66.6 293.0L66.8 293.3L67.0 293.6L67.2 294.0L67.4 294.3L67.5 294.7L67.7 295.0L67.8 295.4L68.0 295.8L68.1 296.2L68.3 296.7L68.5 297.1L68.6 297.5L68.8 298.0L69.0 298.4L69.1 298.9L69.3 299.3L69.5 299.8L69.6 300.2L69.8 300.6L70.0 301.0L70.1 301.4L70.3 301.7L70.5 302.1L70.7 302.4L70.9 302.7L71.0 303.0L71.3 303.4L71.6 303.7L71.9 304.0L72.2 304.2L72.5 304.4L72.9 304.5L73.3 304.6L73.8 304.6L74.2 304.4L74.6 304.3L74.9 304.2L75.2 304.0L75.6 303.7L75.9 303.5L76.3 303.3L76.6 303.0L77.0 302.7L77.4 302.4L77.7 302.2L78.0 302.0L78.3 301.8L78.7 301.5L79.1 301.3L79.5 301.1L79.9 300.8L80.3 300.7L80.8 300.5L81.2 300.4L81.7 300.3L82.1 300.2L82.6 300.2L83.1 300.2L83.6 300.2L84.1 300.2L84.5 300.3L84.9 300.4L85.4 300.5L86.0 300.6L86.5 300.7L87.0 300.7L87.4 300.8L88.0 300.9L88.6 301.0L89.2 301.1L89.8 301.1L90.5 301.2L91.1 301.2L91.5 301.1L92.0 301.1L92.4 301.1L92.9 301.0L93.4 300.9L93.8 300.8L94.3 300.7L94.8 300.6L95.3 300.5L95.8 300.3L96.2 300.2L96.8 300.0L97.4 299.8L97.9 299.5L98.4 299.3L99.0 299.1L99.3 298.9L99.9 298.7L100.4 298.4L101.0 298.2L101.6 297.9L102.2 297.6L102.9 297.4L103.2 297.2L103.5 297.1L103.8 297.0L104.1 296.8L104.5 296.7L104.8 296.5L105.1 296.4L105.5 296.3L105.8 296.2L106.2 296.0L106.5 295.9L106.9 295.8L107.2 295.7L107.6 295.6L107.9 295.5L108.3 295.4L108.7 295.3L109.0 295.2L109.4 295.1L109.8 295.0L110.2 294.9L110.6 294.8L110.9 294.8L111.3 294.7L111.7 294.6L112.1 294.6L112.5 294.5L113.4 294.5L114.2 294.4L114.6 294.4L115.4 294.4L116.0 294.4L116.4 294.5L116.9 294.5L117.3 294.5L117.8 294.6L118.2 294.6L118.7 294.7L119.1 294.8L119.7 294.9L120.2 295.0L120.7 295.1L121.2 295.2L121.6 295.3L122.2 295.4L122.7 295.6L123.2 295.7L123.7 295.9L124.1 296.0L124.7 296.2L125.3 296.4L125.9 296.6L126.5 296.8L127.1 297.0L127.6 297.3L128.2 297.5L128.8 297.7L129.4 298.0L130.0 298.2L130.6 298.5L131.2 298.8L131.9 299.0L132.5 299.3L133.1 299.6L133.8 299.9L134.5 300.2L135.1 300.6L135.8 300.9L136.5 301.2L137.1 301.5L137.7 301.8L138.3 302.1L138.6 302.2L139.4 302.6L140.1 302.9L140.8 303.3L141.4 303.6L142.0 303.9L142.4 304.0L143.2 304.4L143.9 304.7L144.5 305.0L145.1 305.3L145.6 305.5L146.4 305.9L147.0 306.2L147.6 306.4L148.1 306.7L148.8 307.0L149.4 307.3L149.8 307.4L150.7 307.8L151.3 308.1L151.6 308.2L152.5 308.6L153.2 308.8L153.5 309.0L154.4 309.3L155.0 309.6L155.4 309.7L156.3 310.1L156.9 310.3L157.4 310.5L158.1 310.7L158.7 311.0L159.3 311.2L160.0 311.4L160.5 311.6L161.2 311.8L161.8 312.0L162.4 312.2L163.1 312.4L163.7 312.6L164.3 312.8L164.8 312.9L165.5 313.1L166.0 313.3L166.8 313.5L167.4 313.6L168.0 313.8L168.6 314.0L169.2 314.1L169.9 314.3L170.5 314.4L171.1 314.6L171.7 314.7L172.3 314.8L173.0 315.0L173.6 315.1L174.2 315.2L174.8 315.3L175.4 315.5L175.8 315.5L176.7 315.7L177.2 315.8L177.9 315.9L178.5 316.0L179.1 316.1L179.8 316.2L180.4 316.3L181.0 316.4L181.6 316.5L182.2 316.6L182.8 316.6L183.5 316.7L184.1 316.8L184.7 316.9L185.3 316.9L185.8 317.0L186.6 317.1L187.2 317.1L187.8 317.2L188.4 317.2L188.8 317.3L189.7 317.4L190.3 317.4L190.9 317.5L191.5 317.5L192.1 317.5L192.8 317.6L193.4 317.6L194.0 317.7L194.6 317.7L195.2 317.7L195.8 317.8L196.5 317.8L197.1 317.8L197.7 317.8L198.3 317.9L198.9 317.9L199.6 317.9L200.2 317.9L200.7 317.9L201.4 317.9L202.0 318.0L202.6 318.0L203.3 318.0L203.9 318.0L204.5 318.0L205.1 318.0L205.7 318.0L206.4 318.0L207.0 318.0L207.6 318.0L208.2 318.0L208.8 318.0L209.5 318.0L210.1 318.0L210.7 318.0L211.3 318.0L211.9 317.9L212.5 317.9L213.2 317.9L213.8 317.9L214.4 317.9L215.0 317.9L215.6 317.9L216.3 317.8L216.8 317.8L217.5 317.8L218.1 317.8L218.7 317.7L219.4 317.7L220.0 317.7L220.6 317.7L221.2 317.6L221.8 317.6L222.4 317.6L223.1 317.6L223.6 317.5L224.3 317.5L224.9 317.5L225.5 317.4L226.0 317.4L226.8 317.4L227.4 317.3L228.0 317.3L228.5 317.3L229.3 317.2L229.9 317.2L230.5 317.1L231.0 317.1L231.7 317.1L232.3 317.0L233.0 317.0L233.6 316.9L234.2 316.9L234.8 316.9L235.4 316.8L236.1 316.8L236.7 316.7L237.3 316.7L237.9 316.6L238.5 316.6L239.0 316.6L239.8 316.5L240.4 316.5L241.0 316.4L241.6 316.4L242.2 316.3L242.9 316.3L243.5 316.2L244.1 316.2L244.6 316.1L245.3 316.1L246.0 316.0L246.6 316.0L247.2 315.9L247.8 315.9L248.4 315.8L249.0 315.8L249.7 315.7L250.3 315.7L250.9 315.6L251.5 315.6L252.1 315.5L252.8 315.5L253.4 315.4L254.0 315.4L254.6 315.3L255.2 315.2L255.9 315.2L256.5 315.1L257.0 315.1L257.7 315.0L258.3 315.0L258.9 314.9L259.6 314.9L260.2 314.8L260.8 314.8L261.4 314.7L262.0 314.7L262.7 314.6L263.3 314.5L263.7 314.5L264.5 314.4L265.1 314.4L265.8 314.3L266.4 314.3L267.0 314.2L267.6 314.2L268.2 314.1L268.8 314.1L269.5 314.0L270.1 313.9L270.7 313.9L271.3 313.8L271.9 313.8L272.6 313.7L273.2 313.7L273.8 313.6L274.4 313.6L275.0 313.5L275.6 313.4L276.3 313.4L276.9 313.3L277.5 313.3L278.1 313.2L278.7 313.2L279.4 313.1L280.0 313.1L280.6 313.0L281.2 312.9L281.8 312.9L282.5 312.8L283.1 312.8L283.7 312.7L284.3 312.7L284.9 312.6L285.5 312.6L286.2 312.5L286.6 312.5L287.4 312.4L288.0 312.3L288.6 312.3L289.3 312.2L289.9 312.2L290.5 312.1L291.1 312.1L291.7 312.0L292.4 312.0L293.0 311.9L293.6 311.8L294.2 311.8L294.8 311.7L295.3 311.7L296.1 311.6L296.7 311.6L297.3 311.5L297.9 311.5L298.5 311.4L299.2 311.4L299.8 311.3L300.4 311.3L301.0 311.2L301.6 311.2L302.2 311.1L302.9 311.0L303.5 311.0L304.1 310.9L304.6 310.9L305.3 310.8L306.0 310.8L306.6 310.7L307.2 310.7L307.8 310.6L308.4 310.6L309.1 310.5L309.5 310.5L310.3 310.4L310.9 310.4L311.5 310.3L312.1 310.3L312.8 310.2L313.4 310.2L314.0 310.1L314.5 310.1L315.2 310.0L315.9 310.0L316.5 309.9L317.1 309.9L317.7 309.8L318.3 309.8L319.0 309.7L319.6 309.7L320.2 309.6L320.8 309.6L321.4 309.5L322.0 309.5L322.7 309.4L323.3 309.4L323.9 309.3L324.5 309.3L325.1 309.2L325.8 309.2L326.4 309.1L327.0 309.1L327.6 309.0L328.2 309.0L328.9 308.9L329.5 308.9L330.1 308.8L330.7 308.8L331.3 308.8L331.9 308.7L332.6 308.7L333.2 308.6L333.8 308.6L334.4 308.5L335.0 308.5L335.7 308.4L336.3 308.4L336.9 308.3L337.5 308.3L338.1 308.2L338.7 308.2L339.4 308.2L340.0 308.1L340.6 308.1L341.2 308.0L341.8 308.0L342.5 307.9L343.0 307.9L343.7 307.8L344.3 307.8L344.9 307.8L345.6 307.7L346.2 307.7L346.8 307.6L347.4 307.6L348.0 307.5L348.6 307.5L349.3 307.4L349.9 307.4L350.5 307.4L351.1 307.3L351.7 307.3L352.4 307.2L353.0 307.2L353.6 307.1L354.2 307.1L354.8 307.1L355.5 307.0L356.1 307.0L356.7 306.9L357.3 306.9L357.9 306.9L358.5 306.8L359.2 306.8L359.8 306.7L360.4 306.7L361.0 306.7L361.6 306.6L362.3 306.6L362.9 306.5L363.5 306.5L364.1 306.5L364.7 306.4L365.4 306.4L366.0 306.3L366.6 306.3L367.2 306.3L367.8 306.2L368.4 306.2L369.1 306.1L369.7 306.1L370.3 306.1" fill="none" stroke="#ff0000" stroke-width="1.5" stroke-linejoin="round"/>
<path d="M61.6 317.8L61.7 317.1L61.8 316.4L61.9 315.6L62.0 315.2L62.0 314.8L62.1 314.3L62.1 313.9L62.2 313.5L62.2 313.0L62.3 312.6L62.3 312.1L62.4 311.7L62.4 311.2L62.5 310.7L62.6 310.3L62.6 309.8L62.7 309.3L62.7 308.8L62.8 308.4L62.8 307.9L62.9 307.4L63.0 306.9L63.0 306.5L63.1 306.0L63.1 305.5L63.2 305.1L63.2 304.6L63.3 304.1L63.4 303.7L63.4 303.2L63.5 302.8L63.5 302.3L63.6 301.9L63.6 301.5L63.7 301.1L63.8 300.7L63.8 300.2L63.9 299.9L64.0 299.1L64.1 298.7L64.2 298.0L64.3 297.3L64.4 296.7L64.6 296.1L64.7 295.6L64.8 295.1L64.9 294.7L65.1 294.3L65.2 293.9L65.4 293.5L65.6 293.2L65.9 293.0L66.4 293.0L66.6 293.3L66.9 293.6L67.1 293.9L67.3 294.4L67.5 294.7L67.6 295.1L67.8 295.5L67.9 295.9L68.1 296.3L68.2 296.7L68.4 297.2L68.5 297.6L68.7 298.1L68.9 298.5L69.0 299.0L69.2 299.4L69.4 299.9L69.5 300.3L69.7 300.7L69.9 301.2L70.1 301.5L70.2 301.9L70.4 302.3L70.6 302.6L70.8 302.9L70.9 303.2L71.2 303.6L71.5 303.9L71.8 304.2L72.1 304.4L72.4 304.6L72.7 304.7L73.2 304.7L73.6 304.7L74.0 304.6L74.3 304.4L74.7 304.2L75.0 304.0L75.3 303.7L75.7 303.5L76.0 303.2L76.4 302.9L76.6 302.7L76.9 302.4L77.1 302.2L77.4 302.0L77.6 301.8L77.9 301.6L78.2 301.4L78.4 301.2L78.7 301.0L79.0 300.8L79.2 300.6L79.5 300.4L79.9 300.2L80.3 300.0L80.8 299.8L81.2 299.7L81.7 299.6L82.1 299.5L82.6 299.5L83.1 299.5L83.6 299.5L84.1 299.6L84.5 299.7L84.9 299.8L85.4 299.9L86.0 300.0L86.3 300.1L86.7 300.2L87.1 300.3L87.4 300.4L87.8 300.5L88.2 300.6L88.6 300.7L89.0 300.8L89.4 300.9L89.8 301.0L90.3 301.0L90.7 301.1L91.1 301.1L91.5 301.2L92.0 301.2L92.4 301.2L92.9 301.2L93.4 301.1L93.8 301.1L94.3 301.0L94.8 300.9L95.3 300.8L95.8 300.7L96.2 300.6L96.8 300.4L97.4 300.3L97.9 300.1L98.4 299.9L99.0 299.7L99.3 299.5L99.9 299.3L100.4 299.1L101.0 298.9L101.6 298.6L102.2 298.3L102.9 298.1L103.5 297.8L103.8 297.7L104.1 297.6L104.5 297.4L104.8 297.3L105.1 297.2L105.5 297.0L105.8 296.9L106.2 296.8L106.5 296.7L106.9 296.5L107.2 296.4L107.6 296.3L107.9 296.2L108.3 296.1L108.7 296.0L109.0 295.9L109.4 295.8L109.8 295.7L110.2 295.6L110.6 295.5L110.9 295.4L111.3 295.4L111.7 295.3L112.1 295.2L112.5 295.2L112.9 295.1L113.4 295.1L113.8 295.0L114.2 295.0L114.6 295.0L115.4 295.0L116.0 295.0L116.4 295.0L116.9 295.0L117.3 295.0L117.8 295.0L118.2 295.1L118.7 295.1L119.1 295.2L119.7 295.2L120.2 295.3L120.7 295.4L121.2 295.5L121.6 295.6L122.2 295.7L122.7 295.8L123.2 296.0L123.7 296.1L124.3 296.2L124.7 296.4L125.3 296.5L125.9 296.7L126.5 296.9L127.1 297.1L127.6 297.3L128.2 297.5L128.8 297.7L129.4 298.0L130.0 298.2L130.6 298.4L131.2 298.7L131.9 298.9L132.5 299.2L133.1 299.5L133.8 299.8L134.5 300.0L135.1 300.3L135.8 300.6L136.5 300.9L137.1 301.2L137.7 301.5L138.3 301.8L138.6 301.9L139.4 302.2L140.1 302.6L140.8 302.9L141.4 303.2L142.0 303.5L142.4 303.6L143.2 304.0L143.9 304.3L144.5 304.6L145.1 304.9L145.6 305.1L146.4 305.4L147.0 305.7L147.6 305.9L148.1 306.2L148.8 306.5L149.4 306.7L149.8 306.9L150.7 307.3L151.3 307.5L151.6 307.6L152.5 308.0L153.2 308.3L153.5 308.4L154.4 308.7L155.0 309.0L155.4 309.1L156.3 309.4L156.9 309.7L157.4 309.8L158.1 310.1L158.7 310.3L159.3 310.5L160.0 310.7L160.5 310.9L161.2 311.1L161.8 311.3L162.4 311.5L163.1 311.7L163.7 311.9L164.3 312.1L164.8 312.2L165.5 312.4L166.0 312.6L166.8 312.8L167.4 312.9L168.0 313.1L168.6 313.3L169.2 313.4L169.9 313.6L170.5 313.7L171.1 313.8L171.7 314.0L172.3 314.1L173.0 314.3L173.6 314.4L174.2 314.5L174.8 314.6L175.4 314.7L175.8 314.8L176.7 315.0L177.2 315.1L177.9 315.2L178.5 315.3L179.1 315.4L179.8 315.5L180.4 315.6L181.0 315.7L181.6 315.8L182.2 315.8L182.8 315.9L183.5 316.0L184.1 316.1L184.7 316.2L185.3 316.2L185.8 316.3L186.6 316.4L187.2 316.4L187.8 316.5L188.4 316.6L188.8 316.6L189.7 316.7L190.3 316.7L190.9 316.8L191.5 316.8L192.1 316.9L192.8 316.9L193.4 316.9L194.0 317.0L194.6 317.0L195.2 317.1L195.8 317.1L196.5 317.1L197.1 317.1L197.7 317.2L198.3 317.2L198.9 317.2L199.6 317.2L200.2 317.3L200.7 317.3L201.4 317.3L202.0 317.3L202.6 317.3L203.3 317.3L203.9 317.3L204.5 317.4L205.1 317.4L205.7 317.4L206.4 317.4L207.0 317.4L207.6 317.4L208.2 317.4L208.8 317.4L209.5 317.4L210.1 317.4L210.7 317.4L211.3 317.3L211.9 317.3L212.5 317.3L213.2 317.3L213.8 317.3L214.4 317.3L215.0 317.3L215.6 317.3L216.3 317.2L216.8 317.2L217.5 317.2L218.1 317.2L218.7 317.2L219.4 317.2L220.0 317.1L220.6 317.1L221.2 317.1L221.8 317.1L222.4 317.0L223.1 317.0L223.6 317.0L224.3 316.9L224.9 316.9L225.5 316.9L226.0 316.9L226.8 316.8L227.4 316.8L228.0 316.8L228.5 316.7L229.3 316.7L229.9 316.7L230.5 316.6L231.0 316.6L231.7 316.5L232.3 316.5L233.0 316.5L233.6 316.4L234.2 316.4L234.8 316.4L235.4 316.3L236.1 316.3L236.7 316.2L237.3 316.2L237.9 316.2L238.5 316.1L239.0 316.1L239.8 316.0L240.4 316.0L241.0 315.9L241.6 315.9L242.2 315.8L242.9 315.8L243.5 315.8L244.1 315.7L244.6 315.7L245.3 315.6L246.0 315.6L246.6 315.5L247.2 315.5L247.8 315.4L248.4 315.4L249.0 315.3L249.7 315.3L250.3 315.2L250.9 315.2L251.5 315.1L252.1 315.1L252.8 315.0L253.4 315.0L254.0 314.9L254.6 314.9L255.2 314.8L255.9 314.8L256.5 314.7L257.0 314.7L257.7 314.6L258.3 314.6L258.9 314.5L259.6 314.5L260.2 314.4L260.8 314.4L261.4 314.3L262.0 314.3L262.7 314.2L263.3 314.2L263.7 314.1L264.5 314.0L265.1 314.0L265.8 313.9L266.4 313.9L267.0 313.8L267.6 313.8L268.2 313.7L268.8 313.7L269.5 313.6L270.1 313.6L270.7 313.5L271.3 313.5L271.9 313.4L272.6 313.4L273.2 313.3L273.8 313.3L274.4 313.2L275.0 313.1L275.6 313.1L276.3 313.0L276.9 313.0L277.5 312.9L278.1 312.9L278.7 312.8L279.4 312.8L280.0 312.7L280.6 312.7L281.2 312.6L281.8 312.6L282.5 312.5L283.1 312.4L283.7 312.4L284.3 312.3L284.9 312.3L285.5 312.2L286.2 312.2L286.6 312.1L287.4 312.1L288.0 312.0L288.6 312.0L289.3 311.9L289.9 311.9L290.5 311.8L291.1 311.8L291.7 311.7L292.4 311.7L293.0 311.6L293.6 311.5L294.2 311.5L294.8 311.4L295.3 311.4L296.1 311.3L296.7 311.3L297.3 311.2L297.9 311.2L298.5 311.1L299.2 311.1L299.8 311.0L300.4 311.0L301.0 310.9L301.6 310.9L302.2 310.8L302.9 310.8L303.5 310.7L304.1 310.7L304.6 310.6L305.3 310.6L306.0 310.5L306.6 310.5L307.2 310.4L307.8 310.4L308.4 310.3L309.1 310.3L309.5 310.2L310.3 310.2L310.9 310.1L311.5 310.1L312.1 310.0L312.8 310.0L313.4 309.9L314.0 309.9L314.5 309.8L315.2 309.8L315.9 309.7L316.5 309.7L317.1 309.6L317.7 309.6L318.3 309.5L319.0 309.5L319.6 309.4L320.2 309.4L320.8 309.3L321.4 309.3L322.0 309.2L322.7 309.2L323.3 309.1L323.9 309.1L324.5 309.0L325.1 309.0L325.8 309.0L326.4 308.9L327.0 308.9L327.6 308.8L328.2 308.8L328.9 308.7L329.5 308.7L330.1 308.6L330.7 308.6L331.3 308.5L331.9 308.5L332.6 308.4L333.2 308.4L333.8 308.4L334.4 308.3L335.0 308.3L335.7 308.2L336.3 308.2L336.9 308.1L337.5 308.1L338.1 308.0L338.7 308.0L339.4 307.9L340.0 307.9L340.6 307.9L341.2 307.8L341.8 307.8L342.5 307.7L343.0 307.7L343.7 307.6L344.3 307.6L344.9 307.6L345.6 307.5L346.2 307.5L346.8 307.4L347.4 307.4L348.0 307.3L348.6 307.3L349.3 307.3L349.9 307.2L350.5 307.2L351.1 307.1L351.7 307.1L352.4 307.0L353.0 307.0L353.6 307.0L354.2 306.9L354.8 306.9L355.5 306.8L356.1 306.8L356.7 306.8L357.3 306.7L357.9 306.7L358.5 306.6L359.2 306.6L359.8 306.6L360.4 306.5L361.0 306.5L361.6 306.4L362.3 306.4L362.9 306.4L363.5 306.3L364.1 306.3L364.7 306.2L365.4 306.2L366.0 306.2L366.6 306.1L367.2 306.1L367.8 306.1L368.4 306.0L369.1 306.0L369.7 305.9L370.3 305.9" fill="none" stroke="#8b008b" stroke-width="1.5" stroke-linejoin="round" stroke-dasharray="3.4 1.3"/>
<path d="M61.6 291.6L370.3 291.6" fill="none" stroke="#000000" stroke-width="1.3" stroke-linejoin="round"/>
</g>
<g clip-path="url(#c4)">
<path d="M446.6 292.5L446.6 293.0L446.6 293.5L446.6 294.1L446.7 294.6L446.7 295.3L446.7 295.9L446.7 296.5L446.8 297.0L446.8 297.6L446.8 298.0L446.8 298.6L446.9 299.1L447.1 298.7L447.1 298.1L447.1 297.6L447.2 297.1L447.2 296.6L447.2 296.0L447.2 295.4L447.3 294.7L447.3 294.1L447.3 293.5L447.4 293.0L447.4 292.5L447.4 292.0L447.5 291.5L447.5 291.0L447.6 290.5L447.8 290.8L447.8 291.3L447.9 291.7L448.0 292.2L448.1 292.5L448.3 292.3L448.4 292.0L448.5 291.6L448.6 291.2L448.8 291.5L448.9 291.9L448.9 292.4L449.0 292.8L449.1 293.2L449.1 293.7L449.2 294.1L449.3 294.5L449.5 294.2L449.6 293.7L449.7 293.3L449.7 292.7L449.8 292.2L449.8 291.7L449.9 291.3L450.0 290.8L450.3 291.2L450.3 291.6L450.4 292.2L450.4 292.7L450.5 293.3L450.5 294.0L450.6 294.7L450.6 295.4L450.7 296.1L450.7 296.8L450.7 297.5L450.8 298.2L450.8 298.8L450.9 299.4L450.9 299.9L451.0 300.4L451.1 300.9L451.2 301.2L451.3 300.8L451.4 300.2L451.5 299.8L451.5 299.2L451.6 298.6L451.6 298.0L451.7 297.3L451.7 296.8L451.7 296.2L451.8 295.5L451.8 294.8L451.9 294.2L452.0 293.6L452.0 293.0L452.1 292.6L452.1 292.0L452.3 291.6L452.5 292.0L452.6 292.5L452.6 292.9L452.7 293.5L452.7 293.9L452.8 294.6L452.9 295.2L452.9 295.9L453.0 296.5L453.0 297.1L453.1 297.7L453.2 298.2L453.2 298.7L453.3 299.1L453.4 299.6L453.5 299.9L453.7 299.5L453.8 299.0L453.9 298.6L454.0 298.1L454.0 297.6L454.1 297.0L454.2 296.3L454.2 295.7L454.3 295.1L454.4 294.4L454.4 293.8L454.5 293.2L454.6 292.6L454.7 292.1L454.7 291.7L454.8 291.3L454.9 290.8L455.1 290.4L455.4 290.6L455.6 291.0L455.7 291.4L455.8 291.8L456.0 292.1L456.1 292.5L456.3 292.8L456.5 293.1L456.8 292.9L457.0 292.6L457.2 292.3L457.4 291.9L457.5 291.6L457.7 291.3L458.1 291.2L458.3 291.4L458.5 291.8L458.7 292.1L458.8 292.5L459.0 292.9L459.2 293.3L459.3 293.6L459.5 293.9L459.7 294.2L460.2 294.2L460.4 293.8L460.6 293.5L460.8 293.1L461.0 292.6L461.1 292.3L461.2 291.9L461.4 291.4L461.6 291.0L461.8 290.7L462.1 290.5L462.4 290.6L462.6 290.9L462.8 291.4L463.0 291.8L463.1 292.3L463.3 292.9L463.4 293.3L463.5 293.8L463.6 294.5L463.8 295.2L463.9 295.9L464.1 296.4L464.2 297.0L464.3 297.7L464.5 298.3L464.7 298.9L464.8 299.5L465.0 300.0L465.2 300.4L465.3 300.7L465.6 301.0L466.0 300.9L466.3 300.6L466.5 300.3L466.6 299.9L466.8 299.5L466.9 299.1L467.1 298.5L467.3 297.9L467.5 297.3L467.6 296.9L467.8 296.2L468.0 295.5L468.2 294.9L468.3 294.5L468.5 293.8L468.7 293.3L468.9 292.9L469.0 292.6L469.2 292.2L469.5 291.9L469.8 291.6L470.2 291.7L470.6 291.9L470.8 292.2L471.1 292.6L471.3 293.0L471.4 293.3L471.6 293.8L471.8 294.2L471.9 294.6L472.2 295.1L472.3 295.5L472.4 295.8L472.5 296.1L472.7 296.4L472.8 296.8L472.9 297.1L473.2 297.7L473.5 298.3L473.7 298.6L473.9 299.0L474.2 299.5L474.5 299.8L474.7 300.0L475.0 300.2L475.5 300.3L475.9 300.1L476.2 299.9L476.6 299.6L476.9 299.2L477.1 298.9L477.4 298.5L477.7 297.9L477.9 297.6L478.0 297.3L478.2 297.0L478.4 296.7L478.5 296.3L478.7 296.0L478.9 295.7L479.1 295.3L479.3 295.0L479.4 294.7L479.6 294.3L479.8 294.0L480.0 293.7L480.2 293.4L480.4 293.1L480.5 292.8L480.7 292.5L480.9 292.3L481.2 291.9L481.5 291.6L481.9 291.2L482.2 290.9L482.5 290.8L482.9 290.6L483.3 290.5L483.8 290.4L484.2 290.4L484.6 290.5L485.1 290.6L485.6 290.8L486.0 291.0L486.4 291.1L486.7 291.3L487.0 291.5L487.4 291.7L487.7 291.9L488.1 292.0L488.4 292.2L488.8 292.4L489.1 292.6L489.5 292.7L489.8 292.9L490.1 293.0L490.5 293.1L491.0 293.2L491.5 293.3L491.9 293.4L492.5 293.4L493.1 293.4L493.6 293.4L494.1 293.3L494.6 293.2L495.0 293.2L495.6 293.0L496.0 292.9L496.7 292.7L497.1 292.6L497.4 292.5L497.8 292.4L498.1 292.3L498.5 292.2L498.9 292.1L499.3 292.0L499.6 291.9L500.0 291.8L500.4 291.7L500.8 291.6L501.2 291.6L501.6 291.5L502.0 291.4L502.4 291.4L502.8 291.3L503.3 291.3L503.7 291.2L504.1 291.2L504.6 291.2L505.2 291.2L505.9 291.2L506.4 291.3L506.8 291.3L507.3 291.4L507.8 291.4L508.3 291.5L508.7 291.6L509.3 291.7L509.7 291.7L510.3 291.8L510.7 291.9L511.3 292.1L511.8 292.2L512.4 292.3L512.8 292.4L513.5 292.5L514.1 292.6L514.5 292.7L515.2 292.9L515.8 293.0L516.2 293.1L516.9 293.2L517.6 293.3L518.2 293.4L518.9 293.5L519.3 293.6L520.0 293.6L520.7 293.7L521.4 293.8L522.1 293.8L522.7 293.9L523.4 293.9L524.1 293.9L524.8 293.9L525.5 293.9L526.2 293.9L526.9 293.8L527.3 293.8L527.9 293.8L528.6 293.7L529.3 293.7L529.7 293.6L530.3 293.6L531.0 293.5L531.7 293.4L532.2 293.4L532.7 293.3L533.1 293.2L533.7 293.2L534.4 293.1L534.9 293.0L535.4 292.9L536.1 292.8L536.7 292.7L537.2 292.7L537.7 292.6L538.2 292.5L538.6 292.4L539.2 292.3L539.6 292.3L540.2 292.2L540.9 292.1L541.6 292.0L542.3 291.9L543.0 291.8L543.7 291.7L544.4 291.6L544.8 291.5L545.4 291.4L545.9 291.4L546.4 291.3L547.1 291.2L547.8 291.1L548.2 291.1L548.8 291.0L549.4 291.0L549.9 290.9L550.5 290.9L551.2 290.8L551.8 290.8L552.3 290.7L552.9 290.7L553.6 290.6L554.3 290.6L555.0 290.6L555.7 290.5L556.4 290.5L557.0 290.5L557.8 290.5L558.4 290.5L559.1 290.5L559.8 290.5L560.5 290.5L561.2 290.5L561.9 290.5L562.6 290.5L563.2 290.5L563.9 290.5L564.6 290.5L565.3 290.6L566.0 290.6L566.7 290.6L567.2 290.7L567.7 290.7L568.4 290.7L568.8 290.7L569.4 290.8L570.1 290.8L570.8 290.9L571.5 290.9L572.2 291.0L572.9 291.1L573.5 291.1L574.2 291.2L574.9 291.2L575.6 291.3L576.3 291.4L577.0 291.5L577.5 291.5L578.0 291.6L578.7 291.6L579.4 291.7L580.1 291.8L580.7 291.9L581.3 291.9L581.8 292.0L582.5 292.1L583.1 292.2L583.8 292.3L584.5 292.3L585.2 292.4L585.9 292.5L586.6 292.6L587.3 292.7L588.0 292.8L588.6 292.9L589.3 293.0L590.0 293.1L590.7 293.1L591.4 293.2L592.1 293.3L592.8 293.4L593.4 293.5L593.9 293.6L594.5 293.7L595.2 293.7L595.8 293.8L596.5 293.9L597.2 294.0L597.9 294.1L598.6 294.2L599.3 294.3L600.0 294.4L600.7 294.5L601.1 294.5L601.7 294.6L602.4 294.7L603.1 294.8L603.6 294.9L604.1 294.9L604.8 295.0L605.5 295.1L606.1 295.2L606.8 295.3L607.5 295.4L608.2 295.5L608.9 295.5L609.6 295.6L610.3 295.7L610.9 295.8L611.6 295.9L612.3 296.0L613.0 296.0L613.7 296.1L614.4 296.2L615.1 296.3L615.8 296.4L616.4 296.4L617.1 296.5L617.6 296.6L618.2 296.6L618.8 296.7L619.5 296.8L620.2 296.9L620.6 296.9L621.2 297.0L621.9 297.0L622.6 297.1L623.3 297.2L623.8 297.2L624.3 297.3L625.0 297.3L625.7 297.4L626.4 297.5L627.1 297.5L627.8 297.6L628.5 297.7L629.1 297.7L629.8 297.8L630.5 297.8L631.2 297.9L631.9 298.0L632.6 298.0L633.3 298.1L633.9 298.1L634.6 298.2L635.3 298.2L636.0 298.3L636.7 298.3L637.4 298.4L638.1 298.5L638.8 298.5L639.4 298.5L640.1 298.6L640.8 298.6L641.5 298.7L642.2 298.7L642.9 298.8L643.6 298.8L644.2 298.9L644.9 298.9L645.4 298.9L646.0 299.0L646.6 299.0L647.3 299.1L648.0 299.1L648.7 299.1L649.4 299.2L650.1 299.2L650.8 299.2L651.4 299.3L652.1 299.3L652.8 299.4L653.5 299.4L654.2 299.4L654.9 299.5L655.6 299.5L656.3 299.5L656.9 299.5L657.6 299.6L658.2 299.6L658.7 299.6L659.3 299.6L660.0 299.7L660.7 299.7L661.4 299.7L662.1 299.7L662.8 299.8L663.5 299.8L664.1 299.8L664.8 299.8L665.5 299.9L666.2 299.9L666.9 299.9L667.5 299.9L668.3 300.0L669.0 300.0L669.6 300.0L670.3 300.0L671.0 300.0L671.7 300.0L672.4 300.1L673.1 300.1L673.8 300.1L674.4 300.1L675.1 300.1L675.8 300.1L676.5 300.2L677.2 300.2L677.8 300.2L678.2 300.2L678.9 300.2L679.6 300.2L680.3 300.2L681.0 300.2L681.7 300.2L682.3 300.3L683.0 300.3L683.7 300.3L684.4 300.3L685.1 300.3L685.8 300.3L686.5 300.3L687.1 300.3L687.8 300.3L688.5 300.3L689.2 300.3L689.9 300.3L690.6 300.3L691.3 300.3L691.9 300.3L692.6 300.4L693.3 300.4L694.0 300.4L694.7 300.4L695.4 300.4L696.1 300.4L696.8 300.4L697.4 300.4L698.1 300.4L698.8 300.4L699.5 300.4L700.2 300.4L700.9 300.4L701.6 300.4L702.2 300.4L702.9 300.4L703.6 300.4L704.3 300.4L705.0 300.4L705.7 300.4L706.4 300.4L707.0 300.4L707.7 300.4L708.4 300.4L709.1 300.4L709.8 300.4L710.5 300.4L711.2 300.4L711.9 300.4L712.5 300.3L713.2 300.3L713.9 300.3L714.6 300.3L715.3 300.3L716.0 300.3L716.7 300.3L717.3 300.3L718.0 300.3L718.7 300.3L719.4 300.3L720.1 300.3L720.8 300.3L721.5 300.3L722.2 300.3L722.8 300.3L723.5 300.3L724.2 300.3L724.9 300.2L725.6 300.2L726.3 300.2L727.0 300.2L727.6 300.2L728.3 300.2L729.0 300.2L729.5 300.2L730.0 300.2L730.7 300.2L731.4 300.2L732.1 300.2L732.8 300.2L733.5 300.1L734.2 300.1L734.9 300.1L735.5 300.1L736.2 300.1L736.9 300.1L737.6 300.1L738.3 300.1L739.0 300.1L739.7 300.1L740.3 300.0L741.0 300.0L741.7 300.0L742.4 300.0L743.1 300.0L743.8 300.0L744.5 300.0L745.1 300.0L745.8 300.0L746.5 299.9L747.2 299.9L747.9 299.9L748.6 299.9L749.3 299.9L750.0 299.9L750.6 299.9L751.3 299.9L752.0 299.9L752.7 299.8L753.4 299.8L754.1 299.8L754.8 299.8L755.1 299.8" fill="none" stroke="#8b008b" stroke-width="1.5" stroke-linejoin="round" stroke-dasharray="3.4 1.3"/>
<path d="M446.6 299.2L446.7 298.8L446.7 298.4L446.8 297.9L446.9 297.6L447.0 297.1L447.0 296.7L447.1 296.2L447.2 295.7L447.2 295.3L447.3 294.9L447.3 294.5L447.4 294.1L447.5 293.7L447.5 293.2L447.6 292.8L447.7 292.4L447.8 292.0L447.8 291.5L447.9 291.1L448.1 290.8L448.2 290.5L448.6 290.5L448.7 290.9L448.9 291.3L449.0 291.7L449.1 292.1L449.2 292.6L449.2 293.0L449.3 293.4L449.4 293.8L449.5 294.3L449.6 294.8L449.6 295.2L449.7 295.6L449.8 296.1L449.9 296.6L450.0 297.2L450.0 297.7L450.1 298.2L450.2 298.7L450.3 299.2L450.4 299.6L450.5 300.1L450.6 300.5L450.7 301.0L450.7 301.3L450.8 301.7L451.0 302.1L451.1 302.5L451.2 302.8L451.4 303.1L451.7 303.4L452.0 303.2L452.3 303.0L452.4 302.6L452.6 302.3L452.7 301.9L452.8 301.6L452.9 301.2L453.1 300.8L453.2 300.3L453.3 299.9L453.4 299.5L453.5 299.1L453.6 298.7L453.7 298.3L453.8 297.9L453.9 297.5L454.0 297.2L454.1 296.8L454.2 296.4L454.3 296.0L454.4 295.6L454.6 295.3L454.7 294.9L454.8 294.6L454.9 294.1L455.1 293.7L455.2 293.3L455.4 292.9L455.5 292.6L455.7 292.3L455.9 292.0L456.2 291.7L456.5 291.5L456.9 291.6L457.2 291.7L457.5 292.0L457.6 292.3L457.8 292.6L458.0 293.0L458.2 293.3L458.3 293.6L458.5 294.0L458.6 294.4L458.8 294.9L458.9 295.3L459.1 295.8L459.2 296.2L459.4 296.6L459.5 297.0L459.6 297.4L459.7 297.8L459.8 298.1L459.9 298.5L460.1 298.9L460.2 299.4L460.3 299.7L460.4 300.2L460.5 300.6L460.7 301.1L460.8 301.5L460.9 302.0L461.0 302.4L461.2 302.9L461.3 303.3L461.4 303.8L461.5 304.3L461.7 304.7L461.8 305.2L461.9 305.7L462.1 306.1L462.2 306.6L462.3 307.1L462.5 307.5L462.6 308.0L462.8 308.4L462.9 308.9L463.0 309.3L463.2 309.8L463.3 310.2L463.5 310.7L463.6 311.1L463.8 311.5L463.9 312.0L464.1 312.4L464.3 312.8L464.4 313.1L464.6 313.5L464.7 313.9L464.9 314.3L465.1 314.6L465.2 315.0L465.4 315.3L465.6 315.6L465.8 315.9L465.9 316.2L466.1 316.5L466.4 316.9L466.6 317.2L466.9 317.6L467.2 317.9L467.5 318.1L467.8 318.4L468.1 318.6L468.4 318.7L468.8 318.9L469.2 318.9L469.7 319.0L470.1 318.9L470.6 318.8L470.9 318.7L471.3 318.5L471.6 318.4L471.9 318.2L472.3 317.9L472.5 317.7L472.8 317.5L473.1 317.3L473.3 317.1L473.6 316.8L473.9 316.5L474.2 316.2L474.5 316.0L474.7 315.7L475.0 315.3L475.3 315.0L475.6 314.7L475.9 314.3L476.2 313.9L476.6 313.6L476.9 313.2L477.1 312.9L477.4 312.6L477.7 312.2L478.0 311.7L478.4 311.3L478.7 310.9L479.1 310.4L479.4 310.0L479.8 309.5L480.2 309.1L480.5 308.6L480.7 308.4L481.1 307.9L481.5 307.4L481.9 306.9L482.1 306.7L482.5 306.2L482.7 305.9L482.9 305.7L483.2 305.5L483.4 305.2L483.6 305.0L483.8 304.7L484.0 304.5L484.2 304.2L484.5 304.0L484.7 303.7L484.9 303.5L485.1 303.2L485.4 303.0L485.6 302.8L485.8 302.5L486.1 302.3L486.3 302.0L486.6 301.8L486.8 301.5L487.0 301.3L487.3 301.1L487.5 300.8L487.8 300.6L488.1 300.3L488.3 300.1L488.6 299.9L488.8 299.6L489.1 299.4L489.4 299.2L489.6 298.9L489.9 298.7L490.2 298.5L490.5 298.2L490.8 298.0L491.0 297.8L491.3 297.6L491.6 297.3L491.9 297.1L492.2 296.9L492.5 296.7L492.8 296.5L493.1 296.3L493.4 296.1L493.7 295.9L494.1 295.6L494.4 295.4L494.7 295.2L495.0 295.0L495.4 294.8L495.7 294.6L496.0 294.5L496.4 294.3L496.7 294.1L497.1 293.9L497.4 293.7L497.8 293.5L498.1 293.3L498.5 293.2L498.9 293.0L499.3 292.8L499.6 292.6L500.0 292.5L500.4 292.3L500.8 292.2L501.1 292.0L501.5 291.9L501.8 291.8L502.2 291.6L502.5 291.5L502.8 291.4L503.2 291.3L503.5 291.2L503.9 291.0L504.2 290.9L504.9 290.7L505.4 290.6L505.9 290.4L506.3 290.3L506.8 290.2L507.3 290.1L507.8 290.0L508.3 289.8L508.7 289.7L509.3 289.6L509.7 289.5L510.3 289.4L510.7 289.3L511.3 289.2L511.8 289.1L512.4 289.0L512.8 289.0L513.5 288.9L514.1 288.8L514.5 288.7L515.2 288.6L515.8 288.6L516.2 288.5L516.9 288.4L517.6 288.4L518.2 288.3L518.9 288.2L519.3 288.2L520.0 288.1L520.7 288.1L521.4 288.0L522.1 288.0L522.7 288.0L523.4 287.9L524.1 287.9L524.8 287.8L525.5 287.8L526.2 287.8L526.9 287.8L527.3 287.7L527.9 287.7L528.6 287.7L529.3 287.7L529.7 287.7L530.3 287.7L531.0 287.7L531.7 287.6L532.2 287.6L532.7 287.6L533.4 287.6L534.0 287.6L534.8 287.6L535.4 287.6L536.1 287.6L536.7 287.6L537.5 287.6L538.2 287.6L538.6 287.6L539.2 287.6L539.9 287.6L540.6 287.6L541.3 287.6L542.0 287.7L542.7 287.7L543.3 287.7L544.0 287.7L544.7 287.7L545.4 287.7L545.9 287.7L546.4 287.7L547.1 287.7L547.8 287.7L548.5 287.8L549.2 287.8L549.9 287.8L550.5 287.8L551.2 287.8L551.8 287.8L552.6 287.8L553.1 287.9L553.6 287.9L554.3 287.9L555.0 287.9L555.7 287.9L556.4 287.9L557.0 287.9L557.8 288.0L558.4 288.0L559.1 288.0L559.8 288.0L560.5 288.0L561.2 288.1L561.9 288.1L562.6 288.1L563.2 288.1L563.9 288.1L564.6 288.1L565.3 288.2L566.0 288.2L566.7 288.2L567.2 288.2L567.7 288.2L568.4 288.2L568.8 288.3L569.4 288.3L570.1 288.3L570.8 288.3L571.5 288.3L572.2 288.4L572.9 288.4L573.5 288.4L574.2 288.4L574.9 288.4L575.6 288.4L576.3 288.5L577.0 288.5L577.5 288.5L578.0 288.5L578.7 288.5L579.4 288.5L580.1 288.6L580.7 288.6L581.3 288.6L581.8 288.6L582.5 288.6L583.1 288.6L583.8 288.7L584.5 288.7L585.2 288.7L585.9 288.7L586.6 288.7L587.3 288.7L588.0 288.8L588.6 288.8L589.3 288.8L590.0 288.8L590.7 288.8L591.4 288.8L592.1 288.9L592.8 288.9L593.4 288.9L593.9 288.9L594.5 288.9L595.2 288.9L595.8 289.0L596.5 289.0L597.2 289.0L597.9 289.0L598.6 289.0L599.3 289.0L600.0 289.0L600.7 289.1L601.3 289.1L602.0 289.1L602.7 289.1L603.4 289.1L604.1 289.1L604.8 289.2L605.5 289.2L606.1 289.2L606.8 289.2L607.5 289.2L608.2 289.2L608.9 289.2L609.6 289.3L610.3 289.3L610.9 289.3L611.6 289.3L612.3 289.3L613.0 289.3L613.7 289.3L614.4 289.4L615.1 289.4L615.8 289.4L616.4 289.4L617.1 289.4L617.6 289.4L618.2 289.4L618.8 289.4L619.5 289.4L620.2 289.5L620.9 289.5L621.6 289.5L622.3 289.5L623.0 289.5L623.6 289.5L624.3 289.5L625.0 289.5L625.7 289.6L626.4 289.6L627.1 289.6L627.8 289.6L628.5 289.6L629.1 289.6L629.8 289.6L630.5 289.6L631.2 289.7L631.9 289.7L632.6 289.7L633.3 289.7L633.9 289.7L634.6 289.7L635.3 289.7L636.0 289.7L636.7 289.7L637.4 289.7L638.1 289.8L638.8 289.8L639.4 289.8L640.1 289.8L640.8 289.8L641.5 289.8L642.2 289.8L642.9 289.8L643.6 289.8L644.2 289.8L644.9 289.9L645.4 289.9L646.0 289.9L646.6 289.9L647.3 289.9L648.0 289.9L648.7 289.9L649.4 289.9L650.1 289.9L650.8 289.9L651.4 289.9L652.1 290.0L652.8 290.0L653.5 290.0L654.2 290.0L654.9 290.0L655.6 290.0L656.3 290.0L656.9 290.0L657.6 290.0L658.2 290.0L658.7 290.0L659.3 290.0L660.0 290.1L660.7 290.1L661.4 290.1L662.1 290.1L662.8 290.1L663.5 290.1L664.1 290.1L664.8 290.1L665.5 290.1L666.2 290.1L666.9 290.1L667.5 290.1L668.3 290.1L669.0 290.2L669.6 290.2L670.3 290.2L671.0 290.2L671.7 290.2L672.4 290.2L673.1 290.2L673.8 290.2L674.4 290.2L675.1 290.2L675.8 290.2L676.5 290.2L677.2 290.2L677.8 290.2L678.2 290.3L678.9 290.3L679.6 290.3L680.3 290.3L681.0 290.3L681.7 290.3L682.3 290.3L683.0 290.3L683.7 290.3L684.4 290.3L685.1 290.3L685.8 290.3L686.5 290.3L687.1 290.3L687.8 290.3L688.5 290.4L689.2 290.4L689.9 290.4L690.6 290.4L691.3 290.4L691.9 290.4L692.6 290.4L693.3 290.4L694.0 290.4L694.7 290.4L695.4 290.4L696.1 290.4L696.8 290.4L697.4 290.4L698.1 290.4L698.8 290.4L699.5 290.4L700.2 290.4L700.9 290.5L701.6 290.5L702.2 290.5L702.9 290.5L703.6 290.5L704.3 290.5L705.0 290.5L705.7 290.5L706.4 290.5L707.0 290.5L707.7 290.5L708.4 290.5L709.1 290.5L709.8 290.5L710.5 290.5L711.2 290.5L711.9 290.5L712.5 290.5L713.2 290.5L713.9 290.6L714.6 290.6L715.3 290.6L716.0 290.6L716.7 290.6L717.3 290.6L718.0 290.6L718.7 290.6L719.4 290.6L720.1 290.6L720.8 290.6L721.5 290.6L722.2 290.6L722.8 290.6L723.5 290.6L724.2 290.6L724.9 290.6L725.6 290.6L726.3 290.6L727.0 290.6L727.6 290.6L728.3 290.6L729.0 290.7L729.5 290.7L730.0 290.7L730.7 290.7L731.4 290.7L732.1 290.7L732.8 290.7L733.5 290.7L734.2 290.7L734.9 290.7L735.5 290.7L736.2 290.7L736.9 290.7L737.6 290.7L738.3 290.7L739.0 290.7L739.7 290.7L740.3 290.7L741.0 290.7L741.7 290.7L742.4 290.7L743.1 290.7L743.8 290.7L744.5 290.7L745.1 290.7L745.8 290.7L746.5 290.7L747.2 290.8L747.9 290.8L748.6 290.8L749.3 290.8L750.0 290.8L750.6 290.8L751.3 290.8L752.0 290.8L752.7 290.8L753.4 290.8L754.1 290.8L754.8 290.8L755.1 290.8" fill="none" stroke="#ff0000" stroke-width="1.5" stroke-linejoin="round"/>
<path d="M446.6 282.5L446.6 281.6L446.6 280.8L446.6 280.3L446.6 279.9L446.6 279.4L446.7 279.0L446.7 278.6L446.7 278.1L446.7 277.7L446.7 277.2L446.7 276.8L446.7 276.4L446.7 275.9L446.8 275.1L446.8 274.2L446.8 273.3L446.8 272.5L446.9 271.6L446.9 271.1L446.9 270.4L446.9 269.6L447.0 268.8L447.0 268.0L447.0 267.2L447.1 266.4L447.1 265.7L447.1 265.0L447.1 264.3L447.2 263.6L447.2 262.9L447.2 262.3L447.2 261.6L447.3 261.0L447.3 260.5L447.3 259.9L447.4 259.4L447.4 258.9L447.4 258.4L447.5 258.0L447.5 257.4L447.5 256.9L447.6 256.4L447.6 255.9L447.7 255.5L447.8 255.1L448.0 255.4L448.1 255.8L448.2 256.3L448.2 256.8L448.3 257.3L448.3 257.9L448.4 258.3L448.4 258.8L448.4 259.2L448.5 259.7L448.5 260.3L448.5 260.8L448.6 261.4L448.6 262.0L448.6 262.6L448.7 263.2L448.7 263.8L448.7 264.5L448.8 265.2L448.8 265.9L448.8 266.6L448.9 267.3L448.9 268.0L448.9 268.8L449.0 269.5L449.0 270.3L449.1 271.0L449.1 271.8L449.1 272.6L449.2 273.4L449.2 274.2L449.2 275.0L449.3 275.8L449.3 276.5L449.4 277.3L449.4 278.1L449.4 278.9L449.5 279.7L449.5 280.4L449.6 281.2L449.6 282.0L449.6 282.6L449.7 283.1L449.7 283.8L449.7 284.5L449.8 285.2L449.8 285.9L449.9 286.6L449.9 287.2L450.0 287.9L450.0 288.3L450.0 288.8L450.1 289.4L450.1 290.0L450.1 290.5L450.2 291.1L450.2 291.6L450.3 292.1L450.3 292.5L450.4 293.0L450.4 293.4L450.5 294.0L450.5 294.5L450.6 295.0L450.7 295.4L450.8 295.8L450.9 296.2L451.1 296.4L451.3 296.0L451.5 295.6L451.6 295.1L451.6 294.7L451.7 294.3L451.8 293.9L451.8 293.3L451.9 292.9L452.0 292.4L452.0 292.0L452.1 291.5L452.1 291.0L452.2 290.5L452.2 289.9L452.3 289.4L452.3 288.8L452.4 288.3L452.4 287.6L452.5 287.0L452.6 286.3L452.6 285.7L452.7 285.0L452.7 284.4L452.8 284.0L452.8 283.3L452.9 282.6L452.9 281.9L453.0 281.2L453.1 280.4L453.1 279.7L453.2 279.0L453.3 278.2L453.3 277.5L453.4 276.8L453.4 276.0L453.5 275.3L453.6 274.6L453.6 273.9L453.7 273.1L453.8 272.5L453.8 272.1L453.9 271.4L453.9 270.7L454.0 270.0L454.1 269.3L454.1 268.6L454.2 268.0L454.3 267.3L454.3 266.7L454.4 266.1L454.5 265.5L454.6 264.9L454.6 264.3L454.7 263.8L454.8 263.2L454.8 262.7L454.9 262.2L455.0 261.8L455.1 261.3L455.1 260.9L455.2 260.5L455.3 260.1L455.4 259.6L455.5 259.1L455.6 258.7L455.8 258.3L455.9 257.9L456.1 257.6L456.3 257.3L456.7 257.4L456.9 257.7L457.1 258.0L457.3 258.4L457.5 258.8L457.6 259.3L457.7 259.7L457.8 260.1L457.9 260.5L458.0 260.9L458.1 261.3L458.2 261.7L458.3 262.2L458.4 262.7L458.5 263.1L458.6 263.7L458.7 264.2L458.8 264.7L458.9 265.3L459.1 265.8L459.2 266.4L459.2 266.9L459.3 267.3L459.4 267.9L459.5 268.6L459.7 269.2L459.8 269.8L459.9 270.5L460.0 271.1L460.1 271.8L460.2 272.4L460.4 273.1L460.5 273.8L460.6 274.4L460.7 275.1L460.8 275.8L461.0 276.4L461.1 277.1L461.2 277.8L461.3 278.3L461.4 278.8L461.5 279.4L461.7 280.0L461.7 280.4L461.9 281.0L462.0 281.6L462.1 282.3L462.3 282.9L462.4 283.5L462.5 284.0L462.7 284.6L462.8 285.2L463.0 285.7L463.1 286.2L463.3 286.8L463.4 287.2L463.6 287.7L463.7 288.2L463.9 288.6L464.0 289.1L464.2 289.5L464.3 289.8L464.5 290.2L464.7 290.6L464.8 290.9L465.0 291.2L465.2 291.6L465.4 291.9L465.7 292.2L465.9 292.4L466.2 292.6L466.6 292.8L466.9 293.0L467.4 293.0L467.8 292.8L468.2 292.7L468.5 292.4L468.8 292.1L469.1 291.8L469.4 291.6L469.6 291.3L469.8 291.0L470.0 290.7L470.2 290.4L470.5 290.1L470.7 289.7L470.9 289.3L471.2 288.9L471.4 288.5L471.6 288.1L471.8 287.8L471.9 287.5L472.2 287.1L472.4 286.6L472.6 286.2L472.8 285.8L473.0 285.5L473.2 285.0L473.5 284.5L473.7 284.1L473.9 283.7L474.2 283.1L474.4 282.7L474.6 282.2L474.9 281.6L475.0 281.3L475.3 280.7L475.5 280.4L475.6 280.1L475.8 279.8L475.9 279.5L476.1 279.1L476.2 278.8L476.4 278.5L476.6 278.2L476.7 277.9L476.9 277.6L477.0 277.2L477.2 276.9L477.4 276.6L477.5 276.3L477.7 276.0L477.9 275.6L478.0 275.3L478.2 275.0L478.4 274.7L478.5 274.4L478.7 274.1L478.9 273.7L479.1 273.4L479.3 273.1L479.4 272.8L479.6 272.5L479.8 272.2L480.0 271.9L480.2 271.5L480.4 271.2L480.5 271.0L480.7 270.6L480.9 270.3L481.1 270.0L481.3 269.7L481.5 269.4L481.7 269.1L481.9 268.8L482.1 268.5L482.3 268.3L482.5 268.0L482.7 267.7L482.9 267.4L483.2 267.1L483.4 266.9L483.6 266.6L483.8 266.3L484.0 266.0L484.2 265.8L484.5 265.5L484.7 265.3L484.9 265.0L485.1 264.8L485.4 264.5L485.6 264.3L485.8 264.1L486.1 263.8L486.3 263.6L486.6 263.4L486.8 263.1L487.0 262.9L487.3 262.7L487.5 262.5L487.8 262.3L488.1 262.1L488.3 261.9L488.8 261.6L489.1 261.4L489.5 261.1L489.8 260.9L490.1 260.7L490.5 260.5L490.8 260.4L491.2 260.2L491.5 260.0L491.9 259.9L492.2 259.7L492.5 259.6L492.9 259.5L493.2 259.3L493.6 259.2L494.1 259.1L494.6 259.0L495.0 258.9L495.6 258.7L496.0 258.7L496.7 258.6L497.1 258.5L497.7 258.5L498.1 258.4L498.7 258.4L499.3 258.4L499.7 258.4L500.4 258.4L501.1 258.5L501.6 258.5L502.2 258.5L502.8 258.6L503.3 258.7L503.7 258.7L504.1 258.8L504.5 258.9L505.0 258.9L505.4 259.0L505.9 259.1L506.4 259.2L506.8 259.3L507.3 259.4L507.8 259.5L508.3 259.6L508.7 259.7L509.3 259.8L509.7 260.0L510.3 260.1L510.7 260.2L511.3 260.4L511.8 260.5L512.4 260.7L512.8 260.8L513.5 261.0L514.1 261.2L514.5 261.3L515.2 261.5L515.8 261.7L516.2 261.8L516.6 261.9L516.9 262.0L517.3 262.1L517.6 262.3L517.9 262.4L518.3 262.5L518.6 262.6L519.0 262.7L519.3 262.8L519.7 262.9L520.0 263.0L520.3 263.1L520.7 263.2L521.0 263.4L521.4 263.5L521.7 263.6L522.1 263.7L522.4 263.8L522.7 263.9L523.1 264.0L523.4 264.1L523.8 264.2L524.1 264.4L524.5 264.5L524.8 264.6L525.1 264.7L525.5 264.8L525.8 264.9L526.2 265.0L526.5 265.1L526.9 265.3L527.2 265.4L527.5 265.5L527.9 265.6L528.2 265.7L528.6 265.8L528.9 265.9L529.3 266.0L529.6 266.1L530.0 266.2L530.3 266.3L530.6 266.5L531.0 266.6L531.3 266.7L531.7 266.8L532.0 266.9L532.4 267.0L533.0 267.2L533.7 267.4L534.4 267.6L534.9 267.8L535.4 267.9L535.8 268.0L536.5 268.3L537.2 268.5L537.7 268.6L538.2 268.8L538.6 268.9L539.2 269.1L539.6 269.2L540.2 269.4L540.6 269.5L541.3 269.6L541.6 269.8L542.3 269.9L542.7 270.0L543.3 270.2L543.8 270.3L544.4 270.5L544.8 270.6L545.4 270.8L545.9 270.9L546.4 271.0L547.1 271.2L547.5 271.3L548.1 271.5L548.8 271.7L549.4 271.8L549.9 271.9L550.5 272.1L551.2 272.3L551.8 272.4L552.3 272.5L552.9 272.7L553.6 272.9L554.3 273.0L555.0 273.2L555.7 273.3L556.0 273.4L556.7 273.6L557.4 273.7L558.1 273.9L558.8 274.0L559.5 274.2L560.2 274.3L560.8 274.5L561.5 274.6L562.2 274.8L562.7 274.8L563.2 275.0L563.9 275.1L564.6 275.2L565.3 275.4L566.0 275.5L566.7 275.7L567.2 275.8L567.7 275.8L568.4 276.0L568.8 276.1L569.4 276.2L570.1 276.3L570.5 276.4L571.1 276.5L571.8 276.6L572.5 276.7L573.2 276.9L573.9 277.0L574.6 277.1L575.3 277.2L575.7 277.3L576.3 277.4L577.0 277.5L577.5 277.6L578.0 277.7L578.7 277.8L579.4 277.9L580.1 278.0L580.7 278.1L581.3 278.2L581.8 278.3L582.5 278.4L583.1 278.5L583.8 278.6L584.5 278.7L585.2 278.8L585.9 278.9L586.6 279.0L587.3 279.1L588.0 279.2L588.6 279.3L589.3 279.3L590.0 279.4L590.7 279.5L591.4 279.6L592.1 279.7L592.8 279.8L593.4 279.9L593.9 279.9L594.5 280.0L595.2 280.1L595.8 280.2L596.5 280.3L597.2 280.4L597.9 280.4L598.6 280.5L599.3 280.6L600.0 280.7L600.7 280.8L601.1 280.8L601.7 280.9L602.4 281.0L603.1 281.0L603.6 281.1L604.1 281.1L604.8 281.2L605.5 281.3L606.1 281.4L606.8 281.4L607.5 281.5L608.2 281.6L608.9 281.7L609.6 281.7L610.3 281.8L610.9 281.9L611.6 281.9L612.3 282.0L613.0 282.1L613.7 282.1L614.4 282.2L615.1 282.3L615.8 282.3L616.4 282.4L617.1 282.4L617.6 282.5L618.2 282.5L618.8 282.6L619.5 282.7L620.2 282.7L620.6 282.8L621.2 282.8L621.9 282.9L622.6 282.9L623.3 283.0L623.8 283.0L624.3 283.1L625.0 283.1L625.7 283.2L626.4 283.2L627.1 283.3L627.8 283.3L628.5 283.4L629.1 283.4L629.8 283.5L630.5 283.5L631.2 283.6L631.9 283.7L632.6 283.7L633.3 283.8L633.9 283.8L634.6 283.9L635.3 283.9L636.0 283.9L636.7 284.0L637.4 284.0L638.1 284.1L638.8 284.1L639.4 284.2L640.1 284.2L640.8 284.3L641.5 284.3L642.2 284.4L642.9 284.4L643.6 284.5L644.2 284.5L644.9 284.5L645.4 284.6L646.0 284.6L646.6 284.6L647.3 284.7L648.0 284.7L648.7 284.8L649.4 284.8L650.1 284.8L650.8 284.9L651.4 284.9L652.1 285.0L652.8 285.0L653.5 285.0L654.2 285.1L654.9 285.1L655.6 285.2L656.3 285.2L656.9 285.2L657.6 285.3L658.2 285.3L658.7 285.3L659.3 285.4L660.0 285.4L660.7 285.4L661.4 285.5L662.1 285.5L662.8 285.5L663.5 285.6L664.1 285.6L664.8 285.6L665.5 285.7L666.2 285.7L666.9 285.7L667.5 285.8L668.3 285.8L669.0 285.8L669.6 285.9L670.3 285.9L671.0 285.9L671.7 286.0L672.4 286.0L673.1 286.0L673.8 286.1L674.4 286.1L675.1 286.1L675.8 286.1L676.5 286.2L677.2 286.2L677.8 286.2L678.2 286.2L678.9 286.3L679.6 286.3L680.3 286.3L681.0 286.4L681.7 286.4L682.3 286.4L683.0 286.4L683.7 286.5L684.4 286.5L685.1 286.5L685.8 286.5L686.5 286.6L687.1 286.6L687.8 286.6L688.5 286.6L689.2 286.7L689.9 286.7L690.6 286.7L691.3 286.7L691.9 286.8L692.6 286.8L693.3 286.8L694.0 286.8L694.7 286.9L695.4 286.9L696.1 286.9L696.8 286.9L697.4 287.0L698.1 287.0L698.8 287.0L699.5 287.0L700.2 287.1L700.9 287.1L701.6 287.1L702.2 287.1L702.9 287.1L703.6 287.2L704.3 287.2L705.0 287.2L705.7 287.2L706.4 287.3L707.0 287.3L707.7 287.3L708.4 287.3L709.1 287.3L709.8 287.4L710.5 287.4L711.2 287.4L711.9 287.4L712.5 287.4L713.2 287.5L713.9 287.5L714.6 287.5L715.3 287.5L716.0 287.5L716.7 287.6L717.3 287.6L718.0 287.6L718.7 287.6L719.4 287.6L720.1 287.6L720.8 287.7L721.5 287.7L722.2 287.7L722.8 287.7L723.5 287.7L724.2 287.8L724.9 287.8L725.6 287.8L726.3 287.8L727.0 287.8L727.6 287.8L728.3 287.9L729.0 287.9L729.5 287.9L730.0 287.9L730.7 287.9L731.4 287.9L732.1 288.0L732.8 288.0L733.5 288.0L734.2 288.0L734.9 288.0L735.5 288.0L736.2 288.0L736.9 288.1L737.6 288.1L738.3 288.1L739.0 288.1L739.7 288.1L740.3 288.1L741.0 288.2L741.7 288.2L742.4 288.2L743.1 288.2L743.8 288.2L744.5 288.2L745.1 288.2L745.8 288.3L746.5 288.3L747.2 288.3L747.9 288.3L748.6 288.3L749.3 288.3L750.0 288.3L750.6 288.4L751.3 288.4L752.0 288.4L752.7 288.4L753.4 288.4L754.1 288.4L754.8 288.4L755.1 288.4" fill="none" stroke="#0000ff" stroke-width="1.5" stroke-linejoin="round"/>
<path d="M446.6 291.6L755.1 291.6" fill="none" stroke="#000000" stroke-width="1.3" stroke-linejoin="round"/>
</g>
<path d="M61.60,11.20H370.30V169.50H61.60Z" fill="none" stroke="#000" stroke-width="1"/>
<path d="M446.55,11.20H755.10V169.50H446.55Z" fill="none" stroke="#000" stroke-width="1"/>
<path d="M61.60,212.15H370.30V371.10H61.60Z" fill="none" stroke="#000" stroke-width="1"/>
<path d="M446.55,212.15H755.10V371.10H446.55Z" fill="none" stroke="#000" stroke-width="1"/>
<g font-family='"Liberation Serif", serif' fill="#111">
<text x="88.86" y="183.65" font-size="13.4" text-anchor="middle">0.2</text>
<text x="144.99" y="183.65" font-size="13.4" text-anchor="middle">0.4</text>
<text x="201.12" y="183.65" font-size="13.4" text-anchor="middle">0.6</text>
<text x="257.25" y="183.65" font-size="13.4" text-anchor="middle">0.8</text>
<text x="313.37" y="183.65" font-size="13.4" text-anchor="middle">1</text>
<text x="369.50" y="183.65" font-size="13.4" text-anchor="middle">1.2</text>
<text x="55.70" y="174.10" font-size="13.4" text-anchor="end">0</text>
<text x="55.70" y="142.44" font-size="13.4" text-anchor="end">0.02</text>
<text x="55.70" y="110.78" font-size="13.4" text-anchor="end">0.04</text>
<text x="55.70" y="79.12" font-size="13.4" text-anchor="end">0.06</text>
<text x="55.70" y="47.46" font-size="13.4" text-anchor="end">0.08</text>
<text x="55.70" y="15.80" font-size="13.4" text-anchor="end">0.1</text>
<text x="481.35" y="183.65" font-size="13.4" text-anchor="middle">0.4</text>
<text x="528.82" y="183.65" font-size="13.4" text-anchor="middle">0.8</text>
<text x="576.29" y="183.65" font-size="13.4" text-anchor="middle">1.2</text>
<text x="623.76" y="183.65" font-size="13.4" text-anchor="middle">1.6</text>
<text x="671.23" y="183.65" font-size="13.4" text-anchor="middle">2</text>
<text x="718.70" y="183.65" font-size="13.4" text-anchor="middle">2.4</text>
<text x="440.65" y="174.10" font-size="13.4" text-anchor="end">0</text>
<text x="440.65" y="142.44" font-size="13.4" text-anchor="end">0.2</text>
<text x="440.65" y="110.78" font-size="13.4" text-anchor="end">0.4</text>
<text x="440.65" y="79.12" font-size="13.4" text-anchor="end">0.6</text>
<text x="440.65" y="47.46" font-size="13.4" text-anchor="end">0.8</text>
<text x="440.65" y="15.80" font-size="13.4" text-anchor="end">1</text>
<text x="88.86" y="385.25" font-size="13.4" text-anchor="middle">0.2</text>
<text x="144.99" y="385.25" font-size="13.4" text-anchor="middle">0.4</text>
<text x="201.12" y="385.25" font-size="13.4" text-anchor="middle">0.6</text>
<text x="257.25" y="385.25" font-size="13.4" text-anchor="middle">0.8</text>
<text x="313.37" y="385.25" font-size="13.4" text-anchor="middle">1</text>
<text x="369.50" y="385.25" font-size="13.4" text-anchor="middle">1.2</text>
<text x="55.70" y="375.70" font-size="13.4" text-anchor="end">0.03</text>
<path d="M23.05,372.30H31.05" stroke="#111" stroke-width="0.85" fill="none"/>
<text x="55.70" y="335.96" font-size="13.4" text-anchor="end">0.015</text>
<path d="M16.35,332.56H24.35" stroke="#111" stroke-width="0.85" fill="none"/>
<text x="55.70" y="296.23" font-size="13.4" text-anchor="end">0</text>
<text x="55.70" y="256.49" font-size="13.4" text-anchor="end">0.015</text>
<text x="55.70" y="216.75" font-size="13.4" text-anchor="end">0.03</text>
<text x="481.35" y="385.25" font-size="13.4" text-anchor="middle">0.4</text>
<text x="528.82" y="385.25" font-size="13.4" text-anchor="middle">0.8</text>
<text x="576.29" y="385.25" font-size="13.4" text-anchor="middle">1.2</text>
<text x="623.76" y="385.25" font-size="13.4" text-anchor="middle">1.6</text>
<text x="671.23" y="385.25" font-size="13.4" text-anchor="middle">2</text>
<text x="718.70" y="385.25" font-size="13.4" text-anchor="middle">2.4</text>
<text x="440.65" y="375.70" font-size="13.4" text-anchor="end">0.3</text>
<path d="M414.70,372.30H422.70" stroke="#111" stroke-width="0.85" fill="none"/>
<text x="440.65" y="335.96" font-size="13.4" text-anchor="end">0.15</text>
<path d="M408.00,332.56H416.00" stroke="#111" stroke-width="0.85" fill="none"/>
<text x="440.65" y="296.23" font-size="13.4" text-anchor="end">0</text>
<text x="440.65" y="256.49" font-size="13.4" text-anchor="end">0.15</text>
<text x="440.65" y="216.75" font-size="13.4" text-anchor="end">0.3</text>
<text x="187.20" y="198.60" font-size="12.6" font-style="italic" textLength="8.60" lengthAdjust="spacingAndGlyphs">E</text>
<text x="196.10" y="200.60" font-size="8.8" font-style="italic" textLength="5.20" lengthAdjust="spacingAndGlyphs">ν</text>
<text x="208.50" y="198.60" font-size="12.6" textLength="35.20" lengthAdjust="spacingAndGlyphs">(GeV)</text>
<text x="572.00" y="198.60" font-size="12.6" font-style="italic" textLength="8.60" lengthAdjust="spacingAndGlyphs">E</text>
<text x="580.90" y="200.60" font-size="8.8" font-style="italic" textLength="5.20" lengthAdjust="spacingAndGlyphs">ν</text>
<text x="593.30" y="198.60" font-size="12.6" textLength="35.20" lengthAdjust="spacingAndGlyphs">(GeV)</text>
<text x="187.20" y="400.10" font-size="12.6" font-style="italic" textLength="8.60" lengthAdjust="spacingAndGlyphs">E</text>
<text x="196.10" y="402.10" font-size="8.8" font-style="italic" textLength="5.20" lengthAdjust="spacingAndGlyphs">ν</text>
<text x="208.50" y="400.10" font-size="12.6" textLength="35.20" lengthAdjust="spacingAndGlyphs">(GeV)</text>
<text x="572.00" y="400.10" font-size="12.6" font-style="italic" textLength="8.60" lengthAdjust="spacingAndGlyphs">E</text>
<text x="580.90" y="402.10" font-size="8.8" font-style="italic" textLength="5.20" lengthAdjust="spacingAndGlyphs">ν</text>
<text x="593.30" y="400.10" font-size="12.6" textLength="35.20" lengthAdjust="spacingAndGlyphs">(GeV)</text>
<text x="89.60" y="25.90" font-size="12.6" font-style="italic" textLength="8.00" lengthAdjust="spacingAndGlyphs">L</text>
<text x="101.70" y="25.90" font-size="13.4" textLength="9.80" lengthAdjust="spacingAndGlyphs">=</text>
<text x="115.90" y="25.90" font-size="13.4" textLength="19.50" lengthAdjust="spacingAndGlyphs">295</text>
<text x="141.10" y="25.90" font-size="12.6" textLength="17.20" lengthAdjust="spacingAndGlyphs">km</text>
<text x="493.70" y="25.90" font-size="12.6" font-style="italic" textLength="8.00" lengthAdjust="spacingAndGlyphs">L</text>
<text x="505.80" y="25.90" font-size="13.4" textLength="9.80" lengthAdjust="spacingAndGlyphs">=</text>
<text x="520.00" y="25.90" font-size="13.4" textLength="19.50" lengthAdjust="spacingAndGlyphs">295</text>
<text x="545.20" y="25.90" font-size="12.6" textLength="17.20" lengthAdjust="spacingAndGlyphs">km</text>
<text x="327.30" y="38.20" font-size="13.4" textLength="6.80" lengthAdjust="spacingAndGlyphs">3</text>
<text x="333.80" y="38.20" font-size="12.6" font-style="italic" textLength="7.60" lengthAdjust="spacingAndGlyphs">ν</text>
<text x="171.50" y="55.50" font-size="13.2" textLength="10.40" lengthAdjust="spacingAndGlyphs">Δ</text>
<text x="182.00" y="55.50" font-size="12.6" font-style="italic" textLength="12.00" lengthAdjust="spacingAndGlyphs">m</text>
<text x="194.70" y="51.10" font-size="9.6" textLength="5.20" lengthAdjust="spacingAndGlyphs">2</text>
<text x="193.90" y="59.60" font-size="9.6" textLength="11.40" lengthAdjust="spacingAndGlyphs">41</text>
<text x="210.00" y="55.50" font-size="13.4" textLength="10.80" lengthAdjust="spacingAndGlyphs">=</text>
<text x="224.90" y="55.50" font-size="13.4" textLength="12.60" lengthAdjust="spacingAndGlyphs">10</text>
<text x="238.30" y="51.20" font-size="9.6" textLength="13.60" lengthAdjust="spacingAndGlyphs">−3</text>
<text x="257.50" y="55.50" font-size="12.6" textLength="16.40" lengthAdjust="spacingAndGlyphs">eV</text>
<text x="273.90" y="51.10" font-size="9.6" textLength="5.20" lengthAdjust="spacingAndGlyphs">2</text>
<text x="280.10" y="55.50" font-size="13.4" textLength="3.40" lengthAdjust="spacingAndGlyphs">,</text>
<text x="287.70" y="55.50" font-size="12.6" font-style="italic" textLength="5.60" lengthAdjust="spacingAndGlyphs">s</text>
<text x="294.60" y="51.10" font-size="9.6" textLength="5.20" lengthAdjust="spacingAndGlyphs">2</text>
<text x="294.20" y="59.60" font-size="9.6" textLength="11.40" lengthAdjust="spacingAndGlyphs">14</text>
<text x="309.90" y="55.50" font-size="13.4" textLength="10.80" lengthAdjust="spacingAndGlyphs">=</text>
<text x="324.10" y="55.50" font-size="13.4" textLength="16.60" lengthAdjust="spacingAndGlyphs">0.1</text>
<text x="171.50" y="73.70" font-size="13.2" textLength="10.40" lengthAdjust="spacingAndGlyphs">Δ</text>
<text x="182.00" y="73.70" font-size="12.6" font-style="italic" textLength="12.00" lengthAdjust="spacingAndGlyphs">m</text>
<text x="194.70" y="69.30" font-size="9.6" textLength="5.20" lengthAdjust="spacingAndGlyphs">2</text>
<text x="193.90" y="77.80" font-size="9.6" textLength="11.40" lengthAdjust="spacingAndGlyphs">41</text>
<text x="210.00" y="73.70" font-size="13.4" textLength="10.80" lengthAdjust="spacingAndGlyphs">=</text>
<text x="224.90" y="73.70" font-size="13.4" textLength="12.60" lengthAdjust="spacingAndGlyphs">10</text>
<text x="238.30" y="69.40" font-size="9.6" textLength="13.60" lengthAdjust="spacingAndGlyphs">−3</text>
<text x="257.50" y="73.70" font-size="12.6" textLength="16.40" lengthAdjust="spacingAndGlyphs">eV</text>
<text x="273.90" y="69.30" font-size="9.6" textLength="5.20" lengthAdjust="spacingAndGlyphs">2</text>
<text x="280.10" y="73.70" font-size="13.4" textLength="3.40" lengthAdjust="spacingAndGlyphs">,</text>
<text x="287.70" y="73.70" font-size="12.6" font-style="italic" textLength="5.60" lengthAdjust="spacingAndGlyphs">s</text>
<text x="294.60" y="69.30" font-size="9.6" textLength="5.20" lengthAdjust="spacingAndGlyphs">2</text>
<text x="294.20" y="77.80" font-size="9.6" textLength="11.40" lengthAdjust="spacingAndGlyphs">14</text>
<text x="309.90" y="73.70" font-size="13.4" textLength="10.80" lengthAdjust="spacingAndGlyphs">=</text>
<text x="324.10" y="73.70" font-size="13.4" textLength="16.60" lengthAdjust="spacingAndGlyphs">0.3</text>
<text x="171.50" y="91.90" font-size="13.2" textLength="10.40" lengthAdjust="spacingAndGlyphs">Δ</text>
<text x="182.00" y="91.90" font-size="12.6" font-style="italic" textLength="12.00" lengthAdjust="spacingAndGlyphs">m</text>
<text x="194.70" y="87.50" font-size="9.6" textLength="5.20" lengthAdjust="spacingAndGlyphs">2</text>
<text x="193.90" y="96.00" font-size="9.6" textLength="11.40" lengthAdjust="spacingAndGlyphs">41</text>
<text x="210.00" y="91.90" font-size="13.4" textLength="10.80" lengthAdjust="spacingAndGlyphs">=</text>
<text x="224.90" y="91.90" font-size="13.4" textLength="12.60" lengthAdjust="spacingAndGlyphs">10</text>
<text x="238.30" y="87.60" font-size="9.6" textLength="13.60" lengthAdjust="spacingAndGlyphs">−5</text>
<text x="257.50" y="91.90" font-size="12.6" textLength="16.40" lengthAdjust="spacingAndGlyphs">eV</text>
<text x="273.90" y="87.50" font-size="9.6" textLength="5.20" lengthAdjust="spacingAndGlyphs">2</text>
<text x="280.10" y="91.90" font-size="13.4" textLength="3.40" lengthAdjust="spacingAndGlyphs">,</text>
<text x="287.70" y="91.90" font-size="12.6" font-style="italic" textLength="5.60" lengthAdjust="spacingAndGlyphs">s</text>
<text x="294.60" y="87.50" font-size="9.6" textLength="5.20" lengthAdjust="spacingAndGlyphs">2</text>
<text x="294.20" y="96.00" font-size="9.6" textLength="11.40" lengthAdjust="spacingAndGlyphs">14</text>
<text x="309.90" y="91.90" font-size="13.4" textLength="10.80" lengthAdjust="spacingAndGlyphs">=</text>
<text x="324.10" y="91.90" font-size="13.4" textLength="16.60" lengthAdjust="spacingAndGlyphs">0.3</text>
<text x="713.40" y="105.30" font-size="13.4" textLength="6.80" lengthAdjust="spacingAndGlyphs">3</text>
<text x="719.90" y="105.30" font-size="12.6" font-style="italic" textLength="7.60" lengthAdjust="spacingAndGlyphs">ν</text>
<text x="550.60" y="120.90" font-size="13.2" textLength="10.40" lengthAdjust="spacingAndGlyphs">Δ</text>
<text x="561.10" y="120.90" font-size="12.6" font-style="italic" textLength="12.00" lengthAdjust="spacingAndGlyphs">m</text>
<text x="573.80" y="116.50" font-size="9.6" textLength="5.20" lengthAdjust="spacingAndGlyphs">2</text>
<text x="573.00" y="125.00" font-size="9.6" textLength="11.40" lengthAdjust="spacingAndGlyphs">41</text>
<text x="589.10" y="120.90" font-size="13.4" textLength="10.80" lengthAdjust="spacingAndGlyphs">=</text>
<text x="604.00" y="120.90" font-size="13.4" textLength="12.60" lengthAdjust="spacingAndGlyphs">10</text>
<text x="617.40" y="116.60" font-size="9.6" textLength="13.60" lengthAdjust="spacingAndGlyphs">−2</text>
<text x="636.60" y="120.90" font-size="12.6" textLength="16.40" lengthAdjust="spacingAndGlyphs">eV</text>
<text x="653.00" y="116.50" font-size="9.6" textLength="5.20" lengthAdjust="spacingAndGlyphs">2</text>
<text x="659.20" y="120.90" font-size="13.4" textLength="3.40" lengthAdjust="spacingAndGlyphs">,</text>
<text x="666.80" y="120.90" font-size="12.6" font-style="italic" textLength="5.60" lengthAdjust="spacingAndGlyphs">s</text>
<text x="673.70" y="116.50" font-size="9.6" textLength="5.20" lengthAdjust="spacingAndGlyphs">2</text>
<text x="673.30" y="125.00" font-size="9.6" textLength="11.40" lengthAdjust="spacingAndGlyphs">24</text>
<text x="689.00" y="120.90" font-size="13.4" textLength="10.80" lengthAdjust="spacingAndGlyphs">=</text>
<text x="703.20" y="120.90" font-size="13.4" textLength="23.20" lengthAdjust="spacingAndGlyphs">0.01</text>
<text x="550.60" y="137.20" font-size="13.2" textLength="10.40" lengthAdjust="spacingAndGlyphs">Δ</text>
<text x="561.10" y="137.20" font-size="12.6" font-style="italic" textLength="12.00" lengthAdjust="spacingAndGlyphs">m</text>
<text x="573.80" y="132.80" font-size="9.6" textLength="5.20" lengthAdjust="spacingAndGlyphs">2</text>
<text x="573.00" y="141.30" font-size="9.6" textLength="11.40" lengthAdjust="spacingAndGlyphs">41</text>
<text x="589.10" y="137.20" font-size="13.4" textLength="10.80" lengthAdjust="spacingAndGlyphs">=</text>
<text x="604.00" y="137.20" font-size="13.4" textLength="12.60" lengthAdjust="spacingAndGlyphs">10</text>
<text x="617.40" y="132.90" font-size="9.6" textLength="13.60" lengthAdjust="spacingAndGlyphs">−3</text>
<text x="636.60" y="137.20" font-size="12.6" textLength="16.40" lengthAdjust="spacingAndGlyphs">eV</text>
<text x="653.00" y="132.80" font-size="9.6" textLength="5.20" lengthAdjust="spacingAndGlyphs">2</text>
<text x="659.20" y="137.20" font-size="13.4" textLength="3.40" lengthAdjust="spacingAndGlyphs">,</text>
<text x="666.80" y="137.20" font-size="12.6" font-style="italic" textLength="5.60" lengthAdjust="spacingAndGlyphs">s</text>
<text x="673.70" y="132.80" font-size="9.6" textLength="5.20" lengthAdjust="spacingAndGlyphs">2</text>
<text x="673.30" y="141.30" font-size="9.6" textLength="11.40" lengthAdjust="spacingAndGlyphs">24</text>
<text x="689.00" y="137.20" font-size="13.4" textLength="10.80" lengthAdjust="spacingAndGlyphs">=</text>
<text x="703.20" y="137.20" font-size="13.4" textLength="23.20" lengthAdjust="spacingAndGlyphs">0.03</text>
<text x="557.30" y="153.50" font-size="13.2" textLength="10.40" lengthAdjust="spacingAndGlyphs">Δ</text>
<text x="567.80" y="153.50" font-size="12.6" font-style="italic" textLength="12.00" lengthAdjust="spacingAndGlyphs">m</text>
<text x="580.50" y="149.10" font-size="9.6" textLength="5.20" lengthAdjust="spacingAndGlyphs">2</text>
<text x="579.70" y="157.60" font-size="9.6" textLength="11.40" lengthAdjust="spacingAndGlyphs">41</text>
<text x="595.80" y="153.50" font-size="13.4" textLength="10.80" lengthAdjust="spacingAndGlyphs">=</text>
<text x="610.70" y="153.50" font-size="13.4" textLength="12.60" lengthAdjust="spacingAndGlyphs">10</text>
<text x="624.10" y="149.20" font-size="9.6" textLength="13.60" lengthAdjust="spacingAndGlyphs">−5</text>
<text x="643.30" y="153.50" font-size="12.6" textLength="16.40" lengthAdjust="spacingAndGlyphs">eV</text>
<text x="659.70" y="149.10" font-size="9.6" textLength="5.20" lengthAdjust="spacingAndGlyphs">2</text>
<text x="665.90" y="153.50" font-size="13.4" textLength="3.40" lengthAdjust="spacingAndGlyphs">,</text>
<text x="673.50" y="153.50" font-size="12.6" font-style="italic" textLength="5.60" lengthAdjust="spacingAndGlyphs">s</text>
<text x="680.40" y="149.10" font-size="9.6" textLength="5.20" lengthAdjust="spacingAndGlyphs">2</text>
<text x="680.00" y="157.60" font-size="9.6" textLength="11.40" lengthAdjust="spacingAndGlyphs">24</text>
<text x="695.70" y="153.50" font-size="13.4" textLength="10.80" lengthAdjust="spacingAndGlyphs">=</text>
<text x="709.90" y="153.50" font-size="13.4" textLength="16.60" lengthAdjust="spacingAndGlyphs">0.3</text>
<text x="24.30" y="124.60" font-size="12.6" font-style="italic" textLength="8.60" lengthAdjust="spacingAndGlyphs" transform="rotate(-90 24.30 124.60)">P</text>
<text x="24.30" y="115.40" font-size="13.4" textLength="5.40" lengthAdjust="spacingAndGlyphs" transform="rotate(-90 24.30 115.40)">(</text>
<text x="24.30" y="108.80" font-size="12.6" font-style="italic" textLength="6.80" lengthAdjust="spacingAndGlyphs" transform="rotate(-90 24.30 108.80)">ν</text>
<text x="26.50" y="101.60" font-size="8.8" font-style="italic" textLength="6.20" lengthAdjust="spacingAndGlyphs" transform="rotate(-90 26.50 101.60)">μ</text>
<text x="24.30" y="75.00" font-size="12.6" font-style="italic" textLength="6.80" lengthAdjust="spacingAndGlyphs" transform="rotate(-90 24.30 75.00)">ν</text>
<text x="26.50" y="68.00" font-size="8.8" font-style="italic" textLength="4.40" lengthAdjust="spacingAndGlyphs" transform="rotate(-90 26.50 68.00)">e</text>
<text x="24.30" y="63.40" font-size="13.4" textLength="5.40" lengthAdjust="spacingAndGlyphs" transform="rotate(-90 24.30 63.40)">)</text>
<text x="414.60" y="126.00" font-size="12.6" font-style="italic" textLength="8.60" lengthAdjust="spacingAndGlyphs" transform="rotate(-90 414.60 126.00)">P</text>
<text x="414.60" y="116.80" font-size="13.4" textLength="5.40" lengthAdjust="spacingAndGlyphs" transform="rotate(-90 414.60 116.80)">(</text>
<text x="414.60" y="109.60" font-size="12.6" font-style="italic" textLength="6.80" lengthAdjust="spacingAndGlyphs" transform="rotate(-90 414.60 109.60)">ν</text>
<text x="416.80" y="102.20" font-size="8.8" font-style="italic" textLength="6.20" lengthAdjust="spacingAndGlyphs" transform="rotate(-90 416.80 102.20)">μ</text>
<text x="414.60" y="74.30" font-size="12.6" font-style="italic" textLength="6.80" lengthAdjust="spacingAndGlyphs" transform="rotate(-90 414.60 74.30)">ν</text>
<text x="416.80" y="67.00" font-size="8.8" font-style="italic" textLength="6.20" lengthAdjust="spacingAndGlyphs" transform="rotate(-90 416.80 67.00)">μ</text>
<text x="414.60" y="61.80" font-size="13.4" textLength="5.40" lengthAdjust="spacingAndGlyphs" transform="rotate(-90 414.60 61.80)">)</text>
<path d="M21.40,91.00V79.70M18.00,82.80Q20.60,82.00 21.40,79.40Q22.20,82.00 24.80,82.80" fill="none" stroke="#111" stroke-width="0.75"/>
<path d="M411.40,91.90V80.60M408.00,83.70Q410.60,82.90 411.40,80.30Q412.20,82.90 414.80,83.70" fill="none" stroke="#111" stroke-width="0.75"/>
<text x="18.30" y="326.20" font-size="12.6" font-style="italic" textLength="8.60" lengthAdjust="spacingAndGlyphs" transform="rotate(-90 18.30 326.20)">P</text>
<text x="12.40" y="317.60" font-size="9.6" textLength="20.60" lengthAdjust="spacingAndGlyphs" transform="rotate(-90 12.40 317.60)">3+1</text>
<text x="22.20" y="317.80" font-size="8.8" font-style="italic" textLength="10.60" lengthAdjust="spacingAndGlyphs" transform="rotate(-90 22.20 317.80)">μe</text>
<text x="18.30" y="295.40" font-size="13.4" textLength="9.40" lengthAdjust="spacingAndGlyphs" transform="rotate(-90 18.30 295.40)">−</text>
<text x="18.30" y="283.00" font-size="12.6" font-style="italic" textLength="8.60" lengthAdjust="spacingAndGlyphs" transform="rotate(-90 18.30 283.00)">P</text>
<text x="12.40" y="274.20" font-size="9.6" textLength="4.80" lengthAdjust="spacingAndGlyphs" transform="rotate(-90 12.40 274.20)">3</text>
<text x="12.40" y="269.40" font-size="8.8" font-style="italic" textLength="5.40" lengthAdjust="spacingAndGlyphs" transform="rotate(-90 12.40 269.40)">ν</text>
<text x="22.20" y="274.60" font-size="8.8" font-style="italic" textLength="10.60" lengthAdjust="spacingAndGlyphs" transform="rotate(-90 22.20 274.60)">μe</text>
<text x="409.80" y="326.80" font-size="12.6" font-style="italic" textLength="8.60" lengthAdjust="spacingAndGlyphs" transform="rotate(-90 409.80 326.80)">P</text>
<text x="403.90" y="318.20" font-size="9.6" textLength="20.60" lengthAdjust="spacingAndGlyphs" transform="rotate(-90 403.90 318.20)">3+1</text>
<text x="413.70" y="318.40" font-size="8.8" font-style="italic" textLength="11.80" lengthAdjust="spacingAndGlyphs" transform="rotate(-90 413.70 318.40)">μμ</text>
<text x="409.80" y="296.60" font-size="13.4" textLength="9.40" lengthAdjust="spacingAndGlyphs" transform="rotate(-90 409.80 296.60)">−</text>
<text x="409.80" y="284.20" font-size="12.6" font-style="italic" textLength="8.60" lengthAdjust="spacingAndGlyphs" transform="rotate(-90 409.80 284.20)">P</text>
<text x="403.90" y="275.40" font-size="9.6" textLength="4.80" lengthAdjust="spacingAndGlyphs" transform="rotate(-90 403.90 275.40)">3</text>
<text x="403.90" y="270.60" font-size="8.8" font-style="italic" textLength="5.40" lengthAdjust="spacingAndGlyphs" transform="rotate(-90 403.90 270.60)">ν</text>
<text x="413.70" y="275.80" font-size="8.8" font-style="italic" textLength="11.80" lengthAdjust="spacingAndGlyphs" transform="rotate(-90 413.70 275.80)">μμ</text>
</g>
<path d="M347.00,33.50H360.10" stroke="#000000" stroke-width="1.6" fill="none"/>
<path d="M347.00,51.70H360.10" stroke="#0000ff" stroke-width="1.6" fill="none"/>
<path d="M347.00,69.90H360.10" stroke="#ff0000" stroke-width="1.6" fill="none"/>
<path d="M347.00,88.10H360.10" stroke="#8b008b" stroke-width="1.6" fill="none" stroke-dasharray="3.4 1.3"/>
<path d="M733.10,101.00H745.30" stroke="#000000" stroke-width="1.6" fill="none"/>
<path d="M733.10,117.05H745.30" stroke="#8b008b" stroke-width="1.6" fill="none" stroke-dasharray="3.4 1.3"/>
<path d="M733.10,133.35H745.30" stroke="#ff0000" stroke-width="1.6" fill="none"/>
<path d="M733.10,149.65H745.30" stroke="#0000ff" stroke-width="1.6" fill="none"/>
</svg>
</body></html>
